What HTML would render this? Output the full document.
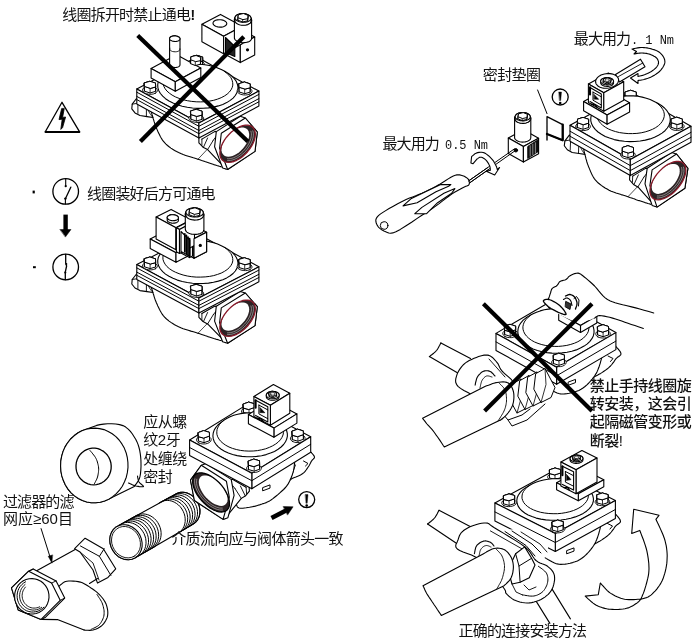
<!DOCTYPE html>
<html><head><meta charset="utf-8"><title>安装说明</title>
<style>html,body{margin:0;padding:0;background:#fff}svg{display:block}
text{font-family:"Liberation Sans","Noto Sans CJK SC",sans-serif;font-size:14px;fill:#111}
</style></head><body>
<svg width="700" height="643" viewBox="0 0 700 643" stroke-linejoin="round" stroke-linecap="round">
<defs><filter id="idf" x="0" y="0" width="700" height="643" filterUnits="userSpaceOnUse"><feOffset dx="0" dy="0"/></filter></defs>
<rect width="700" height="643" fill="#fff"/>
<path d="M136.5 274 L132.2 279.5 L131.8 284 L135 288 L140 290.6 L147 291.6 L153 292.5 L153 276Z" fill="#fff" stroke="#000" stroke-width="1.1" />
<path d="M137.9 278.6 L137.9 288.5" fill="none" stroke="#000" stroke-width="0.9" />
<path d="M146.4 282 L146.4 291.4" fill="none" stroke="#000" stroke-width="0.9" />
<path d="M132.2 279.5 L137.9 278.6 L146.4 282" fill="none" stroke="#000" stroke-width="0.9" />
<path d="M150 282 L150.2 282.8 L150.5 283.9 L150.8 285.1 L151.2 286.5 L151.6 288 L152 289.5 L152.5 291.1 L152.9 292.5 L153.3 293.9 L153.8 295.3 L154.2 296.8 L154.7 298.3 L155.2 299.7 L155.8 301.2 L156.4 302.8 L157.1 304.3 L157.8 305.9 L158.6 307.5 L159.4 309.2 L160.2 310.8 L161.2 312.5 L162.2 314.1 L163.3 315.6 L164.6 317.1 L166 318.5 L167.5 319.8 L169.1 321.1 L170.9 322.4 L172.7 323.5 L174.6 324.7 L176.6 325.8 L178.6 326.8 L180.8 327.8 L183.2 328.7 L185.7 329.5 L188.3 330.3 L190.9 331.1 L193.4 331.8 L195.8 332.5 L197.9 333.2 L199.8 333.8 L201.6 334.4 L203.3 335 L204.8 335.6 L206.3 336.1 L207.8 336.6 L209.2 337 L210.7 337.5 L212.2 338 L213.8 338.5 L215.3 338.9 L216.8 339.4 L218.3 339.8 L219.5 340.2 L220.6 340.5 L221.4 340.7 L240 330 L240 300 L200 290 L150 275Z" fill="#fff" stroke="none" stroke-width="0" />
<path d="M150 282 L150.2 282.8 L150.5 283.9 L150.8 285.1 L151.2 286.5 L151.6 288 L152 289.5 L152.5 291.1 L152.9 292.5 L153.3 293.9 L153.8 295.3 L154.2 296.8 L154.7 298.3 L155.2 299.7 L155.8 301.2 L156.4 302.8 L157.1 304.3 L157.8 305.9 L158.6 307.5 L159.4 309.2 L160.2 310.8 L161.2 312.5 L162.2 314.1 L163.3 315.6 L164.6 317.1 L166 318.5 L167.5 319.8 L169.1 321.1 L170.9 322.4 L172.7 323.5 L174.6 324.7 L176.6 325.8 L178.6 326.8 L180.8 327.8 L183.2 328.7 L185.7 329.5 L188.3 330.3 L190.9 331.1 L193.4 331.8 L195.8 332.5 L197.9 333.2 L199.8 333.8 L201.6 334.4 L203.3 335 L204.8 335.6 L206.3 336.1 L207.8 336.6 L209.2 337 L210.7 337.5 L212.2 338 L213.8 338.5 L215.3 338.9 L216.8 339.4 L218.3 339.8 L219.5 340.2 L220.6 340.5 L221.4 340.7" fill="none" stroke="#000" stroke-width="1.1" />
<path d="M146 278 L146.2 278.7 L146.5 279.7 L146.9 280.9 L147.3 282.2 L147.7 283.5 L148.1 284.8 L148.6 286 L149 287 L149.5 287.9 L150 288.8 L150.6 289.6 L151.1 290.3 L151.7 291 L152.2 291.6 L152.6 292.1 L152.9 292.5" fill="none" stroke="#000" stroke-width="0.9" />
<path d="M198.9 311 L198.9 317.3 L203 321.5 L207.6 323.9 L225.9 342.7 L230 320 L222 306 L215 305Z" fill="#fff" stroke="none" stroke-width="0" />
<path d="M198.9 312.9 L198.9 317.3 L203 321.5 L207.6 323.9 L225.9 342.7" fill="none" stroke="#000" stroke-width="1.1" />
<path d="M201.9 313.6 L201.9 319.5" fill="none" stroke="#000" stroke-width="0.9" />
<path d="M201.9 313.6 L215 306.1 L221.3 307.9" fill="none" stroke="#000" stroke-width="1.1" />
<path d="M207.6 312.5 L203.5 321.5" fill="none" stroke="#000" stroke-width="0.9" />
<path d="M213.3 314.7 L219.6 306.7" fill="none" stroke="#000" stroke-width="0.9" />
<path d="M213.3 314.7 L207.6 323.9" fill="none" stroke="#000" stroke-width="0.9" />
<path d="M198 333.2 L207 323.9" fill="none" stroke="#000" stroke-width="0.7" />
<path d="M214.6 321.1 L216.3 306.3 L240.3 291.4 L245.3 293 L257.3 306.7 L255 325.6 L227.6 343.3 L222.6 341.7Z" fill="#fff" stroke="#000" stroke-width="1.1" />
<path d="M221.3 307.9 L245.3 293 L257.3 306.7 L255 325.6 L227.6 343.3 L219.6 322.7Z" fill="#fff" stroke="#000" stroke-width="1.1" />
<path d="M255.1 311.7 L255.4 309.1 L255.1 306.7 L254.5 304.5 L253.4 302.8 L251.9 301.4 L250 300.5 L247.8 300.1 L245.4 300.1 L242.7 300.5 L239.9 301.5 L237 302.8 L234.2 304.6 L231.4 306.7 L228.9 309.1 L226.5 311.8 L224.4 314.6 L222.7 317.5 L221.3 320.4 L220.4 323.3 L219.9 326 L219.9 328.6 L220.3 330.8 L221.2 332.8 L222.5 334.3 L224.2 335.5 L226.3 336.2 L228.6 336.4 L231.2 336.2 L233.9 335.4 L236.7 334.3 L239.6 332.7 L242.4 330.8 L245.1 328.5 L247.6 326 L249.8 323.2 L251.7 320.3 L253.2 317.4 L254.4 314.5 L255.1 311.7Z" fill="#2b2224" stroke="none" stroke-width="0" />
<path d="M249 311.5 L249.2 309.4 L249 307.6 L248.5 305.9 L247.7 304.5 L246.5 303.5 L245 302.8 L243.3 302.4 L241.4 302.4 L239.3 302.8 L237.1 303.5 L234.9 304.6 L232.7 306 L230.5 307.6 L228.5 309.5 L226.7 311.6 L225.1 313.8 L223.7 316 L222.7 318.3 L221.9 320.6 L221.6 322.7 L221.5 324.7 L221.9 326.4 L222.6 327.9 L223.6 329.2 L224.9 330 L226.5 330.6 L228.3 330.8 L230.3 330.6 L232.5 330 L234.7 329.1 L236.9 327.9 L239.1 326.4 L241.2 324.6 L243.1 322.6 L244.9 320.5 L246.3 318.2 L247.6 316 L248.4 313.7 L249 311.5Z" fill="#fff" stroke="none" stroke-width="0" />
<path d="M227.5 332.8 L228.8 332.8 L230.3 332.7 L231.8 332.3 L233.4 331.8 L235 331.2 L236.6 330.4 L238.3 329.4 L239.9 328.3 L241.4 327.1 L242.9 325.7 L244.3 324.3 L245.6 322.8 L246.8 321.2 L247.9 319.6 L248.9 317.9 L249.7 316.3 L250.4 314.6 L250.9 313 L251.2 311.4 L251.4 309.9 L251.4 308.5 L251.2 307.1 L250.9 305.9" fill="none" stroke="#cfc8c8" stroke-width="0.6" />
<path d="M227.5 334.6 L229 334.6 L230.5 334.4 L232.2 334.1 L233.9 333.6 L235.6 332.8 L237.4 332 L239.1 330.9 L240.9 329.7 L242.5 328.4 L244.2 327 L245.7 325.4 L247.1 323.8 L248.4 322 L249.6 320.3 L250.7 318.5 L251.6 316.7 L252.3 314.9 L252.8 313.2 L253.2 311.5 L253.4 309.8 L253.4 308.3 L253.2 306.8 L252.8 305.5" fill="none" stroke="#cfc8c8" stroke-width="0.6" />
<path d="M255.1 311.7 L255.4 309.1 L255.1 306.7 L254.5 304.5 L253.4 302.8 L251.9 301.4 L250 300.5 L247.8 300.1 L245.4 300.1 L242.7 300.5 L239.9 301.5 L237 302.8 L234.2 304.6 L231.4 306.7 L228.9 309.1 L226.5 311.8 L224.4 314.6 L222.7 317.5 L221.3 320.4 L220.4 323.3 L219.9 326 L219.9 328.6 L220.3 330.8 L221.2 332.8 L222.5 334.3 L224.2 335.5 L226.3 336.2 L228.6 336.4 L231.2 336.2 L233.9 335.4 L236.7 334.3 L239.6 332.7 L242.4 330.8 L245.1 328.5 L247.6 326 L249.8 323.2 L251.7 320.3 L253.2 317.4 L254.4 314.5 L255.1 311.7Z" fill="none" stroke="#8a1a2a" stroke-width="1.3" />
<path d="M136.8 264.6 L198.9 297.9 L258.9 266.8 L196.8 233.5Z" fill="#fff" stroke="#000" stroke-width="1.1" />
<path d="M136.8 264.6 L198.9 297.9 L198.9 312.9 L136.8 279.6Z" fill="#fff" stroke="#000" stroke-width="1.1" />
<path d="M198.9 297.9 L258.9 266.8 L258.9 281.8 L198.9 312.9Z" fill="#fff" stroke="#000" stroke-width="1.1" />
<path d="M136.8 267.9 L198.9 301.2 L258.9 270.1" fill="none" stroke="#000" stroke-width="1" />
<path d="M136.8 272.1 L198.9 305.4 L258.9 274.3" fill="none" stroke="#000" stroke-width="1" />
<path d="M136.8 275.3 L198.9 308.6 L258.9 277.5" fill="none" stroke="#000" stroke-width="1" />
<path d="M202.4 243.5 L203.8 242.4 L204.4 241.2 L204.3 239.9 L203.4 238.7 L201.7 237.7 L199.6 237 L197.2 236.7 L194.8 236.8 L192.6 237.3 L190.9 238.2 L189.9 239.3 L189.6 240.6 L190.1 241.9 L191.4 243 L193.3 243.9 L195.6 244.4 L198.1 244.5 L200.4 244.2 L202.4 243.5Z" fill="#fff" stroke="#000" stroke-width="0.9" />
<path d="M191.4 233.3 L196.9 231.7 L202.6 233.5 L202.7 236.9 L202.7 241.6 L197.1 243.2 L191.5 241.4 L191.4 238Z" fill="#fff" stroke="#000" stroke-width="1" />
<path d="M202.7 236.9 L202.6 233.5 L196.9 231.7 L191.4 233.3 L191.5 236.7 L197.1 238.5Z" fill="#fff" stroke="#000" stroke-width="1" />
<path d="M202.7 236.9 L202.7 241.6" fill="none" stroke="#000" stroke-width="0.8" />
<path d="M202.6 233.5 L202.6 238.2" fill="none" stroke="#000" stroke-width="0.8" />
<path d="M196.9 231.7 L196.9 236.4" fill="none" stroke="#000" stroke-width="0.8" />
<path d="M191.4 233.3 L191.4 238" fill="none" stroke="#000" stroke-width="0.8" />
<path d="M191.5 236.7 L191.5 241.4" fill="none" stroke="#000" stroke-width="0.8" />
<path d="M197.1 238.5 L197.1 243.2" fill="none" stroke="#000" stroke-width="0.8" />
<path d="M202.7 236.9 L202.6 233.5 L196.9 231.7 L191.4 233.3 L191.5 236.7 L197.1 238.5Z" fill="#fff" stroke="#000" stroke-width="1" />
<path d="M157.7 260.6 L158.2 257.8 L159.5 255.1 L161.4 252.5 L164 250.1 L167.2 247.9 L170.9 246 L174.4 244.4 L178 243 L182.1 241.8 L186.4 241 L190.9 240.4 L195.5 240.2 L200.2 240.4 L204.8 240.8 L209.3 241.6 L213.6 242.7 L217.6 244 L221.3 245.7 L224.8 247.4 L228.5 249.6 L231.7 251.9 L234.3 254.5 L236.2 257.2 L237.4 259.9 L238 262.8 L237.8 265.6 L236.9 268.4 L235.3 271 L233.1 273.5 L230.2 275.8 L226.7 277.9 L222.8 279.7 L218.3 281.1 L213.5 282.3 L208.5 283.1 L203.2 283.5 L197.9 283.6 L192.5 283.2 L187.3 282.5 L182.2 281.5 L177.4 280.1 L173 278.3 L169 276.3 L165.5 274.1 L162.7 271.6 L160.4 269 L158.8 266.3 L157.9 263.4Z" fill="#fff" stroke="#000" stroke-width="1.1" />
<path d="M170.7 246.4 L168.1 248.2 L165.9 250.3 L164.4 252.5 L163.3 254.8 L162.9 257.2 L163 259.5 L163.8 261.9 L165.1 264.2 L166.9 266.5 L169.3 268.6 L172.1 270.5 L175.4 272.2 L179.1 273.7 L183.1 275 L187.3 276 L191.7 276.7 L196.2 277.1 L200.7 277.1 L205.2 276.9 L209.6 276.4 L213.7 275.6 L217.6 274.4 L221.2 273.1 L224.4 271.4 L227.1 269.6 L229.3 267.6 L231 265.4 L232.2 263.2 L232.8 260.8 L232.7 258.4 L232.1 256 L231 253.7 L229.2 251.4 L227 249.3 L224.2 247.3" fill="none" stroke="#000" stroke-width="1" />
<path d="M155.3 268.8 L156.7 267.8 L157.4 266.6 L157.2 265.3 L156.3 264.1 L154.7 263.1 L152.6 262.4 L150.1 262 L147.7 262.2 L145.5 262.7 L143.8 263.6 L142.8 264.7 L142.5 266 L143.1 267.3 L144.4 268.4 L146.3 269.3 L148.6 269.8 L151 269.9 L153.3 269.6 L155.3 268.8Z" fill="#fff" stroke="#000" stroke-width="0.9" />
<path d="M144.3 258.6 L149.8 257.1 L155.5 258.9 L155.6 262.3 L155.6 267 L150.1 268.6 L144.4 266.8 L144.3 263.4Z" fill="#fff" stroke="#000" stroke-width="1" />
<path d="M155.6 262.3 L155.5 258.9 L149.9 257 L144.3 258.7 L144.4 262.1 L150.1 263.9Z" fill="#fff" stroke="#000" stroke-width="1" />
<path d="M155.6 262.3 L155.6 267" fill="none" stroke="#000" stroke-width="0.8" />
<path d="M155.5 258.9 L155.5 263.6" fill="none" stroke="#000" stroke-width="0.8" />
<path d="M149.9 257 L149.9 261.7" fill="none" stroke="#000" stroke-width="0.8" />
<path d="M144.3 258.7 L144.3 263.4" fill="none" stroke="#000" stroke-width="0.8" />
<path d="M144.4 262.1 L144.4 266.8" fill="none" stroke="#000" stroke-width="0.8" />
<path d="M150.1 263.9 L150.1 268.6" fill="none" stroke="#000" stroke-width="0.8" />
<path d="M155.6 262.3 L155.5 258.9 L149.9 257 L144.3 258.7 L144.4 262.1 L150.1 263.9Z" fill="#fff" stroke="#000" stroke-width="1" />
<path d="M249.9 269.6 L251.3 268.5 L252 267.3 L251.8 266 L250.9 264.8 L249.3 263.8 L247.1 263.1 L244.7 262.8 L242.3 262.9 L240.1 263.4 L238.4 264.3 L237.4 265.5 L237.1 266.7 L237.7 268 L239 269.1 L240.9 270 L243.2 270.5 L245.6 270.6 L247.9 270.3 L249.9 269.6Z" fill="#fff" stroke="#000" stroke-width="0.9" />
<path d="M238.9 259.4 L244.4 257.8 L250.1 259.6 L250.2 263 L250.2 267.7 L244.7 269.3 L239 267.5 L238.9 264.1Z" fill="#fff" stroke="#000" stroke-width="1" />
<path d="M250.2 263 L250.1 259.6 L244.4 257.8 L238.9 259.4 L239 262.8 L244.7 264.6Z" fill="#fff" stroke="#000" stroke-width="1" />
<path d="M250.2 263 L250.2 267.7" fill="none" stroke="#000" stroke-width="0.8" />
<path d="M250.1 259.6 L250.1 264.3" fill="none" stroke="#000" stroke-width="0.8" />
<path d="M244.4 257.8 L244.4 262.5" fill="none" stroke="#000" stroke-width="0.8" />
<path d="M238.9 259.4 L238.9 264.1" fill="none" stroke="#000" stroke-width="0.8" />
<path d="M239 262.8 L239 267.5" fill="none" stroke="#000" stroke-width="0.8" />
<path d="M244.7 264.6 L244.7 269.3" fill="none" stroke="#000" stroke-width="0.8" />
<path d="M250.2 263 L250.1 259.6 L244.4 257.8 L238.9 259.4 L239 262.8 L244.7 264.6Z" fill="#fff" stroke="#000" stroke-width="1" />
<path d="M201.7 296.2 L203.1 295.2 L203.7 294 L203.6 292.7 L202.6 291.5 L201 290.4 L198.9 289.7 L196.5 289.4 L194.1 289.5 L191.9 290.1 L190.2 291 L189.1 292.1 L188.9 293.4 L189.4 294.7 L190.7 295.8 L192.6 296.7 L194.9 297.2 L197.4 297.3 L199.7 296.9 L201.7 296.2Z" fill="#fff" stroke="#000" stroke-width="0.9" />
<path d="M190.7 286 L196.2 284.4 L201.9 286.2 L202 289.7 L202 294.4 L196.4 296 L190.8 294.1 L190.7 290.7Z" fill="#fff" stroke="#000" stroke-width="1" />
<path d="M202 289.7 L201.9 286.2 L196.2 284.4 L190.6 286 L190.8 289.5 L196.4 291.3Z" fill="#fff" stroke="#000" stroke-width="1" />
<path d="M202 289.7 L202 294.4" fill="none" stroke="#000" stroke-width="0.8" />
<path d="M201.9 286.2 L201.9 290.9" fill="none" stroke="#000" stroke-width="0.8" />
<path d="M196.2 284.4 L196.2 289.1" fill="none" stroke="#000" stroke-width="0.8" />
<path d="M190.6 286 L190.6 290.7" fill="none" stroke="#000" stroke-width="0.8" />
<path d="M190.8 289.5 L190.8 294.2" fill="none" stroke="#000" stroke-width="0.8" />
<path d="M196.4 291.3 L196.4 296" fill="none" stroke="#000" stroke-width="0.8" />
<path d="M202 289.7 L201.9 286.2 L196.2 284.4 L190.6 286 L190.8 289.5 L196.4 291.3Z" fill="#fff" stroke="#000" stroke-width="1" />
<path d="M150.2 239 L176 252.8 L189.5 245.8 L163.7 232Z" fill="#fff" stroke="#000" stroke-width="1.1" />
<path d="M150.2 239 L176 252.8 L176 262.3 L150.2 248.5Z" fill="#fff" stroke="#000" stroke-width="1.1" />
<path d="M176 252.8 L189.5 245.8 L189.5 255.3 L176 262.3Z" fill="#fff" stroke="#000" stroke-width="1.1" />
<path d="M181 231.7 L194 238.7 L206.6 232.2 L193.6 225.2Z" fill="#fff" stroke="#000" stroke-width="1.1" />
<path d="M181 231.7 L194 238.7 L194 258.2 L181 251.2Z" fill="#fff" stroke="#000" stroke-width="1.1" />
<path d="M194 238.7 L206.6 232.2 L206.6 251.7 L194 258.2Z" fill="#fff" stroke="#000" stroke-width="1.1" />
<path d="M178.3 234.6 L189.5 240.6 L192.5 239 L181.3 233.1Z" fill="#fff" stroke="#000" stroke-width="1.1" />
<path d="M178.3 234.6 L189.5 240.6 L189.5 257.6 L178.3 251.6Z" fill="#fff" stroke="#000" stroke-width="1.1" />
<path d="M189.5 240.6 L192.5 239 L192.5 256 L189.5 257.6Z" fill="#fff" stroke="#000" stroke-width="1.1" />
<path d="M156.1 217.1 L176 227.8 L191 220 L171.1 209.4Z" fill="#fff" stroke="#000" stroke-width="1.1" />
<path d="M156.1 217.1 L176 227.8 L176 249.8 L156.1 239.1Z" fill="#fff" stroke="#000" stroke-width="1.1" />
<path d="M176 227.8 L191 220 L191 242 L176 249.8Z" fill="#fff" stroke="#000" stroke-width="1.1" />
<path d="M176.4 227.7 L179.5 229.4 L194.5 221.6 L191.4 220Z" fill="#fff" stroke="#000" stroke-width="1.1" />
<path d="M176.4 227.7 L179.5 229.4 L179.5 253.4 L176.4 251.7Z" fill="#fff" stroke="#000" stroke-width="1.1" />
<path d="M179.5 229.4 L194.5 221.6 L194.5 245.6 L179.5 253.4Z" fill="#fff" stroke="#000" stroke-width="1.1" />
<path d="M181 231.5 L189.8 240.2 L189.8 256.2 L181 251.5Z" fill="#fff" stroke="#000" stroke-width="1.1" />
<path d="M184.8 233.8 L184.8 251.8" fill="none" stroke="#000" stroke-width="1.7" />
<path d="M186.4 235.4 L186.4 253.4" fill="none" stroke="#000" stroke-width="1.7" />
<path d="M188 237.1 L188 255.1" fill="none" stroke="#000" stroke-width="1.7" />
<path d="M189.6 238.7 L189.6 256.7" fill="none" stroke="#000" stroke-width="1.7" />
<path d="M194 238.7 L206.6 232.2 L206.6 251.7 L194 258.2Z" fill="#fff" stroke="#000" stroke-width="1.1" />
<circle cx="200.3" cy="245.4" r="1.6" fill="#000"/>
<path d="M167.2 217.4 L167.3 216.9 L167.6 216.5 L167.9 216.1 L168.5 215.7 L169.1 215.4 L169.8 215.1 L170.6 214.9 L171.5 214.8 L172.4 214.7 L173.3 214.8 L174.2 214.9 L175 215 L175.8 215.3 L176.5 215.6 L177.2 215.9 L177.7 216.4 L178.1 216.8 L178.3 217.3 L178.4 217.7 L178.4 220.2 L178.4 220.7 L178.2 221.2 L177.9 221.6 L177.4 222 L176.8 222.4 L176.2 222.7 L175.4 222.9 L174.6 223.1 L173.7 223.1 L172.8 223.2 L171.9 223.1 L171 222.9 L170.2 222.7 L169.4 222.5 L168.7 222.1 L168.2 221.8 L167.7 221.3 L167.4 220.9 L167.2 220.4 L167.2 219.9Z" fill="#fff" stroke="#000" stroke-width="1.1" />
<path d="M176.8 219.9 L177.4 219.5 L177.9 219.1 L178.2 218.7 L178.4 218.2 L178.4 217.7 L178.3 217.3 L178.1 216.8 L177.7 216.4 L177.2 216 L176.5 215.6 L175.8 215.3 L175 215 L174.2 214.9 L173.3 214.8 L172.4 214.7 L171.5 214.8 L170.6 214.9 L169.8 215.1 L169.1 215.4 L168.5 215.7 L167.9 216.1 L167.6 216.5 L167.3 217 L167.2 217.4 L167.2 217.9 L167.4 218.4 L167.7 218.8 L168.2 219.2 L168.7 219.6 L169.4 220 L170.2 220.2 L171 220.5 L171.9 220.6 L172.8 220.7 L173.7 220.6 L174.6 220.6 L175.4 220.4 L176.2 220.2 L176.8 219.9Z" fill="#fff" stroke="#000" stroke-width="1.1" />
<path d="M185.3 214 L185.5 213.3 L185.9 212.5 L186.6 211.8 L187.4 211.2 L188.5 210.7 L189.7 210.2 L191 209.9 L192.4 209.7 L193.9 209.6 L195.4 209.7 L196.8 209.8 L198.3 210.1 L199.6 210.5 L200.8 211 L201.8 211.6 L202.7 212.3 L203.3 213 L203.7 213.8 L203.9 214.6 L203.9 229.6 L203.8 230.3 L203.5 231.1 L203 231.8 L202.2 232.5 L201.3 233.1 L200.2 233.6 L198.9 233.9 L197.5 234.2 L196.1 234.4 L194.6 234.4 L193.1 234.3 L191.6 234.1 L190.3 233.7 L189 233.2 L187.9 232.7 L186.9 232.1 L186.2 231.4 L185.7 230.6 L185.4 229.8 L185.3 229Z" fill="#fff" stroke="#000" stroke-width="1.1" />
<path d="M201.3 218.1 L202.2 217.5 L203 216.8 L203.5 216.1 L203.8 215.4 L203.9 214.6 L203.7 213.8 L203.3 213 L202.7 212.3 L201.8 211.6 L200.8 211 L199.6 210.5 L198.3 210.1 L196.8 209.8 L195.4 209.6 L193.9 209.6 L192.4 209.7 L191 209.9 L189.7 210.2 L188.5 210.7 L187.4 211.2 L186.6 211.8 L185.9 212.5 L185.5 213.3 L185.3 214 L185.4 214.8 L185.7 215.6 L186.2 216.4 L186.9 217.1 L187.9 217.7 L189 218.3 L190.3 218.7 L191.6 219.1 L193.1 219.3 L194.6 219.4 L196.1 219.4 L197.5 219.2 L198.9 219 L200.2 218.6 L201.3 218.1Z" fill="#fff" stroke="#000" stroke-width="1.1" />
<path d="M186 212.1 L186.1 211.3 L186.5 210.7 L187.1 210 L187.9 209.4 L188.9 208.9 L190 208.5 L191.2 208.2 L192.6 208 L193.9 207.9 L195.3 208 L196.7 208.1 L198 208.4 L199.2 208.8 L200.3 209.3 L201.3 209.8 L202.1 210.4 L202.7 211.1 L203.1 211.8 L203.2 212.6 L203.2 215.6 L203.2 216.3 L202.9 217 L202.4 217.7 L201.7 218.3 L200.8 218.8 L199.8 219.3 L198.6 219.6 L197.3 219.9 L196 220 L194.6 220.1 L193.2 219.9 L191.8 219.7 L190.6 219.4 L189.4 219 L188.3 218.5 L187.5 217.9 L186.8 217.2 L186.3 216.5 L186 215.8 L186 215.1Z" fill="#fff" stroke="#000" stroke-width="1.1" />
<path d="M200.8 215.8 L201.7 215.3 L202.4 214.7 L202.9 214 L203.2 213.3 L203.2 212.6 L203.1 211.8 L202.7 211.1 L202.1 210.4 L201.3 209.8 L200.3 209.3 L199.2 208.8 L198 208.4 L196.7 208.1 L195.3 208 L193.9 207.9 L192.6 208 L191.2 208.2 L190 208.5 L188.9 208.9 L187.9 209.4 L187.1 210 L186.5 210.7 L186.1 211.3 L186 212.1 L186 212.8 L186.3 213.5 L186.8 214.2 L187.5 214.9 L188.4 215.5 L189.4 216 L190.6 216.4 L191.8 216.7 L193.2 217 L194.6 217 L196 217 L197.3 216.9 L198.6 216.6 L199.8 216.3 L200.8 215.8Z" fill="#fff" stroke="#000" stroke-width="1.1" />
<path d="M189.2 212.2 L189.6 209.1 L195 207.8 L200 209.8 L200 212.2 L199.6 215.4 L194.2 216.7 L189.2 214.8Z" fill="#fff" stroke="#000" stroke-width="1" />
<path d="M199.6 212.9 L199.6 215.4" fill="none" stroke="#000" stroke-width="0.8" />
<path d="M200 209.8 L200 212.3" fill="none" stroke="#000" stroke-width="0.8" />
<path d="M195 207.8 L195 210.3" fill="none" stroke="#000" stroke-width="0.8" />
<path d="M189.6 209.1 L189.6 211.6" fill="none" stroke="#000" stroke-width="0.8" />
<path d="M189.2 212.2 L189.2 214.7" fill="none" stroke="#000" stroke-width="0.8" />
<path d="M194.2 214.2 L194.2 216.7" fill="none" stroke="#000" stroke-width="0.8" />
<path d="M199.6 212.9 L200 209.8 L195 207.8 L189.6 209.1 L189.2 212.2 L194.2 214.2Z" fill="#fff" stroke="#000" stroke-width="1" />
<path d="M136.5 98.5 L132.2 104.2 L131.8 108.8 L135 112.9 L140 115.5 L147 116.6 L153 117.5 L153 100.6Z" fill="#fff" stroke="#000" stroke-width="1.1" />
<path d="M137.9 103.2 L137.9 113.4" fill="none" stroke="#000" stroke-width="0.9" />
<path d="M146.4 106.7 L146.4 116.4" fill="none" stroke="#000" stroke-width="0.9" />
<path d="M132.2 104.2 L137.9 103.2 L146.4 106.7" fill="none" stroke="#000" stroke-width="0.9" />
<path d="M150 106.7 L150.2 107.5 L150.5 108.6 L150.8 109.9 L151.2 111.4 L151.6 112.9 L152 114.5 L152.5 116 L152.9 117.5 L153.3 118.9 L153.8 120.4 L154.2 121.9 L154.7 123.4 L155.2 124.9 L155.8 126.5 L156.4 128 L157.1 129.6 L157.8 131.2 L158.6 132.9 L159.4 134.6 L160.2 136.3 L161.2 138 L162.2 139.6 L163.3 141.2 L164.6 142.7 L166 144.1 L167.5 145.5 L169.1 146.8 L170.9 148.1 L172.7 149.3 L174.6 150.5 L176.6 151.6 L178.6 152.6 L180.8 153.6 L183.2 154.6 L185.7 155.4 L188.3 156.2 L190.9 157 L193.4 157.8 L195.8 158.5 L197.9 159.2 L199.8 159.8 L201.6 160.5 L203.3 161 L204.8 161.6 L206.3 162.1 L207.8 162.6 L209.2 163.1 L210.7 163.6 L212.2 164.1 L213.8 164.6 L215.3 165 L216.8 165.5 L218.3 165.9 L219.5 166.3 L220.6 166.6 L221.4 166.9 L240 155.9 L240 125.1 L200 114.9 L150 99.6Z" fill="#fff" stroke="none" stroke-width="0" />
<path d="M150 106.7 L150.2 107.5 L150.5 108.6 L150.8 109.9 L151.2 111.4 L151.6 112.9 L152 114.5 L152.5 116 L152.9 117.5 L153.3 118.9 L153.8 120.4 L154.2 121.9 L154.7 123.4 L155.2 124.9 L155.8 126.5 L156.4 128 L157.1 129.6 L157.8 131.2 L158.6 132.9 L159.4 134.6 L160.2 136.3 L161.2 138 L162.2 139.6 L163.3 141.2 L164.6 142.7 L166 144.1 L167.5 145.5 L169.1 146.8 L170.9 148.1 L172.7 149.3 L174.6 150.5 L176.6 151.6 L178.6 152.6 L180.8 153.6 L183.2 154.6 L185.7 155.4 L188.3 156.2 L190.9 157 L193.4 157.8 L195.8 158.5 L197.9 159.2 L199.8 159.8 L201.6 160.5 L203.3 161 L204.8 161.6 L206.3 162.1 L207.8 162.6 L209.2 163.1 L210.7 163.6 L212.2 164.1 L213.8 164.6 L215.3 165 L216.8 165.5 L218.3 165.9 L219.5 166.3 L220.6 166.6 L221.4 166.9" fill="none" stroke="#000" stroke-width="1.1" />
<path d="M146 102.6 L146.2 103.4 L146.5 104.4 L146.9 105.6 L147.3 106.9 L147.7 108.3 L148.1 109.6 L148.6 110.8 L149 111.9 L149.5 112.8 L150 113.6 L150.6 114.5 L151.1 115.2 L151.7 115.9 L152.2 116.6 L152.6 117.1 L152.9 117.5" fill="none" stroke="#000" stroke-width="0.9" />
<path d="M198.9 136.4 L198.9 142.9 L203 147.2 L207.6 149.6 L225.9 168.9 L230 145.6 L222 131.3 L215 130.3Z" fill="#fff" stroke="none" stroke-width="0" />
<path d="M198.9 138.4 L198.9 142.9 L203 147.2 L207.6 149.6 L225.9 168.9" fill="none" stroke="#000" stroke-width="1.1" />
<path d="M201.9 139.1 L201.9 145.1" fill="none" stroke="#000" stroke-width="0.9" />
<path d="M201.9 139.1 L215 131.4 L221.3 133.2" fill="none" stroke="#000" stroke-width="1.1" />
<path d="M207.6 138 L203.5 147.2" fill="none" stroke="#000" stroke-width="0.9" />
<path d="M213.3 140.2 L219.6 132" fill="none" stroke="#000" stroke-width="0.9" />
<path d="M213.3 140.2 L207.6 149.6" fill="none" stroke="#000" stroke-width="0.9" />
<path d="M198 159.2 L207 149.6" fill="none" stroke="#000" stroke-width="0.7" />
<path d="M214.6 146.8 L216.3 131.6 L240.3 116.3 L245.3 118 L257.3 132 L255 151.4 L227.6 169.5 L222.6 167.9Z" fill="#fff" stroke="#000" stroke-width="1.1" />
<path d="M221.3 133.2 L245.3 118 L257.3 132 L255 151.4 L227.6 169.5 L219.6 148.4Z" fill="#fff" stroke="#000" stroke-width="1.1" />
<path d="M255.1 137.1 L255.4 134.4 L255.1 131.9 L254.5 129.8 L253.4 128 L251.9 126.6 L250 125.7 L247.8 125.2 L245.4 125.2 L242.7 125.7 L239.9 126.6 L237 128 L234.2 129.9 L231.4 132 L228.9 134.5 L226.5 137.2 L224.4 140.1 L222.7 143.1 L221.3 146.1 L220.4 149 L219.9 151.8 L219.9 154.4 L220.3 156.8 L221.2 158.7 L222.5 160.3 L224.2 161.5 L226.3 162.2 L228.6 162.4 L231.2 162.2 L233.9 161.5 L236.7 160.3 L239.6 158.7 L242.4 156.7 L245.1 154.3 L247.6 151.7 L249.8 148.9 L251.7 146 L253.2 143 L254.4 140 L255.1 137.1Z" fill="#2b2224" stroke="none" stroke-width="0" />
<path d="M249 136.9 L249.2 134.8 L249 132.9 L248.5 131.2 L247.7 129.8 L246.5 128.7 L245 128 L243.3 127.6 L241.4 127.6 L239.3 128 L237.1 128.7 L234.9 129.8 L232.7 131.3 L230.5 132.9 L228.5 134.9 L226.7 137 L225.1 139.2 L223.7 141.6 L222.7 143.9 L221.9 146.2 L221.6 148.4 L221.5 150.4 L221.9 152.2 L222.6 153.8 L223.6 155 L224.9 155.9 L226.5 156.5 L228.3 156.7 L230.3 156.5 L232.5 155.9 L234.7 155 L236.9 153.7 L239.1 152.2 L241.2 150.3 L243.1 148.3 L244.9 146.1 L246.3 143.8 L247.6 141.5 L248.4 139.2 L249 136.9Z" fill="#fff" stroke="none" stroke-width="0" />
<path d="M227.5 158.7 L228.8 158.8 L230.3 158.6 L231.8 158.3 L233.4 157.8 L235 157.1 L236.6 156.3 L238.3 155.3 L239.9 154.1 L241.4 152.9 L242.9 151.5 L244.3 150 L245.6 148.5 L246.8 146.9 L247.9 145.2 L248.9 143.5 L249.7 141.8 L250.4 140.1 L250.9 138.4 L251.2 136.8 L251.4 135.3 L251.4 133.8 L251.2 132.4 L250.9 131.2" fill="none" stroke="#cfc8c8" stroke-width="0.6" />
<path d="M227.5 160.6 L229 160.6 L230.5 160.4 L232.2 160.1 L233.9 159.5 L235.6 158.8 L237.4 157.9 L239.1 156.8 L240.9 155.6 L242.5 154.2 L244.2 152.8 L245.7 151.2 L247.1 149.5 L248.4 147.7 L249.6 145.9 L250.7 144.1 L251.6 142.2 L252.3 140.4 L252.8 138.6 L253.2 136.9 L253.4 135.2 L253.4 133.6 L253.2 132.1 L252.8 130.8" fill="none" stroke="#cfc8c8" stroke-width="0.6" />
<path d="M255.1 137.1 L255.4 134.4 L255.1 131.9 L254.5 129.8 L253.4 128 L251.9 126.6 L250 125.7 L247.8 125.2 L245.4 125.2 L242.7 125.7 L239.9 126.6 L237 128 L234.2 129.9 L231.4 132 L228.9 134.5 L226.5 137.2 L224.4 140.1 L222.7 143.1 L221.3 146.1 L220.4 149 L219.9 151.8 L219.9 154.4 L220.3 156.8 L221.2 158.7 L222.5 160.3 L224.2 161.5 L226.3 162.2 L228.6 162.4 L231.2 162.2 L233.9 161.5 L236.7 160.3 L239.6 158.7 L242.4 156.7 L245.1 154.3 L247.6 151.7 L249.8 148.9 L251.7 146 L253.2 143 L254.4 140 L255.1 137.1Z" fill="none" stroke="#8a1a2a" stroke-width="1.3" />
<path d="M136.8 88.9 L198.9 123 L258.9 91.1 L196.8 57Z" fill="#fff" stroke="#000" stroke-width="1.1" />
<path d="M136.8 88.9 L198.9 123 L198.9 138 L136.8 103.9Z" fill="#fff" stroke="#000" stroke-width="1.1" />
<path d="M198.9 123 L258.9 91.1 L258.9 106.1 L198.9 138Z" fill="#fff" stroke="#000" stroke-width="1.1" />
<path d="M136.8 92.2 L198.9 126.3 L258.9 94.4" fill="none" stroke="#000" stroke-width="1" />
<path d="M136.8 96.4 L198.9 130.5 L258.9 98.6" fill="none" stroke="#000" stroke-width="1" />
<path d="M136.8 99.6 L198.9 133.7 L258.9 101.8" fill="none" stroke="#000" stroke-width="1" />
<path d="M202.4 67.2 L203.8 66.1 L204.4 64.9 L204.3 63.6 L203.4 62.3 L201.7 61.3 L199.6 60.6 L197.2 60.2 L194.8 60.4 L192.6 60.9 L190.9 61.8 L189.9 63 L189.6 64.3 L190.1 65.6 L191.4 66.8 L193.3 67.6 L195.6 68.2 L198.1 68.3 L200.4 67.9 L202.4 67.2Z" fill="#fff" stroke="#000" stroke-width="0.9" />
<path d="M191.4 56.9 L196.9 55.3 L202.6 57.1 L202.7 60.6 L202.7 65.3 L197.1 67 L191.5 65.1 L191.4 61.6Z" fill="#fff" stroke="#000" stroke-width="1" />
<path d="M202.7 60.6 L202.6 57.1 L196.9 55.3 L191.4 56.9 L191.5 60.4 L197.1 62.3Z" fill="#fff" stroke="#000" stroke-width="1" />
<path d="M202.7 60.6 L202.7 65.3" fill="none" stroke="#000" stroke-width="0.8" />
<path d="M202.6 57.1 L202.6 61.8" fill="none" stroke="#000" stroke-width="0.8" />
<path d="M196.9 55.3 L196.9 60" fill="none" stroke="#000" stroke-width="0.8" />
<path d="M191.4 56.9 L191.4 61.6" fill="none" stroke="#000" stroke-width="0.8" />
<path d="M191.5 60.4 L191.5 65.1" fill="none" stroke="#000" stroke-width="0.8" />
<path d="M197.1 62.3 L197.1 67" fill="none" stroke="#000" stroke-width="0.8" />
<path d="M202.7 60.6 L202.6 57.1 L196.9 55.3 L191.4 56.9 L191.5 60.4 L197.1 62.3Z" fill="#fff" stroke="#000" stroke-width="1" />
<path d="M157.7 84.9 L158.2 82 L159.5 79.2 L161.4 76.6 L164 74.1 L167.2 71.9 L170.9 69.9 L174.4 68.4 L178 66.9 L182.1 65.7 L186.4 64.8 L190.9 64.3 L195.5 64.1 L200.2 64.2 L204.8 64.7 L209.3 65.5 L213.6 66.6 L217.6 68 L221.3 69.6 L224.8 71.3 L228.5 73.5 L231.7 76 L234.3 78.6 L236.2 81.3 L237.4 84.2 L238 87.1 L237.8 90 L236.9 92.8 L235.3 95.5 L233.1 98.1 L230.2 100.4 L226.7 102.6 L222.8 104.4 L218.3 105.9 L213.5 107.1 L208.5 107.9 L203.2 108.3 L197.9 108.4 L192.5 108 L187.3 107.3 L182.2 106.2 L177.4 104.8 L173 103 L169 101 L165.5 98.7 L162.7 96.2 L160.4 93.5 L158.8 90.7 L157.9 87.8Z" fill="#fff" stroke="#000" stroke-width="1.1" />
<path d="M170.7 70.4 L168.1 72.3 L165.9 74.4 L164.4 76.6 L163.3 79 L162.9 81.4 L163 83.9 L163.8 86.3 L165.1 88.7 L166.9 91 L169.3 93.1 L172.1 95.1 L175.4 96.9 L179.1 98.4 L183.1 99.7 L187.3 100.7 L191.7 101.4 L196.2 101.8 L200.7 101.9 L205.2 101.7 L209.6 101.1 L213.7 100.3 L217.6 99.1 L221.2 97.7 L224.4 96 L227.1 94.2 L229.3 92.1 L231 89.9 L232.2 87.5 L232.8 85.1 L232.7 82.7 L232.1 80.2 L231 77.8 L229.2 75.5 L227 73.4 L224.2 71.3" fill="none" stroke="#000" stroke-width="1" />
<path d="M155.3 93.2 L156.7 92.2 L157.4 90.9 L157.2 89.6 L156.3 88.3 L154.7 87.3 L152.6 86.6 L150.1 86.3 L147.7 86.4 L145.5 86.9 L143.8 87.8 L142.8 89 L142.5 90.3 L143.1 91.6 L144.4 92.8 L146.3 93.7 L148.6 94.2 L151 94.3 L153.3 94 L155.3 93.2Z" fill="#fff" stroke="#000" stroke-width="0.9" />
<path d="M144.3 82.9 L149.8 81.3 L155.5 83.1 L155.6 86.6 L155.6 91.3 L150.1 93 L144.4 91.1 L144.3 87.6Z" fill="#fff" stroke="#000" stroke-width="1" />
<path d="M155.6 86.6 L155.5 83.1 L149.9 81.3 L144.3 82.9 L144.4 86.4 L150.1 88.3Z" fill="#fff" stroke="#000" stroke-width="1" />
<path d="M155.6 86.6 L155.6 91.3" fill="none" stroke="#000" stroke-width="0.8" />
<path d="M155.5 83.1 L155.5 87.8" fill="none" stroke="#000" stroke-width="0.8" />
<path d="M149.9 81.3 L149.9 86" fill="none" stroke="#000" stroke-width="0.8" />
<path d="M144.3 82.9 L144.3 87.6" fill="none" stroke="#000" stroke-width="0.8" />
<path d="M144.4 86.4 L144.4 91.1" fill="none" stroke="#000" stroke-width="0.8" />
<path d="M150.1 88.3 L150.1 93" fill="none" stroke="#000" stroke-width="0.8" />
<path d="M155.6 86.6 L155.5 83.1 L149.9 81.3 L144.3 82.9 L144.4 86.4 L150.1 88.3Z" fill="#fff" stroke="#000" stroke-width="1" />
<path d="M249.9 93.9 L251.3 92.9 L252 91.6 L251.8 90.3 L250.9 89.1 L249.3 88 L247.1 87.3 L244.7 87 L242.3 87.1 L240.1 87.7 L238.4 88.6 L237.4 89.7 L237.1 91 L237.7 92.3 L239 93.5 L240.9 94.4 L243.2 94.9 L245.6 95 L247.9 94.7 L249.9 93.9Z" fill="#fff" stroke="#000" stroke-width="0.9" />
<path d="M238.9 83.7 L244.4 82 L250.1 83.9 L250.2 87.4 L250.2 92.1 L244.7 93.7 L239 91.9 L238.9 88.4Z" fill="#fff" stroke="#000" stroke-width="1" />
<path d="M250.2 87.4 L250.1 83.9 L244.4 82 L238.9 83.7 L239 87.2 L244.7 89Z" fill="#fff" stroke="#000" stroke-width="1" />
<path d="M250.2 87.4 L250.2 92.1" fill="none" stroke="#000" stroke-width="0.8" />
<path d="M250.1 83.9 L250.1 88.6" fill="none" stroke="#000" stroke-width="0.8" />
<path d="M244.4 82 L244.4 86.7" fill="none" stroke="#000" stroke-width="0.8" />
<path d="M238.9 83.7 L238.9 88.4" fill="none" stroke="#000" stroke-width="0.8" />
<path d="M239 87.2 L239 91.9" fill="none" stroke="#000" stroke-width="0.8" />
<path d="M244.7 89 L244.7 93.7" fill="none" stroke="#000" stroke-width="0.8" />
<path d="M250.2 87.4 L250.1 83.9 L244.4 82 L238.9 83.7 L239 87.2 L244.7 89Z" fill="#fff" stroke="#000" stroke-width="1" />
<path d="M201.7 121.3 L203.1 120.2 L203.7 119 L203.6 117.6 L202.6 116.4 L201 115.4 L198.9 114.6 L196.5 114.3 L194.1 114.4 L191.9 115 L190.2 115.9 L189.1 117.1 L188.9 118.4 L189.4 119.7 L190.7 120.8 L192.6 121.7 L194.9 122.2 L197.4 122.3 L199.7 122 L201.7 121.3Z" fill="#fff" stroke="#000" stroke-width="0.9" />
<path d="M190.7 111 L196.2 109.3 L201.9 111.2 L202 114.7 L202 119.4 L196.4 121 L190.8 119.2 L190.7 115.7Z" fill="#fff" stroke="#000" stroke-width="1" />
<path d="M202 114.7 L201.9 111.2 L196.2 109.3 L190.6 111 L190.8 114.5 L196.4 116.3Z" fill="#fff" stroke="#000" stroke-width="1" />
<path d="M202 114.7 L202 119.4" fill="none" stroke="#000" stroke-width="0.8" />
<path d="M201.9 111.2 L201.9 115.9" fill="none" stroke="#000" stroke-width="0.8" />
<path d="M196.2 109.3 L196.2 114" fill="none" stroke="#000" stroke-width="0.8" />
<path d="M190.6 111 L190.6 115.7" fill="none" stroke="#000" stroke-width="0.8" />
<path d="M190.8 114.5 L190.8 119.2" fill="none" stroke="#000" stroke-width="0.8" />
<path d="M196.4 116.3 L196.4 121" fill="none" stroke="#000" stroke-width="0.8" />
<path d="M202 114.7 L201.9 111.2 L196.2 109.3 L190.6 111 L190.8 114.5 L196.4 116.3Z" fill="#fff" stroke="#000" stroke-width="1" />
<path d="M151.1 68.4 L175.3 81.7 L200.8 68.1 L176.6 54.8Z" fill="#fff" stroke="#000" stroke-width="1.1" />
<path d="M151.1 68.4 L175.3 81.7 L175.3 91.2 L151.1 77.9Z" fill="#fff" stroke="#000" stroke-width="1.1" />
<path d="M175.3 81.7 L200.8 68.1 L200.8 77.6 L175.3 91.2Z" fill="#fff" stroke="#000" stroke-width="1.1" />
<path d="M190.7 59.7 L191.1 56.7 L196.1 55.5 L200.8 57.3 L200.8 61.3 L200.3 64.3 L195.3 65.5 L190.7 63.7Z" fill="#fff" stroke="#000" stroke-width="1" />
<path d="M200.4 60.3 L200.4 64.3" fill="none" stroke="#000" stroke-width="0.8" />
<path d="M200.7 57.3 L200.7 61.3" fill="none" stroke="#000" stroke-width="0.8" />
<path d="M196.1 55.5 L196.1 59.5" fill="none" stroke="#000" stroke-width="0.8" />
<path d="M191 56.7 L191 60.7" fill="none" stroke="#000" stroke-width="0.8" />
<path d="M190.7 59.7 L190.7 63.7" fill="none" stroke="#000" stroke-width="0.8" />
<path d="M195.3 61.5 L195.3 65.5" fill="none" stroke="#000" stroke-width="0.8" />
<path d="M200.4 60.3 L200.7 57.3 L196.1 55.5 L191 56.7 L190.7 59.7 L195.3 61.5Z" fill="#fff" stroke="#000" stroke-width="1" />
<path d="M169.6 38.4 L169.7 38 L170 37.6 L170.3 37.2 L170.8 36.8 L171.4 36.5 L172 36.3 L172.8 36.1 L173.6 36 L174.4 35.9 L175.2 35.9 L176.1 36 L176.8 36.2 L177.6 36.4 L178.2 36.7 L178.8 37 L179.3 37.4 L179.7 37.9 L179.9 38.3 L180 38.7 L180 64.7 L179.9 65.2 L179.8 65.6 L179.5 66 L179.1 66.4 L178.5 66.8 L177.9 67 L177.2 67.2 L176.4 67.4 L175.6 67.5 L174.8 67.5 L173.9 67.4 L173.1 67.3 L172.4 67.1 L171.7 66.8 L171.1 66.5 L170.5 66.2 L170.1 65.8 L169.8 65.3 L169.7 64.9 L169.6 64.4Z" fill="#fff" stroke="#000" stroke-width="1.1" />
<path d="M178.5 40.7 L179.1 40.4 L179.5 40 L179.8 39.6 L179.9 39.2 L180 38.7 L179.9 38.3 L179.6 37.8 L179.3 37.4 L178.8 37 L178.2 36.7 L177.6 36.4 L176.8 36.2 L176.1 36 L175.2 35.9 L174.4 35.9 L173.6 35.9 L172.8 36.1 L172 36.3 L171.4 36.5 L170.8 36.8 L170.3 37.2 L170 37.6 L169.7 38 L169.6 38.4 L169.7 38.9 L169.8 39.3 L170.1 39.8 L170.5 40.2 L171.1 40.5 L171.7 40.8 L172.4 41.1 L173.1 41.3 L174 41.4 L174.8 41.5 L175.6 41.5 L176.4 41.4 L177.2 41.2 L177.9 41 L178.5 40.7Z" fill="#fff" stroke="#000" stroke-width="1.1" />
<path d="M169.8 48.2 L169.6 49 L169.9 49.7 L170.5 50.4 L171.4 51 L172.5 51.5 L173.9 51.7 L175.3 51.8 L176.6 51.7 L177.8 51.4 L178.8 50.9 L179.6 50.2 L179.9 49.5 L179.9 48.8" fill="none" stroke="#000" stroke-width="0.9" />
<path d="M227.3 37.4 L240.3 44.6 L254.7 36.9 L241.7 29.8Z" fill="#fff" stroke="#000" stroke-width="1.1" />
<path d="M227.3 37.4 L240.3 44.6 L240.3 62.6 L227.3 55.4Z" fill="#fff" stroke="#000" stroke-width="1.1" />
<path d="M240.3 44.6 L254.7 36.9 L254.7 54.9 L240.3 62.6Z" fill="#fff" stroke="#000" stroke-width="1.1" />
<circle cx="247.5" cy="49.8" r="1.6" fill="#000"/>
<path d="M201.9 24.3 L223.6 36.2 L242.2 26.3 L220.5 14.4Z" fill="#fff" stroke="#000" stroke-width="1.1" />
<path d="M201.9 24.3 L223.6 36.2 L223.6 53.7 L201.9 41.8Z" fill="#fff" stroke="#000" stroke-width="1.1" />
<path d="M223.6 36.2 L242.2 26.3 L242.2 43.8 L223.6 53.7Z" fill="#fff" stroke="#000" stroke-width="1.1" />
<path d="M224.9 26.1 L226 25.3 L226.6 24.4 L226.8 23.4 L226.4 22.4 L225.6 21.5 L224.3 20.7 L222.8 20.1 L221 19.7 L219.1 19.7 L217.3 19.9 L215.6 20.3 L214.3 21 L213.4 21.9 L213 22.9 L213.1 23.9 L213.7 24.9 L214.8 25.8 L216.2 26.5 L217.9 26.9 L219.8 27.1 L221.7 27.1 L223.4 26.7 L224.9 26.1Z" fill="#fff" stroke="#000" stroke-width="1.1" />
<path d="M225.5 37.5 L234.8 46.5 L234.8 56.5 L225.5 52.5Z" fill="#222" stroke="#000" stroke-width="1.1" />
<path d="M234.4 19.6 L234.5 18.8 L234.9 18.1 L235.5 17.4 L236.3 16.9 L237.3 16.3 L238.4 15.9 L239.6 15.6 L241 15.4 L242.3 15.3 L243.7 15.4 L245.1 15.5 L246.4 15.8 L247.6 16.2 L248.8 16.7 L249.7 17.2 L250.5 17.9 L251.1 18.6 L251.5 19.3 L251.6 20.1 L251.6 38.1 L251.6 38.8 L251.3 39.5 L250.8 40.2 L250.1 40.9 L249.2 41.4 L248.2 41.9 L247 42.2 L245.7 42.5 L244.4 42.6 L243 42.7 L241.6 42.6 L240.2 42.3 L239 42 L237.8 41.6 L236.8 41 L235.9 40.4 L235.2 39.8 L234.7 39.1 L234.4 38.3 L234.4 37.6Z" fill="#fff" stroke="#000" stroke-width="1.1" />
<path d="M249.2 23.4 L250.1 22.9 L250.8 22.2 L251.3 21.5 L251.6 20.8 L251.6 20.1 L251.5 19.3 L251.1 18.6 L250.5 17.9 L249.7 17.2 L248.7 16.7 L247.6 16.2 L246.4 15.8 L245.1 15.5 L243.7 15.4 L242.3 15.3 L241 15.4 L239.6 15.6 L238.4 15.9 L237.3 16.3 L236.3 16.9 L235.5 17.5 L234.9 18.1 L234.5 18.8 L234.4 19.6 L234.4 20.3 L234.7 21.1 L235.2 21.8 L235.9 22.4 L236.8 23.1 L237.8 23.6 L239 24 L240.2 24.3 L241.6 24.6 L243 24.7 L244.4 24.6 L245.7 24.5 L247 24.2 L248.2 23.9 L249.2 23.4Z" fill="#fff" stroke="#000" stroke-width="1.1" />
<path d="M235 17.6 L235.2 16.9 L235.5 16.2 L236.1 15.6 L236.8 15.1 L237.7 14.6 L238.8 14.2 L239.9 13.9 L241.1 13.8 L242.4 13.7 L243.7 13.7 L244.9 13.9 L246.2 14.1 L247.3 14.5 L248.3 14.9 L249.2 15.4 L249.9 16 L250.5 16.7 L250.8 17.4 L251 18.1 L251 21.1 L250.9 21.8 L250.7 22.4 L250.2 23.1 L249.6 23.6 L248.7 24.1 L247.8 24.6 L246.7 24.9 L245.5 25.2 L244.3 25.3 L243 25.3 L241.7 25.2 L240.4 25 L239.3 24.7 L238.2 24.3 L237.2 23.8 L236.4 23.3 L235.8 22.6 L235.3 22 L235.1 21.3 L235 20.6Z" fill="#fff" stroke="#000" stroke-width="1.1" />
<path d="M248.7 21.2 L249.6 20.6 L250.2 20.1 L250.7 19.4 L250.9 18.7 L251 18.1 L250.8 17.4 L250.5 16.7 L249.9 16 L249.2 15.5 L248.3 14.9 L247.3 14.5 L246.2 14.1 L244.9 13.9 L243.7 13.7 L242.4 13.7 L241.1 13.8 L239.9 13.9 L238.8 14.2 L237.7 14.6 L236.8 15.1 L236.1 15.6 L235.5 16.3 L235.2 16.9 L235 17.6 L235.1 18.3 L235.3 19 L235.8 19.6 L236.4 20.3 L237.2 20.8 L238.2 21.3 L239.3 21.7 L240.4 22 L241.7 22.2 L243 22.3 L244.3 22.3 L245.5 22.2 L246.7 21.9 L247.8 21.6 L248.7 21.2Z" fill="#fff" stroke="#000" stroke-width="1.1" />
<path d="M237.9 17.7 L238.3 14.7 L243.4 13.5 L248.1 15.3 L248.1 17.8 L247.7 20.8 L242.6 22 L237.9 20.2Z" fill="#fff" stroke="#000" stroke-width="1" />
<path d="M247.7 18.3 L247.7 20.8" fill="none" stroke="#000" stroke-width="0.8" />
<path d="M248 15.3 L248 17.8" fill="none" stroke="#000" stroke-width="0.8" />
<path d="M243.4 13.5 L243.4 16" fill="none" stroke="#000" stroke-width="0.8" />
<path d="M238.3 14.7 L238.3 17.2" fill="none" stroke="#000" stroke-width="0.8" />
<path d="M238 17.7 L238 20.2" fill="none" stroke="#000" stroke-width="0.8" />
<path d="M242.6 19.5 L242.6 22" fill="none" stroke="#000" stroke-width="0.8" />
<path d="M247.7 18.3 L248 15.3 L243.4 13.5 L238.3 14.7 L238 17.7 L242.6 19.5Z" fill="#fff" stroke="#000" stroke-width="1" />
<path d="M137.7 35.4 L247.9 141.5" fill="none" stroke="#000" stroke-width="4.2" stroke-linecap="butt"/>
<path d="M140.4 141.5 L243.8 36.7" fill="none" stroke="#000" stroke-width="4.2" stroke-linecap="butt"/>
<path d="M569.3 135.1 L564.9 140.9 L564.3 145.7 L567.3 149.8 L572.2 152.5 L579.1 153.5 L585 154.4 L585.6 137Z" fill="#fff" stroke="#000" stroke-width="1.1" />
<path d="M570.6 139.9 L570.2 150.3" fill="none" stroke="#000" stroke-width="0.9" />
<path d="M578.8 143.4 L578.5 153.3" fill="none" stroke="#000" stroke-width="0.9" />
<path d="M564.9 140.9 L570.6 139.9 L578.8 143.4" fill="none" stroke="#000" stroke-width="0.9" />
<path d="M582.4 143.4 L582.6 144.2 L582.8 145.3 L583.1 146.6 L583.4 148.1 L583.8 149.7 L584.1 151.3 L584.5 152.9 L584.9 154.4 L585.3 155.9 L585.7 157.4 L586 158.9 L586.5 160.4 L586.9 162 L587.4 163.6 L588 165.1 L588.6 166.7 L589.3 168.4 L590 170.1 L590.7 171.8 L591.5 173.6 L592.3 175.3 L593.3 177 L594.3 178.6 L595.5 180.1 L596.9 181.6 L598.3 183 L599.9 184.3 L601.6 185.6 L603.3 186.8 L605.1 188 L607.1 189.1 L609.1 190.2 L611.2 191.2 L613.5 192.1 L616 193 L618.6 193.8 L621.1 194.6 L623.5 195.3 L625.9 196 L627.9 196.7 L629.8 197.4 L631.6 198 L633.2 198.6 L634.7 199.1 L636.2 199.7 L637.6 200.2 L639.1 200.6 L640.5 201.1 L642 201.6 L643.5 202.1 L645 202.6 L646.5 203 L647.9 203.5 L649.1 203.8 L650.2 204.1 L651 204.4 L669.8 192.9 L671 161.4 L631.7 151.3 L582.7 136Z" fill="#fff" stroke="none" stroke-width="0" />
<path d="M582.4 143.4 L582.6 144.2 L582.8 145.3 L583.1 146.6 L583.4 148.1 L583.8 149.7 L584.1 151.3 L584.5 152.9 L584.9 154.4 L585.3 155.9 L585.7 157.4 L586 158.9 L586.5 160.4 L586.9 162 L587.4 163.6 L588 165.1 L588.6 166.7 L589.3 168.4 L590 170.1 L590.7 171.8 L591.5 173.6 L592.3 175.3 L593.3 177 L594.3 178.6 L595.5 180.1 L596.9 181.6 L598.3 183 L599.9 184.3 L601.6 185.6 L603.3 186.8 L605.1 188 L607.1 189.1 L609.1 190.2 L611.2 191.2 L613.5 192.1 L616 193 L618.6 193.8 L621.1 194.6 L623.5 195.3 L625.9 196 L627.9 196.7 L629.8 197.4 L631.6 198 L633.2 198.6 L634.7 199.1 L636.2 199.7 L637.6 200.2 L639.1 200.6 L640.5 201.1 L642 201.6 L643.5 202.1 L645 202.6 L646.5 203 L647.9 203.5 L649.1 203.8 L650.2 204.1 L651 204.4" fill="none" stroke="#000" stroke-width="1.1" />
<path d="M578.6 139.2 L578.8 140 L579.1 141 L579.4 142.2 L579.7 143.6 L580.1 145 L580.4 146.3 L580.8 147.6 L581.2 148.6 L581.7 149.6 L582.2 150.5 L582.7 151.3 L583.2 152.1 L583.7 152.8 L584.2 153.4 L584.6 154 L584.9 154.4" fill="none" stroke="#000" stroke-width="0.9" />
<path d="M629.8 173.4 L629.6 180 L633.5 184.4 L637.9 186.9 L655.3 206.4 L660.3 182.5 L652.9 167.9 L646 166.9Z" fill="#fff" stroke="none" stroke-width="0" />
<path d="M629.7 175.4 L629.6 180 L633.5 184.4 L637.9 186.9 L655.3 206.4" fill="none" stroke="#000" stroke-width="1.1" />
<path d="M632.7 176.1 L632.4 182.3" fill="none" stroke="#000" stroke-width="0.9" />
<path d="M632.7 176.1 L646 168.1 L652.1 169.9" fill="none" stroke="#000" stroke-width="1.1" />
<path d="M638.4 174.9 L634 184.4" fill="none" stroke="#000" stroke-width="0.9" />
<path d="M643.9 177.1 L650.5 168.6" fill="none" stroke="#000" stroke-width="0.9" />
<path d="M643.9 177.1 L637.9 186.9" fill="none" stroke="#000" stroke-width="0.9" />
<path d="M628 196.7 L637.3 186.9" fill="none" stroke="#000" stroke-width="0.7" />
<path d="M645 183.8 L647.2 168.3 L671.6 152.4 L676.5 154 L687.9 168.3 L684.9 188.2 L657 207.1 L652.1 205.4Z" fill="#fff" stroke="#000" stroke-width="1.1" />
<path d="M652.1 169.9 L676.5 154 L687.9 168.3 L684.9 188.2 L657 207.1 L649.9 185.5Z" fill="#fff" stroke="#000" stroke-width="1.1" />
<path d="M685.5 173.6 L685.9 170.8 L685.7 168.2 L685.2 166 L684.2 164.2 L682.7 162.8 L680.9 161.8 L678.7 161.4 L676.3 161.4 L673.6 161.9 L670.8 163 L667.9 164.4 L665 166.3 L662.2 168.6 L659.6 171.1 L657.1 173.9 L655 176.9 L653.1 180 L651.7 183.1 L650.6 186.1 L650.1 189 L649.9 191.7 L650.3 194 L651.1 196.1 L652.3 197.7 L653.9 198.9 L655.9 199.6 L658.3 199.8 L660.8 199.5 L663.6 198.7 L666.4 197.5 L669.3 195.8 L672.2 193.7 L674.9 191.3 L677.5 188.6 L679.8 185.7 L681.8 182.7 L683.4 179.6 L684.7 176.5 L685.5 173.6Z" fill="#2b2224" stroke="none" stroke-width="0" />
<path d="M679.5 173.4 L679.7 171.2 L679.6 169.3 L679.2 167.5 L678.4 166.1 L677.3 165 L675.9 164.3 L674.2 163.9 L672.3 163.9 L670.2 164.3 L668 165.1 L665.7 166.3 L663.5 167.7 L661.3 169.5 L659.2 171.5 L657.3 173.7 L655.6 176 L654.2 178.4 L653.1 180.8 L652.3 183.2 L651.8 185.4 L651.7 187.5 L652 189.4 L652.6 191 L653.6 192.2 L654.8 193.1 L656.4 193.7 L658.2 193.9 L660.2 193.6 L662.3 193 L664.6 192.1 L666.8 190.8 L669.1 189.1 L671.2 187.3 L673.2 185.2 L675 182.9 L676.6 180.5 L677.9 178.1 L678.8 175.7 L679.5 173.4Z" fill="#fff" stroke="none" stroke-width="0" />
<path d="M657.3 196 L658.7 196 L660.1 195.8 L661.6 195.5 L663.2 195 L664.8 194.2 L666.5 193.4 L668.1 192.3 L669.7 191.2 L671.3 189.9 L672.9 188.4 L674.3 186.9 L675.7 185.3 L677 183.6 L678.1 181.9 L679.1 180.2 L680 178.4 L680.7 176.7 L681.3 174.9 L681.7 173.3 L681.9 171.7 L682 170.2 L681.8 168.8 L681.6 167.5" fill="none" stroke="#cfc8c8" stroke-width="0.6" />
<path d="M657.2 197.9 L658.7 197.9 L660.3 197.7 L661.9 197.3 L663.6 196.7 L665.4 196 L667.2 195 L668.9 193.9 L670.7 192.7 L672.4 191.2 L674.1 189.7 L675.6 188 L677.1 186.3 L678.5 184.5 L679.7 182.6 L680.8 180.7 L681.8 178.8 L682.6 177 L683.2 175.1 L683.6 173.3 L683.9 171.6 L683.9 170 L683.8 168.5 L683.5 167.1" fill="none" stroke="#cfc8c8" stroke-width="0.6" />
<path d="M685.5 173.6 L685.9 170.8 L685.7 168.2 L685.2 166 L684.2 164.2 L682.7 162.8 L680.9 161.8 L678.7 161.4 L676.3 161.4 L673.6 161.9 L670.8 163 L667.9 164.4 L665 166.3 L662.2 168.6 L659.6 171.1 L657.1 173.9 L655 176.9 L653.1 180 L651.7 183.1 L650.6 186.1 L650.1 189 L649.9 191.7 L650.3 194 L651.1 196.1 L652.3 197.7 L653.9 198.9 L655.9 199.6 L658.3 199.8 L660.8 199.5 L663.6 198.7 L666.4 197.5 L669.3 195.8 L672.2 193.7 L674.9 191.3 L677.5 188.6 L679.8 185.7 L681.8 182.7 L683.4 179.6 L684.7 176.5 L685.5 173.6Z" fill="none" stroke="#8a1a2a" stroke-width="1.3" />
<path d="M570 125.2 L630.3 159.6 L691 126.3 L630.7 91.9Z" fill="#fff" stroke="#000" stroke-width="1.1" />
<path d="M570 125.2 L630.3 159.6 L630.3 175.6 L570 141.2Z" fill="#fff" stroke="#000" stroke-width="1.1" />
<path d="M630.3 159.6 L691 126.3 L691 142.3 L630.3 175.6Z" fill="#fff" stroke="#000" stroke-width="1.1" />
<path d="M570 131.2 L630.3 165.6 L691 132.3" fill="none" stroke="#000" stroke-width="1" />
<path d="M570 136.2 L630.3 170.6 L691 137.3" fill="none" stroke="#000" stroke-width="1" />
<path d="M635.9 102.3 L637.3 101.2 L638 99.9 L637.9 98.6 L637 97.3 L635.4 96.2 L633.4 95.5 L631 95.2 L628.6 95.4 L626.4 95.9 L624.7 96.9 L623.6 98.1 L623.3 99.5 L623.8 100.8 L625 102 L626.9 102.9 L629.1 103.4 L631.5 103.5 L633.9 103.1 L635.9 102.3Z" fill="#fff" stroke="#000" stroke-width="0.9" />
<path d="M625.1 95.6 L625.1 92 L630.7 90.3 L636.2 92.1 L636.2 96.8 L636.2 100.4 L630.6 102.1 L625.1 100.3Z" fill="#fff" stroke="#000" stroke-width="1" />
<path d="M636.2 95.7 L636.2 92.1 L630.7 90.3 L625.1 92 L625.1 95.6 L630.6 97.4Z" fill="#fff" stroke="#000" stroke-width="1" />
<path d="M636.2 95.7 L636.2 100.4" fill="none" stroke="#000" stroke-width="0.8" />
<path d="M636.2 92.1 L636.2 96.8" fill="none" stroke="#000" stroke-width="0.8" />
<path d="M630.7 90.3 L630.7 95" fill="none" stroke="#000" stroke-width="0.8" />
<path d="M625.1 92 L625.1 96.7" fill="none" stroke="#000" stroke-width="0.8" />
<path d="M625.1 95.6 L625.1 100.3" fill="none" stroke="#000" stroke-width="0.8" />
<path d="M630.6 97.4 L630.6 102.1" fill="none" stroke="#000" stroke-width="0.8" />
<path d="M636.2 95.7 L636.2 92.1 L630.7 90.3 L625.1 92 L625.1 95.6 L630.6 97.4Z" fill="#fff" stroke="#000" stroke-width="1" />
<path d="M590.8 117.9 L591.4 114.9 L592.7 112.1 L594.8 109.3 L597.4 106.8 L600.6 104.4 L604.4 102.4 L608.3 100.3 L611.9 98.8 L615.9 97.6 L620.1 96.7 L624.4 96.1 L628.9 95.8 L633.4 95.9 L637.9 96.3 L642.2 97.1 L646.3 98.2 L650.2 99.5 L653.7 101.2 L657.8 103.3 L661.4 105.5 L664.5 108 L666.9 110.7 L668.7 113.5 L669.9 116.4 L670.3 119.3 L670 122.3 L669 125.2 L667.3 128 L665 130.7 L662 133.1 L658.5 135.3 L654.5 137.3 L650.1 138.9 L645.3 140.1 L640.2 141 L635 141.5 L629.7 141.6 L624.4 141.3 L619.2 140.6 L614.2 139.6 L609.5 138.1 L605.2 136.4 L601.4 134.3 L598 132 L595.2 129.4 L593.1 126.7 L591.6 123.8 L590.8 120.8Z" fill="#fff" stroke="#000" stroke-width="1.1" />
<path d="M604.7 102.4 L602.1 104.3 L600 106.4 L598.3 108.7 L597.3 111.1 L596.8 113.5 L596.8 116 L597.4 118.4 L598.6 120.8 L600.3 123 L602.5 125.1 L605.2 127.1 L608.3 128.9 L611.8 130.4 L615.6 131.6 L619.6 132.6 L623.9 133.2 L628.2 133.6 L632.6 133.6 L636.9 133.4 L641.2 132.8 L645.2 131.9 L649 130.7 L652.5 129.3 L655.7 127.6 L658.4 125.7 L660.6 123.6 L662.3 121.3 L663.5 119 L664.2 116.6 L664.3 114.1 L663.8 111.7 L662.7 109.3 L661.1 107 L659 104.8 L656.5 102.8" fill="none" stroke="#000" stroke-width="1" />
<path d="M588.2 129.5 L589.6 128.4 L590.3 127.1 L590.2 125.7 L589.4 124.4 L587.8 123.4 L585.7 122.7 L583.3 122.4 L580.9 122.5 L578.7 123.1 L577 124 L575.9 125.3 L575.6 126.6 L576.1 127.9 L577.4 129.1 L579.2 130 L581.5 130.5 L583.9 130.6 L586.2 130.2 L588.2 129.5Z" fill="#fff" stroke="#000" stroke-width="0.9" />
<path d="M577.4 122.8 L577.5 119.2 L583 117.4 L588.6 119.3 L588.6 124 L588.5 127.5 L583 129.3 L577.4 127.5Z" fill="#fff" stroke="#000" stroke-width="1" />
<path d="M588.5 122.8 L588.6 119.3 L583 117.4 L577.5 119.2 L577.4 122.7 L583 124.6Z" fill="#fff" stroke="#000" stroke-width="1" />
<path d="M588.5 122.8 L588.5 127.5" fill="none" stroke="#000" stroke-width="0.8" />
<path d="M588.6 119.3 L588.6 124" fill="none" stroke="#000" stroke-width="0.8" />
<path d="M583 117.4 L583 122.1" fill="none" stroke="#000" stroke-width="0.8" />
<path d="M577.5 119.2 L577.5 123.9" fill="none" stroke="#000" stroke-width="0.8" />
<path d="M577.4 122.7 L577.4 127.4" fill="none" stroke="#000" stroke-width="0.8" />
<path d="M583 124.6 L583 129.3" fill="none" stroke="#000" stroke-width="0.8" />
<path d="M588.5 122.8 L588.6 119.3 L583 117.4 L577.5 119.2 L577.4 122.7 L583 124.6Z" fill="#fff" stroke="#000" stroke-width="1" />
<path d="M682 129.3 L683.4 128.2 L684.1 126.9 L684 125.6 L683.1 124.3 L681.6 123.2 L679.5 122.5 L677.1 122.2 L674.7 122.4 L672.5 122.9 L670.8 123.9 L669.7 125.1 L669.4 126.4 L669.9 127.8 L671.1 129 L673 129.9 L675.2 130.4 L677.7 130.4 L680 130.1 L682 129.3Z" fill="#fff" stroke="#000" stroke-width="0.9" />
<path d="M671.2 122.6 L671.2 119 L676.8 117.2 L682.4 119.1 L682.4 123.8 L682.3 127.4 L676.8 129.1 L671.2 127.3Z" fill="#fff" stroke="#000" stroke-width="1" />
<path d="M682.3 122.7 L682.3 119.1 L676.8 117.2 L671.2 119 L671.2 122.6 L676.8 124.4Z" fill="#fff" stroke="#000" stroke-width="1" />
<path d="M682.3 122.7 L682.3 127.4" fill="none" stroke="#000" stroke-width="0.8" />
<path d="M682.3 119.1 L682.3 123.8" fill="none" stroke="#000" stroke-width="0.8" />
<path d="M676.8 117.2 L676.8 121.9" fill="none" stroke="#000" stroke-width="0.8" />
<path d="M671.2 119 L671.2 123.7" fill="none" stroke="#000" stroke-width="0.8" />
<path d="M671.2 122.6 L671.2 127.3" fill="none" stroke="#000" stroke-width="0.8" />
<path d="M676.8 124.4 L676.8 129.1" fill="none" stroke="#000" stroke-width="0.8" />
<path d="M682.3 122.7 L682.3 119.1 L676.8 117.2 L671.2 119 L671.2 122.6 L676.8 124.4Z" fill="#fff" stroke="#000" stroke-width="1" />
<path d="M633.1 157.8 L634.5 156.7 L635.2 155.4 L635.1 154.1 L634.3 152.8 L632.7 151.7 L630.6 151 L628.2 150.7 L625.8 150.9 L623.6 151.4 L621.9 152.4 L620.8 153.6 L620.5 154.9 L621 156.3 L622.3 157.5 L624.1 158.4 L626.4 158.9 L628.8 158.9 L631.1 158.6 L633.1 157.8Z" fill="#fff" stroke="#000" stroke-width="0.9" />
<path d="M622.3 151.1 L622.4 147.5 L627.9 145.8 L633.5 147.6 L633.5 152.3 L633.5 155.9 L627.9 157.6 L622.3 155.8Z" fill="#fff" stroke="#000" stroke-width="1" />
<path d="M633.5 151.2 L633.5 147.6 L627.9 145.7 L622.4 147.5 L622.3 151.1 L627.9 152.9Z" fill="#fff" stroke="#000" stroke-width="1" />
<path d="M633.5 151.2 L633.5 155.9" fill="none" stroke="#000" stroke-width="0.8" />
<path d="M633.5 147.6 L633.5 152.3" fill="none" stroke="#000" stroke-width="0.8" />
<path d="M627.9 145.7 L627.9 150.4" fill="none" stroke="#000" stroke-width="0.8" />
<path d="M622.4 147.5 L622.4 152.2" fill="none" stroke="#000" stroke-width="0.8" />
<path d="M622.3 151.1 L622.3 155.8" fill="none" stroke="#000" stroke-width="0.8" />
<path d="M627.9 152.9 L627.9 157.6" fill="none" stroke="#000" stroke-width="0.8" />
<path d="M633.5 151.2 L633.5 147.6 L627.9 145.7 L622.4 147.5 L622.3 151.1 L627.9 152.9Z" fill="#fff" stroke="#000" stroke-width="1" />
<path d="M583.6 101.6 L607.1 115 L629.6 102.7 L606 89.3Z" fill="#fff" stroke="#000" stroke-width="1.1" />
<path d="M583.6 101.6 L607.1 115 L607.1 124.2 L583.6 110.8Z" fill="#fff" stroke="#000" stroke-width="1.1" />
<path d="M607.1 115 L629.6 102.7 L629.6 111.9 L607.1 124.2Z" fill="#fff" stroke="#000" stroke-width="1.1" />
<path d="M588.4 83.9 L603.8 92.7 L623.7 81.8 L608.3 73Z" fill="#fff" stroke="#000" stroke-width="1.1" />
<path d="M588.4 83.9 L603.8 92.7 L603.8 111.2 L588.4 102.4Z" fill="#fff" stroke="#000" stroke-width="1.1" />
<path d="M603.8 92.7 L623.7 81.8 L623.7 100.3 L603.8 111.2Z" fill="#fff" stroke="#000" stroke-width="1.1" />
<path d="M590 87.4 L601.3 93.9 L601.3 107.9 L590 101.5" fill="none" stroke="#000" stroke-width="1.1" />
<path d="M593 92.1 L601.3 96.8" fill="none" stroke="#000" stroke-width="1" />
<path d="M593 92.1 L593 100.2 L601.3 105" fill="none" stroke="#000" stroke-width="1" />
<path d="M594.3 94.7 L598.6 99.3 L594.3 99.1Z" fill="#000" stroke="#000" stroke-width="0.7" />
<path d="M590 87.4 L590 94.4" fill="none" stroke="#000" stroke-width="2.1" />
<path d="M591.5 104.2 L595.3 104.9 L596.9 106.9" fill="none" stroke="#000" stroke-width="1.4" />
<path d="M615.5 74.5 L640.5 59.2 L645 66.8 L619.5 82Z" fill="#fff" stroke="#000" stroke-width="1.1" />
<path d="M618.5 76.5 L642.8 63" fill="none" stroke="#000" stroke-width="0.9" />
<path d="M618.4 78.7 L618.6 79.9 L618.5 81 L618.1 82.2 L617.5 83.3 L616.5 84.4 L615.3 85.4 L613.9 86.3 L612.4 87 L610.6 87.6 L608.8 88 L607 88.2 L605.2 88.2 L603.4 88.1 L601.7 87.7 L600.1 87.2 L598.7 86.5 L597.6 85.7 L596.7 84.7 L596 83.7 L595.7 82.5 L595.6 81.4 L595.8 80.2 L596.4 79 L597.2 77.9 L598.2 76.9 L599.5 75.9 L601 75.1 L602.7 74.5 L604.4 74 L606.3 73.7 L608.1 73.6 L610 73.6 L611.7 73.9 L613.3 74.3 L614.8 74.9 L616.1 75.7 L617.1 76.6 L617.9 77.6 L618.4 78.7Z" fill="#fff" stroke="#000" stroke-width="1.1" />
<path d="M600.7 81 L600.8 80.5 L601.1 79.9 L601.6 79.4 L602.2 78.9 L603 78.5 L603.8 78.2 L604.7 78 L605.7 77.8 L606.7 77.7 L607.8 77.7 L608.8 77.8 L609.8 78 L610.7 78.3 L611.5 78.7 L612.2 79.1 L612.7 79.6 L613.1 80.2 L613.4 80.7 L613.5 81.3 L613.5 82.8 L613.5 83.4 L613.2 83.9 L612.8 84.5 L612.3 85 L611.6 85.4 L610.8 85.8 L610 86 L609 86.2 L608 86.4 L607 86.4 L605.9 86.3 L604.9 86.2 L604 85.9 L603.1 85.6 L602.4 85.2 L601.7 84.7 L601.2 84.2 L600.9 83.7 L600.7 83.1 L600.7 82.5Z" fill="#fff" stroke="#000" stroke-width="1.1" />
<path d="M611.6 83.9 L612.3 83.4 L612.8 83 L613.2 82.4 L613.5 81.9 L613.5 81.3 L613.4 80.7 L613.2 80.1 L612.7 79.6 L612.2 79.1 L611.5 78.7 L610.7 78.3 L609.8 78 L608.8 77.8 L607.8 77.7 L606.7 77.7 L605.7 77.8 L604.7 77.9 L603.8 78.2 L603 78.5 L602.2 78.9 L601.6 79.4 L601.2 79.9 L600.8 80.5 L600.7 81 L600.7 81.6 L600.9 82.2 L601.2 82.7 L601.7 83.2 L602.4 83.7 L603.1 84.1 L604 84.4 L604.9 84.7 L605.9 84.8 L606.9 84.9 L608 84.9 L609 84.7 L609.9 84.5 L610.8 84.2 L611.6 83.9Z" fill="#fff" stroke="#000" stroke-width="1.1" />
<path d="M603.2 81.1 L603.6 78.7 L607.5 77.7 L611 79.1 L611 80.6 L610.6 83 L606.7 84 L603.2 82.6Z" fill="#fff" stroke="#000" stroke-width="1" />
<path d="M610.6 81.5 L610.6 83" fill="none" stroke="#000" stroke-width="0.8" />
<path d="M611 79.1 L611 80.6" fill="none" stroke="#000" stroke-width="0.8" />
<path d="M607.5 77.7 L607.5 79.2" fill="none" stroke="#000" stroke-width="0.8" />
<path d="M603.6 78.7 L603.6 80.2" fill="none" stroke="#000" stroke-width="0.8" />
<path d="M603.2 81.1 L603.2 82.6" fill="none" stroke="#000" stroke-width="0.8" />
<path d="M606.7 82.5 L606.7 84" fill="none" stroke="#000" stroke-width="0.8" />
<path d="M610.6 81.5 L611 79.1 L607.5 77.7 L603.6 78.7 L603.2 81.1 L606.7 82.5Z" fill="#fff" stroke="#000" stroke-width="1" />
<path d="M608.8 81 L609.4 80.4 L609.3 79.7 L608.5 79.1 L607.3 78.8 L606 78.9 L605 79.5 L604.8 80.2 L605.2 80.9 L606.3 81.3 L607.6 81.4 L608.8 81Z" fill="#fff" stroke="#000" stroke-width="0.8" />
<path d="M632 49 L633 48.8 L634.3 48.5 L635.9 48.2 L637.7 47.9 L639.4 47.6 L641 47.5 L642.5 47.5 L644 47.6 L645.5 47.7 L647 47.9 L648.5 48.2 L650 48.5 L651.5 48.9 L653.1 49.4 L654.8 49.9 L656.3 50.6 L657.7 51.2 L659 52 L660.1 52.9 L661.1 53.8 L662 54.8 L662.8 55.9 L663.5 57 L664 58 L664.4 59 L664.7 60 L664.8 60.9 L664.9 61.9 L664.8 62.9 L664.5 64 L664.1 65.1 L663.5 66.3 L662.8 67.5 L661.9 68.7 L661 69.9 L660 71 L658.9 72 L657.6 73 L656.2 74 L654.8 74.9 L653.4 75.7 L652 76.5 L650.6 77.2 L649.3 77.8 L647.9 78.3 L646.5 78.7 L645.2 79.1 L644 79.5 L642.8 79.8 L641.6 80 L640.5 80.2 L639.5 80.3 L638.6 80.4 L638 80.5 L638 83.5 L630.5 78 L638 73.5 L638 76.5 L638.8 76.3 L639.8 76 L641.1 75.7 L642.4 75.4 L643.8 74.9 L645 74.5 L646.2 74 L647.4 73.5 L648.6 72.9 L649.8 72.3 L650.9 71.7 L652 71 L653 70.3 L653.9 69.6 L654.8 68.8 L655.7 68 L656.4 67.3 L657 66.5 L657.5 65.8 L657.9 65 L658.2 64.2 L658.4 63.5 L658.5 62.8 L658.5 62 L658.4 61.2 L658.1 60.5 L657.8 59.7 L657.3 58.9 L656.7 58.2 L656 57.5 L655.1 56.8 L654 56.2 L652.8 55.5 L651.6 54.9 L650.3 54.4 L649 54 L647.7 53.7 L646.4 53.4 L645 53.2 L643.6 53.1 L642.3 53 L641 53 L639.7 53.1 L638.3 53.2 L637 53.4 L635.8 53.7 L634.8 53.9 L634 54 L636.5 51.5Z" fill="#fff" stroke="#000" stroke-width="1.1" />
<path d="M547 116.7 L562.7 124.6 L562.7 140.3 L547 134Z" fill="#fff" stroke="#000" stroke-width="1.3" />
<path d="M562.7 124.6 L562.7 140.3 L547 134" fill="none" stroke="#000" stroke-width="2.3" />
<path d="M537.6 90 L547 113.6" fill="none" stroke="#000" stroke-width="1" />
<path d="M547 134 L547 140" fill="none" stroke="#000" stroke-width="1.4" />
<circle cx="560.2" cy="97" r="8" fill="#fff" stroke="#000" stroke-width="1.3"/>
<path d="M558.9 92 L561.5 92 L560.7 100.6 L559.7 100.6Z" fill="#000" stroke="#000" stroke-width="0.4" />
<circle cx="560.2" cy="103" r="1.3" fill="#000"/>
<path d="M508.3 138 L523.4 146.6 L538.6 138.3 L523.5 129.7Z" fill="#fff" stroke="#000" stroke-width="1.1" />
<path d="M508.3 138 L523.4 146.6 L523.4 162.1 L508.3 153.5Z" fill="#fff" stroke="#000" stroke-width="1.1" />
<path d="M523.4 146.6 L538.6 138.3 L538.6 153.8 L523.4 162.1Z" fill="#fff" stroke="#000" stroke-width="1.1" />
<path d="M528 146.3 L538.1 139.7 L538.1 151.7 L528 158.3Z" fill="#111" stroke="#000" stroke-width="0.9" />
<path d="M530.2 145.7 L530.2 156.1" fill="none" stroke="#ddd" stroke-width="0.6" />
<path d="M532.8 144.2 L532.8 154.6" fill="none" stroke="#ddd" stroke-width="0.6" />
<path d="M535.4 142.8 L535.4 153.2" fill="none" stroke="#ddd" stroke-width="0.6" />
<circle cx="515.9" cy="150.3" r="1.7" fill="#000" stroke="#000" stroke-width="1"/>
<path d="M514.6 118.2 L514.8 117.4 L515.2 116.7 L515.8 116.1 L516.5 115.5 L517.5 115 L518.5 114.6 L519.7 114.2 L520.9 114 L522.2 114 L523.5 114 L524.8 114.1 L526.1 114.4 L527.2 114.8 L528.2 115.2 L529.1 115.8 L529.8 116.4 L530.4 117 L530.7 117.8 L530.8 118.5 L530.8 137.5 L530.7 138.2 L530.5 138.9 L530 139.6 L529.3 140.2 L528.4 140.8 L527.4 141.2 L526.3 141.6 L525.1 141.9 L523.8 142 L522.5 142.1 L521.2 142 L520 141.8 L518.8 141.4 L517.7 141 L516.7 140.5 L515.9 139.9 L515.3 139.3 L514.8 138.6 L514.6 137.9 L514.6 137.2Z" fill="#fff" stroke="#000" stroke-width="1.1" />
<path d="M528.4 121.8 L529.3 121.2 L530 120.6 L530.5 119.9 L530.7 119.2 L530.8 118.5 L530.7 117.8 L530.4 117 L529.8 116.4 L529.1 115.8 L528.2 115.2 L527.2 114.7 L526.1 114.4 L524.8 114.1 L523.5 114 L522.2 114 L520.9 114 L519.7 114.3 L518.5 114.6 L517.5 115 L516.5 115.5 L515.8 116.1 L515.2 116.7 L514.8 117.4 L514.6 118.2 L514.6 118.9 L514.8 119.6 L515.3 120.3 L515.9 120.9 L516.7 121.5 L517.7 122 L518.8 122.4 L519.9 122.8 L521.2 123 L522.5 123 L523.8 123 L525.1 122.9 L526.3 122.6 L527.4 122.2 L528.4 121.8Z" fill="#fff" stroke="#000" stroke-width="1.1" />
<path d="M515.2 116.4 L515.4 115.7 L515.8 115.1 L516.3 114.5 L517 113.9 L517.9 113.5 L518.9 113.1 L519.9 112.8 L521.1 112.6 L522.3 112.5 L523.5 112.5 L524.7 112.7 L525.8 112.9 L526.9 113.2 L527.8 113.7 L528.6 114.2 L529.3 114.7 L529.8 115.4 L530.1 116 L530.2 116.7 L530.2 119.2 L530.1 119.9 L529.8 120.5 L529.4 121.1 L528.8 121.7 L528 122.2 L527.1 122.6 L526 123 L524.9 123.2 L523.7 123.4 L522.5 123.4 L521.3 123.3 L520.2 123.1 L519.1 122.8 L518.1 122.5 L517.2 122 L516.4 121.5 L515.9 120.9 L515.5 120.2 L515.2 119.5 L515.2 118.9Z" fill="#fff" stroke="#000" stroke-width="1.1" />
<path d="M528 119.7 L528.8 119.2 L529.4 118.6 L529.8 118 L530.1 117.4 L530.2 116.7 L530.1 116 L529.8 115.4 L529.3 114.7 L528.6 114.2 L527.8 113.7 L526.8 113.2 L525.8 112.9 L524.7 112.7 L523.5 112.5 L522.3 112.5 L521.1 112.6 L519.9 112.8 L518.8 113.1 L517.9 113.5 L517 113.9 L516.3 114.5 L515.8 115.1 L515.4 115.7 L515.2 116.4 L515.2 117.1 L515.5 117.7 L515.9 118.4 L516.4 119 L517.2 119.5 L518.1 120 L519.1 120.3 L520.2 120.6 L521.3 120.8 L522.5 120.9 L523.7 120.9 L524.9 120.7 L526 120.5 L527.1 120.1 L528 119.7Z" fill="#fff" stroke="#000" stroke-width="1.1" />
<path d="M518 116.7 L518.5 113.8 L523.2 112.6 L527.4 114.3 L527.4 116.5 L526.9 119.4 L522.2 120.6 L518 118.9Z" fill="#fff" stroke="#000" stroke-width="1" />
<path d="M526.9 117.2 L526.9 119.4" fill="none" stroke="#000" stroke-width="0.8" />
<path d="M527.4 114.3 L527.4 116.5" fill="none" stroke="#000" stroke-width="0.8" />
<path d="M523.2 112.6 L523.2 114.8" fill="none" stroke="#000" stroke-width="0.8" />
<path d="M518.5 113.8 L518.5 116" fill="none" stroke="#000" stroke-width="0.8" />
<path d="M518 116.7 L518 118.9" fill="none" stroke="#000" stroke-width="0.8" />
<path d="M522.2 118.4 L522.2 120.6" fill="none" stroke="#000" stroke-width="0.8" />
<path d="M526.9 117.2 L527.4 114.3 L523.2 112.6 L518.5 113.8 L518 116.7 L522.2 118.4Z" fill="#fff" stroke="#000" stroke-width="1" />
<path d="M468.5 181 L514.5 148.8" fill="none" stroke="#000" stroke-width="1" />
<path d="M469.5 183 L515.3 150.6" fill="none" stroke="#000" stroke-width="1" />
<path d="M376.3 218.4 L375.8 220 L375.9 221.7 L376.3 223.3 L377 224.9 L377.9 226.3 L379 227.6 L380.5 228.9 L382.1 230.1 L383.9 231.1 L385.7 231.8 L387.3 232.4 L388.8 233 L390.6 233.3 L392.8 232.9 L395.9 231.8 L400.3 229.4 L405.7 226 L411.6 222.2 L417.2 218.4 L421.9 215.3 L425.5 213 L428.3 211.1 L430.8 209.5 L433.3 207.8 L436 205.9 L439.1 203.6 L442.3 201.1 L445.6 198.6 L448.7 196.2 L451.7 194.1 L454.5 192.3 L457.3 190.7 L460 189.3 L462.3 188 L464.3 187 L465.8 186.3 L467 185.9 L467.9 185.6 L468.5 185.2 L469 184.6 L469.3 183.7 L469.4 182.5 L469.2 181.3 L468.9 180.1 L468.2 179.1 L467.2 178.1 L465.8 177.2 L464.3 176.3 L462.7 175.7 L461.1 175.2 L459.7 174.9 L458.3 174.8 L456.9 174.9 L455.3 175.3 L453.3 176 L450.9 177.2 L448.2 178.9 L445.3 180.8 L442.2 182.7 L439.1 184.6 L435.8 186.4 L432.4 188.2 L428.8 190 L425.3 191.7 L421.9 193.3 L418.7 194.6 L415.7 195.8 L412.7 196.9 L409.5 198.1 L406.1 199.6 L402.1 201.6 L397.7 203.8 L393.3 206.2 L389.1 208.5 L385.7 210.6 L382.9 212.4 L380.6 213.9 L378.7 215.4 L377.3 216.9Z" fill="#fff" stroke="#000" stroke-width="1.1" />
<path d="M403 205.9 L410.9 198.8 L440.7 184.6 L450.9 184.6 L448.6 186.2 L436 191.7 L417.1 202.7Z" fill="#fff" stroke="#000" stroke-width="1.1" />
<path d="M414.8 213.7 L421.9 207.4 L443.9 193.3 L454.9 188.6 L451.7 193.3 L437.6 202.7 L426.6 213.7Z" fill="#fff" stroke="#000" stroke-width="1.1" />
<circle cx="384.1" cy="225.5" r="3.8" fill="#fff" stroke="#000" stroke-width="1"/>
<path d="M471.6 156.7 L472.1 156.2 L472.8 155.6 L473.7 154.8 L474.6 154 L475.6 153.4 L476.7 152.9 L477.8 152.6 L479.1 152.4 L480.4 152.3 L481.7 152.3 L483.1 152.5 L484.4 152.9 L485.7 153.6 L487.1 154.6 L488.5 155.7 L489.8 156.9 L491 158.2 L492.1 159.3 L493 160.4 L493.8 161.5 L494.4 162.7 L495 163.8 L495.5 164.8 L496 165.7 L496.4 166.5 L496.7 167.3 L496.9 168 L497.1 168.6 L497.2 169.1 L497.3 169.5 L499.6 167.5 L494.7 175 L486.3 171.2 L490.4 170.3 L490.3 169.8 L490.3 169.2 L490.2 168.4 L490.1 167.5 L489.9 166.6 L489.6 165.7 L489.1 164.8 L488.6 163.7 L487.9 162.6 L487.2 161.6 L486.5 160.6 L485.7 159.8 L484.9 159.1 L484 158.5 L483.1 158 L482.3 157.6 L481.4 157.3 L480.6 157.2 L479.8 157.3 L479.1 157.6 L478.3 158.1 L477.7 158.6 L477.1 159 L476.7 159.3 L472.9 163.8 L470.9 163.1Z" fill="#fff" stroke="#000" stroke-width="1.1" />
<path d="M468.5 181 L487.5 167.7" fill="none" stroke="#000" stroke-width="1" />
<path d="M469.5 183 L488.3 169.7" fill="none" stroke="#000" stroke-width="1" />
<path d="M62 102.3 L79.6 131.8 L45.3 131.8Z" fill="#fff" stroke="#000" stroke-width="1.3" />
<path d="M45.6 132 L79.3 132" fill="none" stroke="#000" stroke-width="2.1" />
<path d="M61.6 108.8 L59 119.6 L62.2 119.2 L60.8 129.4 L62.6 127.6 L65.6 117 L62.6 117.4 L64.2 108.8Z" fill="#000" stroke="#000" stroke-width="0.8" />
<circle cx="65.7" cy="191.4" r="12.8" fill="#fff" stroke="#000" stroke-width="1.3"/>
<path d="M65.7 178.8 L65.7 186" fill="none" stroke="#000" stroke-width="1.1" />
<path d="M70.8 187.2 L65.4 198.8" fill="none" stroke="#000" stroke-width="1.3" />
<path d="M65.4 198.8 L65.4 204" fill="none" stroke="#000" stroke-width="1.1" />
<circle cx="65.7" cy="186.2" r="1.1" fill="#000"/><circle cx="65.4" cy="198.6" r="1.2" fill="#000"/>
<rect x="32.6" y="190.6" width="2.2" height="2.8" fill="#000"/>
<path d="M65.6 214.6 L65.6 230" fill="none" stroke="#000" stroke-width="4.4" stroke-linecap="butt"/>
<path d="M60.2 229.5 L71 229.5 L65.6 236.8Z" fill="#000" stroke="#000" stroke-width="0.5" />
<circle cx="65.7" cy="267" r="12.8" fill="#fff" stroke="#000" stroke-width="1.3"/>
<path d="M65.7 254.3 L65.7 263 L66.6 266 L65.3 272 L65.3 279.7" fill="none" stroke="#000" stroke-width="1.3" />
<circle cx="66.3" cy="264" r="1" fill="#000"/><circle cx="65.3" cy="272.6" r="1.1" fill="#000"/>
<rect x="33" y="266.2" width="2.8" height="2" fill="#000"/>
<path d="M60.6 466.1 L60.8 461.1 L61.7 456.2 L63.1 451.4 L65.1 446.9 L67.7 442.8 L70.6 439 L74.1 435.8 L77.8 433 L81.9 430.8 L96.6 425.4 L100 424.6 L103.6 424.1 L107.6 423.8 L111.7 423.8 L115.8 424 L119.6 424.6 L122.9 425.6 L125.7 427.1 L128.2 429.1 L130.4 431.4 L132.4 434 L134.1 436.7 L135.7 439.3 L137 441.9 L138.1 444.6 L139 447.5 L139.7 450.4 L140.2 453.3 L140.6 456.4 L140.9 459.7 L141 463.2 L141 466.8 L140.8 470.4 L140.5 473.6 L140 476.4 L139.3 478.8 L138.3 480.8 L137.1 482.6 L136 484.2 L134.3 486.4 L108.8 499.1 L104.6 501 L100.2 502.2 L95.7 502.8 L91.2 502.7 L86.8 502 L82.4 500.6 L78.3 498.5 L74.5 495.9 L71.1 492.8 L68 489.1 L65.4 485 L63.4 480.6 L61.8 475.9 L60.9 471Z" fill="#fff" stroke="#000" stroke-width="1.1" />
<path d="M127.3 457.5 L127.9 462.4 L128 467.4 L127.4 472.4 L126.3 477.2 L124.5 481.8 L122.3 486.2 L119.5 490.1 L116.3 493.7 L112.7 496.7 L108.8 499.2 L104.6 501 L100.2 502.2 L95.7 502.8 L91.2 502.7 L86.8 502 L82.4 500.6 L78.3 498.5 L74.5 495.9 L71.1 492.8 L68 489.1 L65.4 485 L63.4 480.6 L61.8 475.9 L60.9 471 L60.6 466.1 L60.8 461.1 L61.7 456.2 L63.1 451.4 L65.1 446.9 L67.6 442.8 L70.6 439 L74.1 435.8 L77.8 433 L81.9 430.8 L86.2 429.3 L90.6 428.4 L95.1 428.1 L99.6 428.6 L104 429.6 L108.2 431.4 L112.2 433.7 L115.9 436.6 L119.1 440 L121.9 443.9 L124.3 448.1 L126.1 452.7 L127.3 457.5Z" fill="#fff" stroke="#000" stroke-width="1.1" />
<path d="M128.5 483 L129.1 483.2 L129.8 483.6 L130.8 484 L131.8 484.5 L132.9 484.9 L133.9 485.4 L135 485.7 L136 486 L137 486.2 L138.2 486.4 L139.3 486.6 L140.5 486.7 L141.6 486.8 L142.5 486.8 L143.1 486.7 L143.5 486.5 L143.5 486.2 L143.1 485.8 L142.6 485.2 L141.8 484.7 L141 484 L140.2 483.3 L139.5 482.7 L139 482 L138.7 481.3 L138.4 480.5 L138.2 479.6 L138 478.7 L137.8 477.9 L137.7 477.1 L137.6 476.5 L137.5 476" fill="none" stroke="#000" stroke-width="1.1" />
<path d="M110.9 463 L111.2 465.9 L111.1 468.9 L110.5 471.8 L109.5 474.5 L108.1 477.1 L106.3 479.3 L104.2 481.3 L101.8 482.8 L99.2 483.9 L96.4 484.6 L93.6 484.8 L90.7 484.6 L88 483.8 L85.4 482.7 L83 481.1 L80.8 479.1 L79.1 476.8 L77.6 474.2 L76.6 471.4 L76.1 468.5 L76 465.6 L76.3 462.7 L77.1 459.8 L78.3 457.2 L79.9 454.8 L81.9 452.7 L84.2 450.9 L86.7 449.6 L89.4 448.7 L92.2 448.2 L95.1 448.2 L97.9 448.7 L100.5 449.7 L103.1 451.1 L105.3 452.9 L107.3 455 L108.9 457.5 L110.1 460.2 L110.9 463Z" fill="#fff" stroke="#000" stroke-width="1.3" />
<path d="M90 450.5 L90.5 451.1 L91.2 451.9 L92 452.8 L92.8 453.9 L93.7 455 L94.6 456.2 L95.4 457.4 L96 458.5 L96.5 459.6 L97 460.8 L97.4 462 L97.7 463.2 L98 464.4 L98.3 465.6 L98.5 466.8 L98.6 468 L98.7 469.2 L98.6 470.3 L98.5 471.5 L98.4 472.7 L98.2 473.8 L98 474.9 L97.8 476 L97.5 477 L97.2 478 L96.8 479 L96.4 479.9 L95.9 480.8 L95.5 481.6 L95.1 482.4 L94.7 483 L94.5 483.5" fill="none" stroke="#000" stroke-width="1" />
<path d="M109.8 539.7 L110.2 536 L111.4 532.6 L113.2 529.7 L115.7 527.3 L118.6 525.6 L177.3 493.2 L180.4 492.3 L183.7 492.3 L187.1 493 L190.3 494.4 L193.3 496.6 L195.8 499.3 L197.8 502.5 L199.2 506 L199.9 509.7 L199.9 513.3 L199.1 516.7 L197.7 519.8 L195.6 522.4 L193 524.3 L134.9 558 L131.8 559.3 L128.4 559.8 L124.9 559.4 L121.5 558.3 L118.2 556.4 L115.4 553.8 L113 550.7 L111.2 547.2 L110.1 543.5Z" fill="#fff" stroke="#000" stroke-width="1.1" />
<path d="M134.9 558 L137.6 556 L139.8 553.3 L141.3 550.1 L142.1 546.6 L142.1 542.8 L141.4 539 L140 535.4 L137.9 532 L135.2 529.2 L132.2 527 L128.8 525.4 L125.3 524.7 L121.8 524.8 L118.6 525.7 L115.6 527.3 L113.2 529.7 L111.4 532.6 L110.2 536 L109.8 539.7 L110.1 543.5 L111.2 547.2 L113 550.7 L115.4 553.8 L118.2 556.4 L121.5 558.3 L124.9 559.4 L128.4 559.8 L131.8 559.3 L134.9 558Z" fill="#fff" stroke="#000" stroke-width="1.1" />
<path d="M134 556.3 L136.4 554.5 L138.3 552.1 L139.7 549.3 L140.4 546.1 L140.4 542.7 L139.8 539.4 L138.5 536.1 L136.6 533.1 L134.3 530.6 L131.5 528.6 L128.5 527.2 L125.4 526.5 L122.3 526.6 L119.4 527.4 L116.7 528.9 L114.6 531 L112.9 533.6 L111.9 536.7 L111.5 540 L111.8 543.4 L112.8 546.7 L114.4 549.8 L116.5 552.6 L119.1 554.9 L122 556.6 L125.1 557.6 L128.2 557.9 L131.2 557.5 L134 556.3Z" fill="#fff" stroke="#000" stroke-width="0.9" />
<path d="M136.8 556.8 L138.9 555.8 L140.8 554.4 L142.4 552.8 L143.8 550.8 L144.9 548.7 L145.6 546.3 L146 543.8 L146 541.2 L145.7 538.6 L145 536 L144 533.5 L142.6 531.2 L141 529 L139.2 527.1 L137.1 525.5 L134.9 524.2 L132.5 523.2 L130.1 522.6 L127.7 522.4 L125.4 522.6 L123.1 523.2 L121 524.2 L119.1 525.4" fill="none" stroke="#000" stroke-width="1" />
<path d="M139.3 555.3 L141.4 554.3 L143.3 553 L145 551.3 L146.3 549.4 L147.4 547.2 L148.1 544.9 L148.5 542.4 L148.5 539.8 L148.2 537.2 L147.5 534.6 L146.5 532.1 L145.2 529.8 L143.6 527.6 L141.7 525.7 L139.6 524.1 L137.4 522.8 L135.1 521.8 L132.7 521.2 L130.3 521 L127.9 521.2 L125.6 521.8 L123.5 522.7 L121.6 524" fill="none" stroke="#000" stroke-width="1" />
<path d="M141.8 553.9 L143.9 552.9 L145.8 551.6 L147.5 549.9 L148.9 548 L149.9 545.8 L150.6 543.4 L151 540.9 L151.1 538.4 L150.7 535.7 L150 533.2 L149 530.7 L147.7 528.3 L146.1 526.2 L144.2 524.3 L142.2 522.6 L139.9 521.3 L137.6 520.4 L135.2 519.8 L132.8 519.6 L130.4 519.8 L128.2 520.3 L126.1 521.3 L124.1 522.6" fill="none" stroke="#000" stroke-width="1" />
<path d="M144.4 552.5 L146.5 551.5 L148.4 550.1 L150 548.5 L151.4 546.6 L152.4 544.4 L153.2 542 L153.5 539.5 L153.6 536.9 L153.2 534.3 L152.6 531.7 L151.5 529.2 L150.2 526.9 L148.6 524.7 L146.7 522.8 L144.7 521.2 L142.5 519.9 L140.1 518.9 L137.7 518.4 L135.3 518.2 L132.9 518.3 L130.7 518.9 L128.6 519.9 L126.7 521.2" fill="none" stroke="#000" stroke-width="1" />
<path d="M146.9 551 L149 550 L150.9 548.7 L152.5 547.1 L153.9 545.1 L155 543 L155.7 540.6 L156.1 538.1 L156.1 535.5 L155.8 532.9 L155.1 530.3 L154.1 527.8 L152.7 525.5 L151.1 523.3 L149.3 521.4 L147.2 519.8 L145 518.5 L142.6 517.5 L140.2 516.9 L137.8 516.7 L135.5 516.9 L133.2 517.5 L131.1 518.4 L129.2 519.7" fill="none" stroke="#000" stroke-width="1" />
<path d="M149.4 549.6 L151.5 548.6 L153.4 547.3 L155 545.6 L156.4 543.7 L157.5 541.5 L158.2 539.2 L158.6 536.7 L158.6 534.1 L158.3 531.5 L157.6 528.9 L156.6 526.4 L155.3 524 L153.6 521.9 L151.8 520 L149.7 518.3 L147.5 517 L145.2 516.1 L142.8 515.5 L140.4 515.3 L138 515.5 L135.7 516.1 L133.6 517 L131.7 518.3" fill="none" stroke="#000" stroke-width="1" />
<path d="M151.9 548.2 L154 547.2 L155.9 545.9 L157.6 544.2 L158.9 542.3 L160 540.1 L160.7 537.7 L161.1 535.2 L161.1 532.6 L160.8 530 L160.1 527.4 L159.1 525 L157.8 522.6 L156.2 520.4 L154.3 518.5 L152.2 516.9 L150 515.6 L147.7 514.7 L145.3 514.1 L142.9 513.9 L140.5 514.1 L138.3 514.6 L136.1 515.6 L134.2 516.9" fill="none" stroke="#000" stroke-width="1" />
<path d="M191.1 525.2 L193.1 524.2 L194.9 522.9 L196.5 521.4 L197.8 519.5 L198.9 517.4 L199.6 515.1 L199.9 512.7 L200 510.2 L199.6 507.7 L199 505.2 L198 502.8 L196.7 500.6 L195.2 498.5 L193.4 496.7 L191.4 495.1 L189.3 493.9 L187 492.9 L184.7 492.4 L182.4 492.2 L180.1 492.4 L178 492.9 L175.9 493.8 L174.1 495.1" fill="none" stroke="#000" stroke-width="1" />
<path d="M188.6 526.7 L190.6 525.7 L192.5 524.4 L194 522.8 L195.4 521 L196.4 518.9 L197.1 516.6 L197.5 514.2 L197.5 511.7 L197.2 509.2 L196.5 506.7 L195.5 504.3 L194.3 502 L192.7 499.9 L190.9 498.1 L188.9 496.5 L186.8 495.2 L184.5 494.3 L182.2 493.7 L179.9 493.6 L177.6 493.7 L175.4 494.3 L173.4 495.2 L171.5 496.5" fill="none" stroke="#000" stroke-width="1" />
<path d="M186.1 528.2 L188.1 527.2 L190 525.9 L191.6 524.3 L192.9 522.4 L193.9 520.3 L194.6 518 L195 515.6 L195 513.1 L194.7 510.6 L194.1 508.1 L193.1 505.7 L191.8 503.4 L190.2 501.3 L188.4 499.4 L186.4 497.9 L184.3 496.6 L182 495.7 L179.7 495.1 L177.3 494.9 L175 495.1 L172.9 495.7 L170.8 496.6 L168.9 497.8" fill="none" stroke="#000" stroke-width="1" />
<path d="M183.6 529.7 L185.7 528.7 L187.5 527.4 L189.1 525.8 L190.4 523.9 L191.5 521.8 L192.2 519.5 L192.5 517.1 L192.6 514.5 L192.3 512 L191.6 509.5 L190.6 507.1 L189.3 504.8 L187.7 502.7 L185.9 500.8 L183.9 499.2 L181.7 498 L179.5 497 L177.1 496.5 L174.8 496.3 L172.5 496.5 L170.3 497 L168.2 497.9 L166.4 499.2" fill="none" stroke="#000" stroke-width="1" />
<path d="M181.1 531.2 L183.2 530.2 L185 528.9 L186.6 527.3 L188 525.4 L189 523.3 L189.7 521 L190.1 518.5 L190.1 516 L189.8 513.4 L189.1 510.9 L188.1 508.5 L186.8 506.2 L185.3 504.1 L183.4 502.2 L181.4 500.6 L179.2 499.3 L177 498.4 L174.6 497.8 L172.3 497.6 L170 497.8 L167.8 498.4 L165.7 499.3 L163.8 500.6" fill="none" stroke="#000" stroke-width="1" />
<path d="M178.6 532.7 L180.7 531.7 L182.5 530.4 L184.2 528.8 L185.5 526.9 L186.5 524.7 L187.3 522.4 L187.6 519.9 L187.7 517.4 L187.3 514.9 L186.7 512.3 L185.7 509.9 L184.4 507.6 L182.8 505.5 L181 503.6 L178.9 502 L176.7 500.7 L174.4 499.8 L172.1 499.2 L169.7 499 L167.4 499.2 L165.2 499.8 L163.1 500.7 L161.3 501.9" fill="none" stroke="#000" stroke-width="1" />
<path d="M176.1 534.1 L178.2 533.2 L180.1 531.9 L181.7 530.2 L183 528.3 L184.1 526.2 L184.8 523.9 L185.2 521.4 L185.2 518.8 L184.9 516.3 L184.2 513.7 L183.2 511.3 L181.9 509 L180.3 506.8 L178.5 505 L176.4 503.4 L174.2 502.1 L171.9 501.1 L169.6 500.6 L167.2 500.4 L164.9 500.6 L162.7 501.1 L160.6 502 L158.7 503.3" fill="none" stroke="#000" stroke-width="1" />
<path d="M33.5 572.6 L76.5 548.7 L100 578 L58 600Z" fill="#fff" stroke="none" stroke-width="0" />
<path d="M33.5 572.6 L76.5 548.7" fill="none" stroke="#000" stroke-width="1.1" />
<path d="M74.6 548.7 L85.1 538.2 L103.3 548.7 L115.7 568.8 L108 577.4 L97.5 583.1 L93 570 L80 552Z" fill="#fff" stroke="#000" stroke-width="1.1" />
<path d="M80.5 546 L99.4 556.3 L110.9 575.4" fill="none" stroke="#000" stroke-width="1" />
<path d="M99.4 556.3 L104.2 548.7" fill="none" stroke="#000" stroke-width="1" />
<path d="M80 552 L93 563 L99 580" fill="none" stroke="#000" stroke-width="0.9" />
<path d="M89.5 583.5 L97.5 578.5" fill="none" stroke="#000" stroke-width="1.1" />
<path d="M57 588 L57.4 587.6 L58 587.1 L58.6 586.5 L59.4 585.8 L60.2 585.1 L61 584.5 L61.8 583.9 L62.5 583.2 L63.4 582.6 L64.3 582 L65.5 581.5 L66.9 581.2 L68.7 581 L70.9 581 L73.3 581.1 L75.8 581.3 L78.1 581.6 L80.3 582.1 L82.3 582.8 L84.2 583.7 L86 584.7 L87.7 585.8 L89.4 586.9 L91 588 L92.6 589 L94 590 L95.5 591.1 L96.8 592.2 L98.1 593.3 L99.4 594.6 L100.7 596 L102 597.5 L103.2 599 L104.3 600.7 L105.3 602.4 L106.1 604.1 L106.7 605.9 L107.2 607.9 L107.6 609.8 L107.8 611.8 L107.8 613.8 L107.6 615.6 L107.2 617.4 L106.5 619.1 L105.6 620.8 L104.6 622.4 L103.5 623.9 L102.3 625.2 L101 626.3 L99.5 627.3 L97.9 628.2 L96.2 628.9 L94.6 629.5 L93 630 L91.4 630.3 L89.7 630.4 L88 630.3 L86.4 630.2 L85.1 630.1 L84.1 630 L57.4 619.6 L41.1 619.4 L45 600Z" fill="#fff" stroke="none" stroke-width="0" />
<path d="M57 588 L57.4 587.6 L58 587.1 L58.6 586.5 L59.4 585.8 L60.2 585.1 L61 584.5 L61.8 583.9 L62.5 583.2 L63.4 582.6 L64.3 582 L65.5 581.5 L66.9 581.2 L68.7 581 L70.9 581 L73.3 581.1 L75.8 581.3 L78.1 581.6 L80.3 582.1 L82.3 582.8 L84.2 583.7 L86 584.7 L87.7 585.8 L89.4 586.9 L91 588 L92.6 589 L94 590 L95.5 591.1 L96.8 592.2 L98.1 593.3 L99.4 594.6 L100.7 596 L102 597.5 L103.2 599 L104.3 600.7 L105.3 602.4 L106.1 604.1 L106.7 605.9 L107.2 607.9 L107.6 609.8 L107.8 611.8 L107.8 613.8 L107.6 615.6 L107.2 617.4 L106.5 619.1 L105.6 620.8 L104.6 622.4 L103.5 623.9 L102.3 625.2 L101 626.3 L99.5 627.3 L97.9 628.2 L96.2 628.9 L94.6 629.5 L93 630 L91.4 630.3 L89.7 630.4 L88 630.3 L86.4 630.2 L85.1 630.1 L84.1 630" fill="none" stroke="#000" stroke-width="1.1" />
<path d="M41.1 619.4 L57.4 619.6 L84.1 630" fill="none" stroke="#000" stroke-width="1.1" />
<path d="M97 594.5 L97.5 595.2 L98.1 596.2 L98.8 597.3 L99.7 598.6 L100.5 599.9 L101.3 601.3 L102 602.7 L102.5 604 L102.9 605.3 L103.3 606.7 L103.6 608.1 L103.9 609.5 L104.1 610.9 L104.1 612.3 L104.1 613.7 L104 615 L103.8 616.3 L103.4 617.6 L102.9 618.9 L102.4 620.1 L101.7 621.3 L101 622.5 L100.3 623.5 L99.5 624.5 L98.6 625.4 L97.5 626.2 L96.2 626.9 L95 627.6 L93.7 628.2 L92.6 628.7 L91.7 629.1 L91 629.5" fill="none" stroke="#000" stroke-width="1" />
<path d="M11.5 587.9 L28.7 571.2 L33.2 569 L56.1 580.9 L64.7 598.1 L45.6 617.2 L41.1 619.4 L18.2 609.9Z" fill="#fff" stroke="#000" stroke-width="1.1" />
<path d="M11.5 587.9 L28.7 571.2 L51.6 583.1 L60.2 600.3 L41.1 619.4 L18.2 609.9Z" fill="#fff" stroke="#000" stroke-width="1.1" />
<path d="M51.6 583.1 L56.1 580.9" fill="none" stroke="#000" stroke-width="0.9" />
<path d="M60.2 600.3 L64.7 598.1" fill="none" stroke="#000" stroke-width="0.9" />
<path d="M28.7 571.2 L33.2 569" fill="none" stroke="#000" stroke-width="0.9" />
<path d="M48.3 591.3 L48.9 594.4 L49 597.6 L48.5 600.7 L47.5 603.7 L46 606.5 L44 608.9 L41.7 610.9 L39 612.5 L36.1 613.5 L33 614 L29.9 613.9 L26.9 613.2 L24 612 L21.4 610.3 L19.1 608.2 L17.2 605.6 L15.8 602.8 L14.9 599.8 L14.6 596.6 L14.8 593.4 L15.5 590.4 L16.8 587.5 L18.5 584.9 L20.7 582.6 L23.3 580.8 L26.1 579.5 L29.1 578.8 L32.1 578.6 L35.2 579 L38.2 579.9 L40.9 581.3 L43.4 583.3 L45.5 585.6 L47.1 588.3 L48.3 591.3Z" fill="#fff" stroke="#000" stroke-width="1.1" />
<path d="M43.9 607.1 L42.2 608.7 L40.2 610 L38.1 611.1 L35.8 611.7 L33.5 612 L31.2 612 L28.8 611.5 L26.6 610.8 L24.5 609.6 L22.6 608.2 L20.9 606.5 L19.5 604.6 L18.4 602.4 L17.6 600.1 L17.2 597.8 L17.1 595.3 L17.4 592.9 L18 590.6 L18.9 588.4 L20.2 586.4 L21.8 584.6 L23.6 583 L25.6 581.8" fill="none" stroke="#000" stroke-width="1" />
<path d="M41.7 607.3 L40.1 608.4 L38.4 609.2 L36.6 609.7 L34.7 610 L32.9 610.1 L31 609.8 L29.2 609.4 L27.4 608.6 L25.8 607.6 L24.3 606.5 L23 605.1 L21.8 603.5 L20.9 601.8 L20.2 600 L19.8 598.1 L19.6 596.2 L19.7 594.3 L20 592.4 L20.6 590.5 L21.4 588.8 L22.5 587.2 L23.7 585.7 L25.1 584.5" fill="none" stroke="#000" stroke-width="0.9" />
<path d="M39.7 606.8 L38.3 607.4 L36.9 607.8 L35.5 608 L34 608.1 L32.5 608 L31.1 607.7 L29.7 607.2 L28.4 606.5 L27.1 605.7 L26 604.7 L25 603.7 L24.1 602.4 L23.4 601.1 L22.8 599.7 L22.4 598.3 L22.2 596.8 L22.1 595.3 L22.3 593.8 L22.6 592.3 L23 590.9 L23.7 589.6 L24.5 588.3 L25.4 587.1" fill="none" stroke="#000" stroke-width="0.9" />
<path d="M41.1 528.6 L51 560" fill="none" stroke="#000" stroke-width="1" />
<path d="M51.8 562.8 L48.2 556.3 L52.4 555Z" fill="#000" stroke="#000" stroke-width="0.5" />
<path d="M271.5 518 L286 510.5" fill="none" stroke="#000" stroke-width="4.6" stroke-linecap="butt"/>
<path d="M287.7 514.8 L293.1 506.8 L283.4 506.6Z" fill="#000" stroke="#000" stroke-width="0.5" />
<circle cx="306.7" cy="499.6" r="8" fill="#fff" stroke="#000" stroke-width="1.3"/>
<path d="M305.4 494.6 L308 494.6 L307.2 503.2 L306.2 503.2Z" fill="#000" stroke="#000" stroke-width="0.4" />
<circle cx="306.7" cy="505.6" r="1.3" fill="#000"/>
<path d="M311.3 452.4 L314.5 457.1 L311.7 460.8 L308 467.3 L302.4 473.8 L292.1 478.5 L289.3 480.8 L250.1 446.4Z" fill="#fff" stroke="none" stroke-width="0" />
<path d="M311.3 452.4 L311.8 453.1 L312.6 454 L313.5 455.1 L314.2 456.1 L314.5 457.1 L314.3 457.9 L313.9 458.5 L313.2 459.2 L312.4 459.9 L311.7 460.8 L311 461.9 L310.4 463.2 L309.7 464.6 L308.9 466 L308 467.3 L307.1 468.6 L306.1 470 L305.1 471.3 L303.9 472.6 L302.4 473.8 L300.5 474.9 L298.3 475.9 L295.9 476.9 L293.8 477.7 L292.1 478.5 L291 479.2 L290.3 479.7 L289.9 480.2 L289.6 480.5 L289.3 480.8" fill="none" stroke="#000" stroke-width="1.1" />
<path d="M295.4 465 L290.3 479.4" fill="none" stroke="#000" stroke-width="1" />
<path d="M303.5 461 L308 463.5 L305.5 466" fill="none" stroke="#000" stroke-width="1" />
<path d="M236 503 L236.2 503.4 L236.3 504 L236.5 504.8 L236.8 505.6 L237.1 506.3 L237.5 507.1 L238.2 507.6 L239 508 L240.1 508.2 L241.4 508.2 L242.9 508.2 L244.5 508 L246.2 507.8 L247.9 507.5 L249.5 507.3 L251 507 L252.4 506.7 L253.9 506.4 L255.3 506.1 L256.7 505.7 L258.1 505.3 L259.4 504.9 L260.7 504.4 L262 504 L263.2 503.6 L264.3 503.3 L265.3 502.9 L266.3 502.6 L267.3 502.1 L268.4 501.6 L269.6 500.9 L271 500 L272.6 498.9 L274.3 497.5 L276.2 496 L278.2 494.4 L280.1 492.7 L281.9 491 L283.6 489.5 L285 488 L286.2 486.7 L287.1 485.4 L288 484.1 L288.7 482.9 L289.3 481.7 L289.9 480.5 L290.4 479.2 L291 478 L291.5 476.8 L292 475.6 L292.4 474.4 L292.8 473.2 L293.2 472 L293.5 470.7 L293.7 469.4 L294 468 L294.2 466.4 L294.4 464.7 L294.6 462.8 L294.7 460.9 L294.8 459.1 L294.9 457.4 L294.9 456 L295 455 L250.1 438.4Z" fill="#fff" stroke="none" stroke-width="0" />
<path d="M236 503 L236.2 503.4 L236.3 504 L236.5 504.8 L236.8 505.6 L237.1 506.3 L237.5 507.1 L238.2 507.6 L239 508 L240.1 508.2 L241.4 508.2 L242.9 508.2 L244.5 508 L246.2 507.8 L247.9 507.5 L249.5 507.3 L251 507 L252.4 506.7 L253.9 506.4 L255.3 506.1 L256.7 505.7 L258.1 505.3 L259.4 504.9 L260.7 504.4 L262 504 L263.2 503.6 L264.3 503.3 L265.3 502.9 L266.3 502.6 L267.3 502.1 L268.4 501.6 L269.6 500.9 L271 500 L272.6 498.9 L274.3 497.5 L276.2 496 L278.2 494.4 L280.1 492.7 L281.9 491 L283.6 489.5 L285 488 L286.2 486.7 L287.1 485.4 L288 484.1 L288.7 482.9 L289.3 481.7 L289.9 480.5 L290.4 479.2 L291 478 L291.5 476.8 L292 475.6 L292.4 474.4 L292.8 473.2 L293.2 472 L293.5 470.7 L293.7 469.4 L294 468 L294.2 466.4 L294.4 464.7 L294.6 462.8 L294.7 460.9 L294.8 459.1 L294.9 457.4 L294.9 456 L295 455" fill="none" stroke="#000" stroke-width="1.1" />
<path d="M263 487.5 L270 484.9 L270 488.1 L263 490.7Z" fill="#fff" stroke="#000" stroke-width="1" />
<path d="M248.9 484.4 L249.4 491.2 L245.7 495.7 L241.3 498.4 L224.7 518.8 L218.8 494.3 L225.5 479.1 L232.4 478Z" fill="#fff" stroke="none" stroke-width="0" />
<path d="M249.1 486.4 L249.4 491.2 L245.7 495.7 L241.3 498.4 L224.7 518.8" fill="none" stroke="#000" stroke-width="1.1" />
<path d="M246.1 487.2 L246.6 493.6" fill="none" stroke="#000" stroke-width="0.9" />
<path d="M246.1 487.2 L232.5 479.2 L226.4 481.2" fill="none" stroke="#000" stroke-width="1.1" />
<path d="M240.4 486 L245.2 495.7" fill="none" stroke="#000" stroke-width="0.9" />
<path d="M234.9 488.4 L228 479.8" fill="none" stroke="#000" stroke-width="0.9" />
<path d="M234.9 488.4 L241.3 498.4" fill="none" stroke="#000" stroke-width="0.9" />
<path d="M234.1 495.4 L231.2 479.4 L206.1 463.5 L201.3 465.2 L190.5 480.1 L194.4 500.5 L223.1 519.4 L227.9 517.7Z" fill="#fff" stroke="#000" stroke-width="1.1" />
<path d="M226.4 481.2 L201.3 465.2 L190.5 480.1 L194.4 500.5 L223.1 519.4 L229.3 497.1Z" fill="#fff" stroke="#000" stroke-width="1.1" />
<path d="M193.1 485.5 L192.7 482.6 L192.7 480 L193.1 477.8 L194.1 475.9 L195.5 474.4 L197.3 473.4 L199.4 472.9 L201.8 472.8 L204.5 473.3 L207.4 474.3 L210.3 475.8 L213.3 477.7 L216.2 480 L219 482.5 L221.6 485.4 L223.9 488.4 L225.8 491.6 L227.4 494.7 L228.6 497.8 L229.3 500.8 L229.5 503.5 L229.3 505.9 L228.6 508 L227.4 509.7 L225.8 511 L223.8 511.7 L221.5 512 L219 511.8 L216.2 511 L213.3 509.8 L210.3 508.1 L207.3 506 L204.5 503.6 L201.8 500.8 L199.4 497.9 L197.2 494.8 L195.4 491.7 L194.1 488.5 L193.1 485.5Z" fill="#2b2224" stroke="none" stroke-width="0" />
<path d="M199.2 485.2 L198.8 483 L198.8 481 L199.2 479.2 L199.9 477.7 L201 476.6 L202.4 475.8 L204.1 475.4 L206 475.4 L208.1 475.8 L210.3 476.5 L212.6 477.7 L214.9 479.1 L217.2 480.9 L219.3 482.9 L221.3 485.2 L223.1 487.5 L224.7 490 L225.9 492.4 L226.8 494.8 L227.4 497.1 L227.6 499.3 L227.4 501.2 L226.8 502.8 L225.9 504.1 L224.7 505.1 L223.1 505.7 L221.3 505.9 L219.3 505.7 L217.2 505.1 L214.9 504.2 L212.6 502.9 L210.3 501.2 L208 499.3 L205.9 497.2 L204 494.9 L202.4 492.5 L201 490 L199.9 487.6 L199.2 485.2Z" fill="#fff" stroke="none" stroke-width="0" />
<path d="M222.3 508.1 L221 508.1 L219.5 508 L218 507.6 L216.4 507.1 L214.7 506.4 L213 505.5 L211.3 504.5 L209.7 503.3 L208 502 L206.4 500.6 L204.9 499 L203.5 497.4 L202.1 495.7 L200.9 493.9 L199.8 492.2 L198.8 490.4 L198 488.6 L197.4 486.8 L196.9 485.1 L196.6 483.5 L196.5 482 L196.6 480.5 L196.8 479.2" fill="none" stroke="#cfc8c8" stroke-width="0.6" />
<path d="M222.5 510 L221 510.1 L219.4 509.9 L217.7 509.5 L216 509 L214.2 508.2 L212.4 507.3 L210.6 506.2 L208.8 504.9 L207 503.4 L205.3 501.9 L203.6 500.2 L202.1 498.5 L200.6 496.6 L199.3 494.7 L198.1 492.8 L197.1 490.9 L196.2 488.9 L195.5 487.1 L195 485.2 L194.7 483.4 L194.6 481.8 L194.6 480.2 L194.9 478.8" fill="none" stroke="#cfc8c8" stroke-width="0.6" />
<path d="M193.1 485.5 L192.7 482.6 L192.7 480 L193.1 477.8 L194.1 475.9 L195.5 474.4 L197.3 473.4 L199.4 472.9 L201.8 472.8 L204.5 473.3 L207.4 474.3 L210.3 475.8 L213.3 477.7 L216.2 480 L219 482.5 L221.6 485.4 L223.9 488.4 L225.8 491.6 L227.4 494.7 L228.6 497.8 L229.3 500.8 L229.5 503.5 L229.3 505.9 L228.6 508 L227.4 509.7 L225.8 511 L223.8 511.7 L221.5 512 L219 511.8 L216.2 511 L213.3 509.8 L210.3 508.1 L207.3 506 L204.5 503.6 L201.8 500.8 L199.4 497.9 L197.2 494.8 L195.4 491.7 L194.1 488.5 L193.1 485.5Z" fill="none" stroke="#000" stroke-width="1.3" />
<path d="M310.7 436.8 L251.8 473.2 L189.6 440 L248.5 403.6Z" fill="#fff" stroke="#000" stroke-width="1.1" />
<path d="M310.7 436.8 L251.8 473.2 L251.8 488.7 L310.7 452.3Z" fill="#fff" stroke="#000" stroke-width="1.1" />
<path d="M251.8 473.2 L189.6 440 L189.6 455.5 L251.8 488.7Z" fill="#fff" stroke="#000" stroke-width="1.1" />
<path d="M310.7 444.3 L251.8 480.7 L189.6 447.5" fill="none" stroke="#000" stroke-width="1" />
<path d="M243.8 414.4 L242.3 413.3 L241.6 412 L241.6 410.6 L242.4 409.3 L243.9 408.1 L246 407.4 L248.4 407 L250.8 407.1 L253 407.7 L254.8 408.6 L255.9 409.9 L256.3 411.2 L255.8 412.6 L254.6 413.9 L252.8 414.8 L250.6 415.4 L248.1 415.5 L245.8 415.2 L243.8 414.4Z" fill="#fff" stroke="#000" stroke-width="0.9" />
<path d="M243.2 404.1 L248.7 402.1 L254.3 403.8 L254.5 407.4 L254.5 412.1 L249 414.1 L243.4 412.4 L243.2 408.8Z" fill="#fff" stroke="#000" stroke-width="1" />
<path d="M243.4 407.7 L243.2 404.1 L248.7 402.1 L254.3 403.8 L254.5 407.5 L249 409.4Z" fill="#fff" stroke="#000" stroke-width="1" />
<path d="M243.4 407.7 L243.4 412.4" fill="none" stroke="#000" stroke-width="0.8" />
<path d="M243.2 404.1 L243.2 408.8" fill="none" stroke="#000" stroke-width="0.8" />
<path d="M248.7 402.1 L248.7 406.8" fill="none" stroke="#000" stroke-width="0.8" />
<path d="M254.3 403.8 L254.3 408.5" fill="none" stroke="#000" stroke-width="0.8" />
<path d="M254.5 407.5 L254.5 412.2" fill="none" stroke="#000" stroke-width="0.8" />
<path d="M249 409.4 L249 414.1" fill="none" stroke="#000" stroke-width="0.8" />
<path d="M243.4 407.7 L243.2 404.1 L248.7 402.1 L254.3 403.8 L254.5 407.5 L249 409.4Z" fill="#fff" stroke="#000" stroke-width="1" />
<path d="M212.9 436 L213.2 433.2 L214.1 430.3 L215.7 427.6 L217.9 425 L220.7 422.6 L223.7 420.4 L226.7 418.5 L230.1 416.8 L233.8 415.3 L237.8 414.2 L242.1 413.4 L246.5 412.9 L250.9 412.7 L255.4 412.9 L259.7 413.4 L263.9 414.2 L267.8 415.4 L271.4 416.9 L274.7 418.6 L277.5 420.6 L280.6 422.8 L283.2 425.2 L285.2 427.8 L286.6 430.5 L287.3 433.3 L287.4 436.2 L286.7 439.1 L285.5 441.8 L283.6 444.5 L281.1 447 L278.1 449.3 L274.5 451.4 L270.5 453.1 L266.2 454.6 L261.6 455.7 L256.7 456.4 L251.8 456.8 L246.8 456.8 L241.9 456.4 L237.1 455.6 L232.6 454.5 L228.4 453 L224.5 451.2 L221.2 449.2 L218.3 446.9 L216 444.3 L214.3 441.7 L213.3 438.9Z" fill="#fff" stroke="#000" stroke-width="1.1" />
<path d="M275.1 418.9 L277.8 420.8 L280 422.9 L281.7 425.2 L282.8 427.6 L283.5 430.1 L283.5 432.6 L283 435 L281.9 437.5 L280.4 439.8 L278.3 442 L275.7 444 L272.7 445.8 L269.3 447.4 L265.6 448.8 L261.6 449.8 L257.5 450.6 L253.2 451 L248.9 451.1 L244.6 450.9 L240.4 450.4 L236.3 449.5 L232.5 448.4 L229 447 L225.8 445.3 L223.1 443.4 L220.8 441.4 L219 439.1 L217.7 436.8 L216.9 434.3 L216.8 431.8 L217.1 429.3 L218.1 426.9 L219.5 424.5 L221.5 422.3 L224 420.2" fill="none" stroke="#000" stroke-width="1" />
<path d="M292.7 441.5 L291.2 440.4 L290.4 439.1 L290.5 437.7 L291.3 436.4 L292.8 435.2 L294.9 434.5 L297.2 434.1 L299.7 434.2 L301.9 434.8 L303.6 435.7 L304.8 437 L305.1 438.3 L304.7 439.7 L303.5 441 L301.7 441.9 L299.5 442.5 L297 442.6 L294.7 442.3 L292.7 441.5Z" fill="#fff" stroke="#000" stroke-width="0.9" />
<path d="M292.1 431.2 L297.6 429.2 L303.2 430.9 L303.4 434.6 L303.4 439.3 L297.9 441.2 L292.3 439.6 L292.1 435.9Z" fill="#fff" stroke="#000" stroke-width="1" />
<path d="M292.3 434.9 L292.1 431.2 L297.6 429.2 L303.2 430.9 L303.4 434.6 L297.9 436.6Z" fill="#fff" stroke="#000" stroke-width="1" />
<path d="M292.3 434.9 L292.3 439.6" fill="none" stroke="#000" stroke-width="0.8" />
<path d="M292.1 431.2 L292.1 435.9" fill="none" stroke="#000" stroke-width="0.8" />
<path d="M297.6 429.2 L297.6 433.9" fill="none" stroke="#000" stroke-width="0.8" />
<path d="M303.2 430.9 L303.2 435.6" fill="none" stroke="#000" stroke-width="0.8" />
<path d="M303.4 434.6 L303.4 439.3" fill="none" stroke="#000" stroke-width="0.8" />
<path d="M297.9 436.6 L297.9 441.3" fill="none" stroke="#000" stroke-width="0.8" />
<path d="M292.3 434.9 L292.1 431.2 L297.6 429.2 L303.2 430.9 L303.4 434.6 L297.9 436.6Z" fill="#fff" stroke="#000" stroke-width="1" />
<path d="M198.8 442.9 L197.3 441.8 L196.5 440.5 L196.6 439.1 L197.4 437.8 L198.9 436.7 L201 435.9 L203.3 435.6 L205.8 435.7 L208 436.2 L209.7 437.2 L210.9 438.4 L211.2 439.8 L210.8 441.2 L209.6 442.4 L207.8 443.3 L205.6 443.9 L203.1 444 L200.8 443.7 L198.8 442.9Z" fill="#fff" stroke="#000" stroke-width="0.9" />
<path d="M198.2 432.6 L203.7 430.6 L209.3 432.3 L209.5 436 L209.5 440.7 L204 442.7 L198.4 441 L198.2 437.3Z" fill="#fff" stroke="#000" stroke-width="1" />
<path d="M198.4 436.3 L198.2 432.6 L203.7 430.6 L209.3 432.3 L209.5 436 L204 438Z" fill="#fff" stroke="#000" stroke-width="1" />
<path d="M198.4 436.3 L198.4 441" fill="none" stroke="#000" stroke-width="0.8" />
<path d="M198.2 432.6 L198.2 437.3" fill="none" stroke="#000" stroke-width="0.8" />
<path d="M203.7 430.6 L203.7 435.3" fill="none" stroke="#000" stroke-width="0.8" />
<path d="M209.3 432.3 L209.3 437" fill="none" stroke="#000" stroke-width="0.8" />
<path d="M209.5 436 L209.5 440.7" fill="none" stroke="#000" stroke-width="0.8" />
<path d="M204 438 L204 442.7" fill="none" stroke="#000" stroke-width="0.8" />
<path d="M198.4 436.3 L198.2 432.6 L203.7 430.6 L209.3 432.3 L209.5 436 L204 438Z" fill="#fff" stroke="#000" stroke-width="1" />
<path d="M248.9 471.4 L247.4 470.3 L246.7 469 L246.7 467.6 L247.5 466.3 L249.1 465.2 L251.1 464.4 L253.5 464 L255.9 464.1 L258.1 464.7 L259.9 465.6 L261 466.9 L261.4 468.2 L260.9 469.6 L259.8 470.9 L257.9 471.8 L255.7 472.4 L253.3 472.5 L250.9 472.2 L248.9 471.4Z" fill="#fff" stroke="#000" stroke-width="0.9" />
<path d="M248.3 461.1 L253.8 459.1 L259.5 460.8 L259.6 464.5 L259.6 469.2 L254.2 471.2 L248.5 469.5 L248.3 465.8Z" fill="#fff" stroke="#000" stroke-width="1" />
<path d="M248.5 464.8 L248.3 461.1 L253.8 459.1 L259.5 460.8 L259.6 464.5 L254.2 466.5Z" fill="#fff" stroke="#000" stroke-width="1" />
<path d="M248.5 464.8 L248.5 469.5" fill="none" stroke="#000" stroke-width="0.8" />
<path d="M248.3 461.1 L248.3 465.8" fill="none" stroke="#000" stroke-width="0.8" />
<path d="M253.8 459.1 L253.8 463.8" fill="none" stroke="#000" stroke-width="0.8" />
<path d="M259.5 460.8 L259.5 465.5" fill="none" stroke="#000" stroke-width="0.8" />
<path d="M259.6 464.5 L259.6 469.2" fill="none" stroke="#000" stroke-width="0.8" />
<path d="M254.2 466.5 L254.2 471.2" fill="none" stroke="#000" stroke-width="0.8" />
<path d="M248.5 464.8 L248.3 461.1 L253.8 459.1 L259.5 460.8 L259.6 464.5 L254.2 466.5Z" fill="#fff" stroke="#000" stroke-width="1" />
<path d="M296.9 413.9 L273.9 428.1 L248.4 414.5 L271.4 400.3Z" fill="#fff" stroke="#000" stroke-width="1.1" />
<path d="M296.9 413.9 L273.9 428.1 L273.9 437.3 L296.9 423.1Z" fill="#fff" stroke="#000" stroke-width="1.1" />
<path d="M273.9 428.1 L248.4 414.5 L248.4 423.7 L273.9 437.3Z" fill="#fff" stroke="#000" stroke-width="1.1" />
<path d="M289.8 393.3 L270.4 405.3 L253.9 396.5 L273.4 384.5Z" fill="#fff" stroke="#000" stroke-width="1.1" />
<path d="M289.8 393.3 L270.4 405.3 L270.4 425.3 L289.8 413.3Z" fill="#fff" stroke="#000" stroke-width="1.1" />
<path d="M270.4 405.3 L253.9 396.5 L253.9 416.5 L270.4 425.3Z" fill="#fff" stroke="#000" stroke-width="1.1" />
<path d="M255.6 400.2 L267.8 406.7 L267.8 421.9 L255.6 415.4" fill="none" stroke="#000" stroke-width="1.1" />
<path d="M258.9 405.1 L267.8 409.9" fill="none" stroke="#000" stroke-width="1" />
<path d="M258.9 405.1 L258.9 413.9 L267.8 418.7" fill="none" stroke="#000" stroke-width="1" />
<path d="M260.2 407.8 L264.8 412.7 L260.2 412.6Z" fill="#000" stroke="#000" stroke-width="0.7" />
<path d="M255.6 400.2 L255.6 407.8" fill="none" stroke="#000" stroke-width="2.1" />
<path d="M257.2 418.3 L261.3 418.9 L263 420.9" fill="none" stroke="#000" stroke-width="1.4" />
<path d="M266.3 395.2 L266.4 394.6 L266.6 394 L267 393.5 L267.5 393 L268.2 392.5 L269 392.1 L269.9 391.8 L270.9 391.6 L271.9 391.4 L272.9 391.4 L273.9 391.5 L274.9 391.6 L275.9 391.9 L276.7 392.2 L277.5 392.6 L278.1 393.1 L278.6 393.6 L278.9 394.1 L279.1 394.7 L279.1 395.3 L279.1 396.8 L278.9 397.4 L278.6 398 L278.1 398.5 L277.5 399 L276.8 399.4 L275.9 399.8 L275 400 L274 400.2 L273 400.3 L272 400.3 L271 400.2 L270 400 L269.1 399.7 L268.3 399.3 L267.6 398.9 L267 398.4 L266.6 397.9 L266.4 397.3 L266.3 396.7Z" fill="#fff" stroke="#000" stroke-width="1.1" />
<path d="M268.3 397.8 L267.6 397.4 L267 396.9 L266.6 396.4 L266.4 395.8 L266.3 395.2 L266.4 394.6 L266.6 394 L267 393.5 L267.5 393 L268.2 392.5 L269 392.1 L269.9 391.8 L270.9 391.6 L271.9 391.4 L272.9 391.4 L273.9 391.5 L274.9 391.6 L275.9 391.9 L276.7 392.2 L277.5 392.6 L278.1 393 L278.6 393.6 L278.9 394.1 L279.1 394.7 L279.1 395.3 L278.9 395.9 L278.6 396.5 L278.2 397 L277.5 397.5 L276.8 397.9 L276 398.3 L275 398.5 L274 398.7 L273 398.8 L272 398.8 L271 398.7 L270 398.5 L269.1 398.2 L268.3 397.8Z" fill="#fff" stroke="#000" stroke-width="1.1" />
<path d="M268.8 393 L272.2 391.5 L276.1 392.4 L276.6 394.8 L276.6 396.3 L273.2 397.8 L269.3 396.9 L268.8 394.5Z" fill="#fff" stroke="#000" stroke-width="1" />
<path d="M269.3 395.4 L269.3 396.9" fill="none" stroke="#000" stroke-width="0.8" />
<path d="M268.8 393 L268.8 394.5" fill="none" stroke="#000" stroke-width="0.8" />
<path d="M272.2 391.5 L272.2 393" fill="none" stroke="#000" stroke-width="0.8" />
<path d="M276.1 392.4 L276.1 393.9" fill="none" stroke="#000" stroke-width="0.8" />
<path d="M276.6 394.8 L276.6 396.3" fill="none" stroke="#000" stroke-width="0.8" />
<path d="M273.2 396.3 L273.2 397.8" fill="none" stroke="#000" stroke-width="0.8" />
<path d="M269.3 395.4 L268.8 393 L272.2 391.5 L276.1 392.4 L276.6 394.8 L273.2 396.3Z" fill="#fff" stroke="#000" stroke-width="1" />
<path d="M271.1 394.9 L270.4 394.2 L270.5 393.5 L271.2 392.9 L272.5 392.6 L273.8 392.7 L274.7 393.2 L275.1 393.9 L274.6 394.7 L273.6 395.1 L272.3 395.2 L271.1 394.9Z" fill="#fff" stroke="#000" stroke-width="0.8" />
<path d="M439 510.3 L473 528 L459 545 L427.6 524Z" fill="#fff" stroke="none" stroke-width="0" />
<path d="M473 528 L439 510.3" fill="none" stroke="#000" stroke-width="1.1" />
<path d="M439 510.3 L438.7 510.9 L438.2 511.7 L437.7 512.7 L437.2 513.8 L436.6 514.9 L435.9 516 L435.2 517.1 L434.5 518 L433.7 518.9 L432.8 519.8 L431.8 520.6 L430.8 521.5 L429.8 522.3 L428.9 523 L428.1 523.5 L427.6 524" fill="none" stroke="#000" stroke-width="1.1" />
<path d="M427.6 524 L459 545" fill="none" stroke="#000" stroke-width="1.1" />
<path d="M535 599.4 L549.9 623.4 L570.4 618.9 L552.1 589.1Z" fill="#fff" stroke="none" stroke-width="0" />
<path d="M535 599.4 L549.9 623.4" fill="none" stroke="#000" stroke-width="1.1" />
<path d="M552.1 589.1 L570.4 618.9" fill="none" stroke="#000" stroke-width="1.1" />
<path d="M615.8 514.3 L620.5 521.3 L615.8 525.9 L610 533.5 L601.8 539.9 L594.3 544 L592.5 545.2 L555.1 509.7Z" fill="#fff" stroke="none" stroke-width="0" />
<path d="M615.8 514.3 L616.6 515.3 L617.8 516.7 L619.1 518.3 L620.1 519.9 L620.5 521.3 L620.2 522.3 L619.3 523.2 L618.2 524 L617 524.8 L615.8 525.9 L614.7 527.2 L613.7 528.8 L612.5 530.4 L611.3 532 L610 533.5 L608.5 534.9 L606.9 536.3 L605.1 537.6 L603.4 538.8 L601.8 539.9 L600.2 540.9 L598.5 541.8 L596.9 542.7 L595.4 543.4 L594.3 544 L593.5 544.4 L593.1 544.7 L592.8 544.9 L592.7 545.1 L592.5 545.2" fill="none" stroke="#000" stroke-width="1.1" />
<path d="M598.9 530 L593.7 544.6" fill="none" stroke="#000" stroke-width="1" />
<path d="M607.5 523.5 L612.5 526 L610 529" fill="none" stroke="#000" stroke-width="1" />
<path d="M532 545 L532.7 545.7 L533.6 546.6 L534.6 547.7 L535.8 548.9 L537.1 550.1 L538.3 551.3 L539.5 552.5 L540.6 553.5 L541.6 554.4 L542.5 555.3 L543.4 556.1 L544.3 556.9 L545.2 557.7 L546.1 558.4 L547.2 559.1 L548.4 559.8 L549.7 560.5 L551.1 561.3 L552.5 562.1 L554 562.8 L555.6 563.4 L557.2 563.9 L559 564.3 L560.9 564.4 L563 564.3 L565.2 564.1 L567.6 563.8 L570.1 563.3 L572.6 562.6 L575 561.8 L577.4 560.9 L579.5 559.8 L581.5 558.5 L583.5 557 L585.4 555.3 L587.3 553.5 L589 551.6 L590.7 549.6 L592.2 547.7 L593.5 545.8 L594.7 543.9 L595.7 541.9 L596.6 539.8 L597.4 537.8 L598.1 535.7 L598.7 533.8 L599.2 531.9 L599.7 530.2 L600.1 528.6 L600.4 527 L600.6 525.5 L600.7 524.1 L600.8 522.8 L600.9 521.7 L600.9 520.8 L601 520 L555.1 501.7Z" fill="#fff" stroke="none" stroke-width="0" />
<path d="M532 545 L532.7 545.7 L533.6 546.6 L534.6 547.7 L535.8 548.9 L537.1 550.1 L538.3 551.3 L539.5 552.5 L540.6 553.5 L541.6 554.4 L542.5 555.3 L543.4 556.1 L544.3 556.9 L545.2 557.7 L546.1 558.4 L547.2 559.1 L548.4 559.8 L549.7 560.5 L551.1 561.3 L552.5 562.1 L554 562.8 L555.6 563.4 L557.2 563.9 L559 564.3 L560.9 564.4 L563 564.3 L565.2 564.1 L567.6 563.8 L570.1 563.3 L572.6 562.6 L575 561.8 L577.4 560.9 L579.5 559.8 L581.5 558.5 L583.5 557 L585.4 555.3 L587.3 553.5 L589 551.6 L590.7 549.6 L592.2 547.7 L593.5 545.8 L594.7 543.9 L595.7 541.9 L596.6 539.8 L597.4 537.8 L598.1 535.7 L598.7 533.8 L599.2 531.9 L599.7 530.2 L600.1 528.6 L600.4 527 L600.6 525.5 L600.7 524.1 L600.8 522.8 L600.9 521.7 L600.9 520.8 L601 520" fill="none" stroke="#000" stroke-width="1.1" />
<path d="M567 550.5 L574 547.9 L574 551.1 L567 553.7Z" fill="#fff" stroke="#000" stroke-width="1" />
<path d="M615.4 500.5 L555.3 533.5 L494.9 502.9 L555 469.9Z" fill="#fff" stroke="#000" stroke-width="1.1" />
<path d="M615.4 500.5 L555.3 533.5 L555.3 551.5 L615.4 518.5Z" fill="#fff" stroke="#000" stroke-width="1.1" />
<path d="M555.3 533.5 L494.9 502.9 L494.9 520.9 L555.3 551.5Z" fill="#fff" stroke="#000" stroke-width="1.1" />
<path d="M615.4 509.5 L555.3 542.5 L494.9 511.9" fill="none" stroke="#000" stroke-width="1" />
<path d="M549.8 479.7 L548.4 478.7 L547.7 477.5 L547.8 476.2 L548.7 475 L550.3 474 L552.3 473.3 L554.7 473 L557.1 473.1 L559.3 473.7 L561 474.5 L562.1 475.6 L562.4 476.9 L561.9 478.2 L560.7 479.3 L558.8 480.2 L556.6 480.7 L554.1 480.8 L551.8 480.4 L549.8 479.7Z" fill="#fff" stroke="#000" stroke-width="0.9" />
<path d="M549.5 469.8 L555 468 L560.6 469.6 L560.6 473 L560.6 477.7 L555 479.5 L549.5 477.9 L549.5 474.5Z" fill="#fff" stroke="#000" stroke-width="1" />
<path d="M549.5 473.2 L549.5 469.8 L555 468 L560.6 469.6 L560.6 473 L555 474.8Z" fill="#fff" stroke="#000" stroke-width="1" />
<path d="M549.5 473.2 L549.5 477.9" fill="none" stroke="#000" stroke-width="0.8" />
<path d="M549.5 469.8 L549.5 474.5" fill="none" stroke="#000" stroke-width="0.8" />
<path d="M555 468 L555 472.7" fill="none" stroke="#000" stroke-width="0.8" />
<path d="M560.6 469.6 L560.6 474.3" fill="none" stroke="#000" stroke-width="0.8" />
<path d="M560.6 473 L560.6 477.7" fill="none" stroke="#000" stroke-width="0.8" />
<path d="M555 474.8 L555 479.5" fill="none" stroke="#000" stroke-width="0.8" />
<path d="M549.5 473.2 L549.5 469.8 L555 468 L560.6 469.6 L560.6 473 L555 474.8Z" fill="#fff" stroke="#000" stroke-width="1" />
<path d="M516.8 500.5 L517.2 497.8 L518.3 495.2 L520.1 492.6 L522.4 490.1 L525.4 487.9 L528.9 485.8 L532.4 483.8 L535.8 482.3 L539.6 481 L543.6 480 L547.9 479.2 L552.3 478.8 L556.7 478.6 L561.1 478.8 L565.5 479.3 L569.6 480.1 L573.4 481.2 L577 482.6 L580.1 484.2 L584 486.2 L587.1 488.3 L589.6 490.6 L591.5 493.1 L592.8 495.6 L593.4 498.3 L593.4 501 L592.6 503.7 L591.2 506.3 L589.1 508.9 L586.5 511.2 L583.2 513.4 L579.5 515.3 L575.3 516.9 L570.8 518.3 L566 519.3 L561 520 L555.9 520.3 L550.8 520.3 L545.7 519.9 L540.9 519.1 L536.2 518.1 L532 516.6 L528.1 515 L524.7 513 L521.9 510.8 L519.6 508.4 L518 505.9 L517.1 503.2Z" fill="#fff" stroke="#000" stroke-width="1.1" />
<path d="M580.6 484.4 L583.1 486.2 L585.2 488.1 L586.8 490.2 L587.8 492.4 L588.3 494.7 L588.3 496.9 L587.7 499.2 L586.5 501.4 L584.8 503.5 L582.7 505.5 L580 507.4 L577 509 L573.5 510.5 L569.8 511.7 L565.8 512.6 L561.7 513.3 L557.4 513.7 L553.1 513.7 L548.8 513.5 L544.6 513 L540.7 512.3 L536.9 511.2 L533.5 509.9 L530.4 508.4 L527.7 506.6 L525.5 504.7 L523.8 502.7 L522.7 500.5 L522 498.3 L522 496 L522.4 493.7 L523.5 491.5 L525 489.3 L527.1 487.3 L529.6 485.4" fill="none" stroke="#000" stroke-width="1" />
<path d="M597.3 504.7 L595.9 503.7 L595.2 502.5 L595.3 501.2 L596.1 500 L597.7 499 L599.8 498.3 L602.1 498 L604.5 498.1 L606.7 498.6 L608.4 499.5 L609.5 500.6 L609.8 501.9 L609.3 503.1 L608.1 504.3 L606.2 505.1 L604 505.6 L601.6 505.7 L599.2 505.4 L597.3 504.7Z" fill="#fff" stroke="#000" stroke-width="0.9" />
<path d="M596.9 494.8 L602.4 493 L608 494.6 L608 497.9 L608 502.6 L602.5 504.4 L596.9 502.9 L596.9 499.5Z" fill="#fff" stroke="#000" stroke-width="1" />
<path d="M596.9 498.2 L596.9 494.8 L602.4 493 L608 494.6 L608 497.9 L602.5 499.7Z" fill="#fff" stroke="#000" stroke-width="1" />
<path d="M596.9 498.2 L596.9 502.9" fill="none" stroke="#000" stroke-width="0.8" />
<path d="M596.9 494.8 L596.9 499.5" fill="none" stroke="#000" stroke-width="0.8" />
<path d="M602.4 493 L602.4 497.7" fill="none" stroke="#000" stroke-width="0.8" />
<path d="M608 494.6 L608 499.3" fill="none" stroke="#000" stroke-width="0.8" />
<path d="M608 497.9 L608 502.6" fill="none" stroke="#000" stroke-width="0.8" />
<path d="M602.5 499.7 L602.5 504.4" fill="none" stroke="#000" stroke-width="0.8" />
<path d="M596.9 498.2 L596.9 494.8 L602.4 493 L608 494.6 L608 497.9 L602.5 499.7Z" fill="#fff" stroke="#000" stroke-width="1" />
<path d="M503.9 505.6 L502.5 504.6 L501.8 503.4 L501.9 502.1 L502.7 500.9 L504.3 499.9 L506.4 499.2 L508.7 498.9 L511.1 499 L513.3 499.5 L515 500.4 L516.1 501.5 L516.4 502.8 L515.9 504.1 L514.7 505.2 L512.8 506 L510.6 506.5 L508.2 506.6 L505.8 506.3 L503.9 505.6Z" fill="#fff" stroke="#000" stroke-width="0.9" />
<path d="M503.5 495.7 L509 493.9 L514.6 495.5 L514.6 498.9 L514.6 503.6 L509.1 505.4 L503.5 503.8 L503.5 500.4Z" fill="#fff" stroke="#000" stroke-width="1" />
<path d="M503.5 499.1 L503.5 495.7 L509 493.9 L514.6 495.5 L514.6 498.9 L509.1 500.6Z" fill="#fff" stroke="#000" stroke-width="1" />
<path d="M503.5 499.1 L503.5 503.8" fill="none" stroke="#000" stroke-width="0.8" />
<path d="M503.5 495.7 L503.5 500.4" fill="none" stroke="#000" stroke-width="0.8" />
<path d="M509 493.9 L509 498.6" fill="none" stroke="#000" stroke-width="0.8" />
<path d="M514.6 495.5 L514.6 500.2" fill="none" stroke="#000" stroke-width="0.8" />
<path d="M514.6 498.9 L514.6 503.6" fill="none" stroke="#000" stroke-width="0.8" />
<path d="M509.1 500.6 L509.1 505.3" fill="none" stroke="#000" stroke-width="0.8" />
<path d="M503.5 499.1 L503.5 495.7 L509 493.9 L514.6 495.5 L514.6 498.9 L509.1 500.6Z" fill="#fff" stroke="#000" stroke-width="1" />
<path d="M552.5 531.8 L551.1 530.8 L550.4 529.6 L550.5 528.3 L551.4 527.1 L552.9 526.1 L555 525.4 L557.4 525.1 L559.8 525.2 L561.9 525.8 L563.7 526.6 L564.7 527.8 L565 529 L564.5 530.3 L563.3 531.4 L561.5 532.3 L559.2 532.8 L556.8 532.9 L554.5 532.5 L552.5 531.8Z" fill="#fff" stroke="#000" stroke-width="0.9" />
<path d="M552.1 521.9 L557.7 520.1 L563.2 521.7 L563.2 525.1 L563.2 529.8 L557.7 531.6 L552.2 530 L552.1 526.6Z" fill="#fff" stroke="#000" stroke-width="1" />
<path d="M552.2 525.3 L552.1 521.9 L557.7 520.1 L563.2 521.7 L563.2 525.1 L557.7 526.9Z" fill="#fff" stroke="#000" stroke-width="1" />
<path d="M552.2 525.3 L552.2 530" fill="none" stroke="#000" stroke-width="0.8" />
<path d="M552.1 521.9 L552.1 526.6" fill="none" stroke="#000" stroke-width="0.8" />
<path d="M557.7 520.1 L557.7 524.8" fill="none" stroke="#000" stroke-width="0.8" />
<path d="M563.2 521.7 L563.2 526.4" fill="none" stroke="#000" stroke-width="0.8" />
<path d="M563.2 525.1 L563.2 529.8" fill="none" stroke="#000" stroke-width="0.8" />
<path d="M557.7 526.9 L557.7 531.6" fill="none" stroke="#000" stroke-width="0.8" />
<path d="M552.2 525.3 L552.1 521.9 L557.7 520.1 L563.2 521.7 L563.2 525.1 L557.7 526.9Z" fill="#fff" stroke="#000" stroke-width="1" />
<path d="M603.8 479.7 L578.3 493.7 L556.6 482.7 L582.1 468.7Z" fill="#fff" stroke="#000" stroke-width="1.1" />
<path d="M603.8 479.7 L578.3 493.7 L578.3 500.7 L603.8 486.7Z" fill="#fff" stroke="#000" stroke-width="1.1" />
<path d="M578.3 493.7 L556.6 482.7 L556.6 489.7 L578.3 500.7Z" fill="#fff" stroke="#000" stroke-width="1.1" />
<path d="M597 458.1 L576 469.7 L560.9 462 L581.9 450.5Z" fill="#fff" stroke="#000" stroke-width="1.1" />
<path d="M597 458.1 L576 469.7 L576 493.7 L597 482.1Z" fill="#fff" stroke="#000" stroke-width="1.1" />
<path d="M576 469.7 L560.9 462 L560.9 486 L576 493.7Z" fill="#fff" stroke="#000" stroke-width="1.1" />
<path d="M562.4 466.2 L573.6 471.8 L573.6 490.1 L562.4 484.4" fill="none" stroke="#000" stroke-width="1.1" />
<path d="M565.4 471.5 L573.6 475.7" fill="none" stroke="#000" stroke-width="1" />
<path d="M565.4 471.5 L565.4 482.1 L573.6 486.2" fill="none" stroke="#000" stroke-width="1" />
<path d="M566.6 474.6 L570.9 479.6 L566.6 480.3Z" fill="#000" stroke="#000" stroke-width="0.7" />
<path d="M562.4 466.2 L562.4 475.3" fill="none" stroke="#000" stroke-width="2.1" />
<path d="M563.9 487.6 L567.7 487.6 L569.2 489.8" fill="none" stroke="#000" stroke-width="1.4" />
<path d="M570.1 458.6 L570.2 458 L570.5 457.5 L570.9 457 L571.5 456.5 L572.2 456.1 L573 455.8 L573.9 455.5 L574.8 455.3 L575.8 455.2 L576.9 455.1 L577.9 455.2 L578.9 455.3 L579.8 455.6 L580.6 455.9 L581.4 456.2 L582 456.6 L582.4 457.1 L582.7 457.6 L582.9 458.2 L582.9 459.7 L582.9 460.2 L582.7 460.8 L582.3 461.3 L581.8 461.8 L581.2 462.2 L580.5 462.6 L579.6 462.9 L578.7 463.1 L577.7 463.3 L576.6 463.4 L575.6 463.4 L574.6 463.3 L573.7 463.1 L572.8 462.8 L572 462.5 L571.3 462.1 L570.8 461.6 L570.4 461.1 L570.2 460.6 L570.1 460.1Z" fill="#fff" stroke="#000" stroke-width="1.1" />
<path d="M572 461 L571.3 460.6 L570.8 460.1 L570.4 459.6 L570.2 459.1 L570.1 458.6 L570.2 458 L570.5 457.5 L570.9 457 L571.5 456.5 L572.2 456.1 L573 455.8 L573.9 455.5 L574.8 455.3 L575.8 455.2 L576.9 455.1 L577.9 455.2 L578.9 455.3 L579.8 455.5 L580.6 455.8 L581.4 456.2 L582 456.6 L582.4 457.1 L582.7 457.6 L582.9 458.2 L582.9 458.7 L582.7 459.3 L582.3 459.8 L581.8 460.3 L581.2 460.7 L580.5 461.1 L579.6 461.4 L578.7 461.6 L577.7 461.8 L576.6 461.9 L575.6 461.9 L574.6 461.8 L573.7 461.6 L572.8 461.3 L572 461Z" fill="#fff" stroke="#000" stroke-width="1.1" />
<path d="M572.6 456.4 L576.1 455.1 L580 455.9 L580.4 458.2 L580.4 459.7 L576.9 461 L573 460.2 L572.6 457.9Z" fill="#fff" stroke="#000" stroke-width="1" />
<path d="M573 458.7 L573 460.2" fill="none" stroke="#000" stroke-width="0.8" />
<path d="M572.6 456.4 L572.6 457.9" fill="none" stroke="#000" stroke-width="0.8" />
<path d="M576.1 455.1 L576.1 456.6" fill="none" stroke="#000" stroke-width="0.8" />
<path d="M580 455.9 L580 457.4" fill="none" stroke="#000" stroke-width="0.8" />
<path d="M580.4 458.2 L580.4 459.7" fill="none" stroke="#000" stroke-width="0.8" />
<path d="M576.9 459.5 L576.9 461" fill="none" stroke="#000" stroke-width="0.8" />
<path d="M573 458.7 L572.6 456.4 L576.1 455.1 L580 455.9 L580.4 458.2 L576.9 459.5Z" fill="#fff" stroke="#000" stroke-width="1" />
<path d="M574.8 458.2 L574.2 457.6 L574.3 456.9 L575.1 456.3 L576.3 456.1 L577.6 456.2 L578.6 456.7 L578.8 457.3 L578.4 458 L577.3 458.4 L576 458.5 L574.8 458.2Z" fill="#fff" stroke="#000" stroke-width="0.8" />
<path d="M457.3 549 L456 547.4 L455.7 545.8 L456 544.3 L456.7 542.9 L457.4 541.4 L458 540 L458.4 538.6 L458.9 537.2 L459.4 535.8 L460.1 534.5 L460.9 533.2 L462 532 L463.3 530.8 L464.7 529.7 L466.4 528.7 L468.1 527.7 L470 526.8 L472 526 L474.2 525.2 L476.6 524.5 L479.1 523.8 L481.6 523.3 L484 523 L486 523 L487.4 523.1 L488.3 523.4 L488.9 523.8 L489.9 524.6 L491.4 525.8 L494 527.5 L498.1 530 L503.4 533.1 L509.3 536.7 L515.3 540.4 L520.7 543.9 L525 547 L528 549.7 L530.1 552.2 L531.7 554.6 L533 556.8 L534.4 558.8 L536 560.5 L538 561.9 L540 562.9 L542.1 563.7 L544.1 564.4 L545.9 565.2 L547.6 566.3 L549.1 567.6 L550.6 568.9 L551.9 570.4 L553 571.9 L553.8 573.6 L554.4 575.4 L554.6 577.5 L554.6 579.8 L554.2 582.2 L553.7 584.7 L553 587 L552.1 589.1 L551 590.9 L549.7 592.7 L548.3 594.3 L546.6 595.7 L544.9 597.1 L543 598.3 L541 599.4 L538.8 600.4 L536.4 601.3 L534 602 L531.6 602.6 L529.3 602.9 L527 603 L524.6 602.8 L522.2 602.5 L519.8 602 L517.6 601.3 L515.6 600.6 L513.7 599.7 L512 598.6 L510.4 597.4 L508.9 596.2 L507.5 594.9 L506.4 593.7 L505.7 592.8 L505.6 592.2 L505.6 591.6 L505.4 590.7 L504.6 589.3 L503 587 L500.3 583.5 L496.8 578.9 L492.7 573.8 L488.4 568.6 L484 563.8 L480 560 L475.9 557.2 L471.5 555.1 L467.2 553.4 L463.1 551.9 L459.7 550.5Z" fill="#fff" stroke="#000" stroke-width="1.1" />
<path d="M490.4 530.9 L522.4 549.1" fill="none" stroke="#000" stroke-width="0.9" />
<path d="M474.4 553.7 L474.5 553.1 L474.7 552.2 L474.9 551.1 L475.1 550 L475.4 548.8 L475.7 547.6 L476.2 546.6 L476.7 545.7 L477.3 544.9 L478.1 544.2 L479 543.5 L479.9 542.8 L480.8 542.3 L481.8 541.8 L482.7 541.4 L483.6 541.1 L484.5 541 L485.4 540.9 L486.3 541 L487.2 541.2 L488.1 541.4 L488.9 541.7 L489.7 542 L490.4 542.3 L491 542.7 L491.6 543.1 L492.1 543.7 L492.6 544.2 L493.1 544.8 L493.4 545.3 L493.7 545.7 L494 546" fill="none" stroke="#000" stroke-width="1.1" />
<path d="M479 556 L479.1 555.4 L479.3 554.7 L479.5 553.7 L479.7 552.7 L479.9 551.7 L480.2 550.7 L480.6 549.8 L481 549 L481.5 548.4 L482 547.8 L482.7 547.2 L483.3 546.7 L484 546.3 L484.7 545.9 L485.4 545.7 L486 545.5 L486.7 545.5 L487.4 545.6 L488.1 545.8 L488.8 546 L489.5 546.3 L490.1 546.6 L490.6 546.9 L491 547" fill="none" stroke="#000" stroke-width="0.9" />
<path d="M538.4 566.3 L539.1 566.8 L540 567.5 L541.1 568.2 L542.3 569.1 L543.5 570.1 L544.7 571.1 L545.7 572.1 L546.4 573.1 L546.9 574.1 L547.3 575.2 L547.6 576.4 L547.8 577.6 L547.9 578.8 L547.9 580 L547.8 581.1 L547.6 582.3 L547.3 583.5 L547 584.7 L546.5 585.9 L545.9 587.1 L545.3 588.3 L544.6 589.4 L543.8 590.5 L543 591.4 L542.1 592.2 L541.1 593 L540 593.7 L538.9 594.3 L537.7 594.9 L536.4 595.4 L535.2 595.7 L533.9 596 L532.5 596.1 L530.9 596.1 L529.3 596 L527.6 595.7 L526 595.5 L524.5 595.2 L523.3 595 L522.4 594.9" fill="none" stroke="#000" stroke-width="1" />
<path d="M503 531 L525 545 L540 560 L548 556 L548 540 L520 528Z" fill="#fff" stroke="none" stroke-width="0" />
<path d="M505 531.5 L526 545.5 L535 556" fill="none" stroke="#000" stroke-width="1" />
<path d="M512 531 L532 544 L541 553" fill="none" stroke="#000" stroke-width="1" />
<path d="M521 532 L540 544 L547 552" fill="none" stroke="#000" stroke-width="0.9" />
<path d="M515.6 553.7 L524.7 546.9 L531.6 558.3 L535 565.1 L529.3 577.7 L520.1 582.3 L512 584 L508 570Z" fill="#fff" stroke="#000" stroke-width="1.1" />
<path d="M515.6 553.7 L519 566 L520.1 582.3" fill="none" stroke="#000" stroke-width="1" />
<path d="M519 566 L531.6 558.3" fill="none" stroke="#000" stroke-width="1" />
<path d="M524 585 L529 590 L536 587" fill="none" stroke="#000" stroke-width="0.9" />
<path d="M512 584 L516 592 L522.4 594.9" fill="none" stroke="#000" stroke-width="0.9" />
<path d="M423 585.7 L483.6 553.7 L484.7 553.1 L486.3 552.1 L488.2 551 L490.2 550 L492.2 549.1 L494 548.5 L495.7 548.2 L497.5 548.1 L499.2 548.2 L500.9 548.5 L502.5 548.9 L504 549.5 L505.4 550.3 L506.7 551.4 L508 552.7 L509.1 554.1 L510.1 555.5 L511 557 L511.7 558.5 L512.3 560.1 L512.8 561.8 L513.1 563.5 L513.3 565.2 L513.4 567 L513.3 568.8 L513.1 570.7 L512.8 572.6 L512.3 574.5 L511.7 576.3 L511 578 L510 579.6 L508.8 581.1 L507.4 582.5 L506.1 583.8 L504.9 584.9 L504.1 585.7 L441.3 615.4 L440.4 614 L439.1 612.1 L437.5 609.8 L435.9 607.3 L434.3 605 L433 603 L431.8 601.3 L430.8 599.7 L429.7 598.2 L428.8 596.8 L427.9 595.4 L427 594 L426.2 592.5 L425.4 590.9 L424.6 589.3 L424 587.8 L423.4 586.6 L423 585.7Z" fill="#fff" stroke="#000" stroke-width="1.1" />
<path d="M496 549 L496.5 549.5 L497.2 550.2 L498 550.9 L498.8 551.8 L499.7 552.8 L500.6 553.8 L501.4 554.9 L502 556 L502.5 557.2 L503 558.4 L503.4 559.8 L503.8 561.2 L504.1 562.6 L504.3 564.1 L504.5 565.5 L504.5 567 L504.4 568.5 L504.3 570 L504 571.5 L503.7 573.1 L503.3 574.6 L502.9 576.2 L502.5 577.6 L502 579 L501.5 580.4 L500.8 581.8 L500.1 583.2 L499.3 584.5 L498.6 585.7 L498 586.9 L497.4 587.8 L497 588.5" fill="none" stroke="#000" stroke-width="0.9" />
<path d="M633.7 509.2 L659 515.3 L655.9 519.3 L656.7 520.9 L657.7 523.1 L659 525.7 L660.3 528.6 L661.7 531.7 L663 534.8 L664.1 537.7 L665 540.5 L665.6 543.1 L666.2 545.6 L666.6 548.2 L666.9 550.7 L667.1 553.2 L667.2 555.8 L667.1 558.3 L667 560.8 L666.8 563.4 L666.4 566 L665.9 568.7 L665.3 571.3 L664.6 573.9 L663.8 576.4 L663 578.8 L662 581 L660.9 583.1 L659.6 585.2 L658.2 587.2 L656.8 589.1 L655.3 590.8 L653.7 592.4 L652.3 593.9 L650.9 595.1 L649.5 596.1 L648.1 596.9 L646.6 597.6 L645.2 598 L643.8 598.4 L642.6 598.7 L641.6 599 L640.8 599.2 L640.8 599.2 L641.1 598.5 L641.5 597.6 L642 596.5 L642.5 595.3 L643.1 593.9 L643.7 592.4 L644.3 590.8 L644.8 589.1 L645.4 587.2 L646 585.2 L646.6 583 L647.2 580.6 L647.8 578.2 L648.3 575.8 L648.7 573.3 L648.9 570.9 L649 568.5 L648.9 566 L648.8 563.5 L648.5 560.9 L648.2 558.4 L647.8 555.8 L647.3 553.2 L646.8 550.7 L646.1 548 L645.2 545.2 L644.2 542.2 L643.2 539.3 L642.1 536.5 L641.2 534.1 L640.4 532 L639.8 530.4 L631.7 533.5Z" fill="#fff" stroke="#000" stroke-width="1.1" />
<path d="M600.3 583 L601.1 583.8 L602 584.9 L603.2 586.2 L604.5 587.7 L605.9 589.2 L607.3 590.6 L608.9 592 L610.4 593.1 L612 594.1 L613.6 595 L615.3 595.9 L617.1 596.8 L618.9 597.5 L620.8 598.2 L622.7 598.8 L624.6 599.2 L626.6 599.5 L628.9 599.6 L631.2 599.6 L633.6 599.6 L635.8 599.5 L637.8 599.3 L639.5 599.2 L640.8 599.2 L640.8 599.2 L640.5 599.5 L640.2 599.9 L639.8 600.4 L639.4 600.9 L638.9 601.4 L638.2 602 L637.5 602.6 L636.7 603.2 L635.8 603.8 L634.7 604.5 L633.6 605.2 L632.4 605.9 L631.1 606.6 L629.7 607.3 L628.2 607.9 L626.6 608.3 L624.9 608.7 L622.9 609 L620.9 609.2 L618.8 609.4 L616.6 609.5 L614.4 609.5 L612.4 609.4 L610.4 609.3 L608.5 609.1 L606.7 608.8 L604.8 608.4 L603 607.9 L601.3 607.3 L599.6 606.7 L597.9 606 L596.3 605.2 L594.7 604.2 L593.1 603.1 L591.4 601.8 L589.9 600.4 L588.4 599.1 L587.1 597.9 L586 596.8 L585.2 596.1 L598.3 594.7Z" fill="#fff" stroke="#000" stroke-width="1.1" />
<path d="M616.3 346.8 L621 353.8 L616.3 358.4 L610.5 366 L602.3 372.4 L594.8 376.5 L593 377.7 L556 341Z" fill="#fff" stroke="none" stroke-width="0" />
<path d="M616.3 346.8 L617.1 347.8 L618.3 349.2 L619.6 350.8 L620.6 352.4 L621 353.8 L620.7 354.8 L619.8 355.7 L618.7 356.5 L617.5 357.3 L616.3 358.4 L615.2 359.7 L614.2 361.3 L613 362.9 L611.8 364.5 L610.5 366 L609 367.4 L607.4 368.8 L605.6 370.1 L603.9 371.3 L602.3 372.4 L600.7 373.4 L599 374.3 L597.4 375.2 L595.9 375.9 L594.8 376.5 L594 376.9 L593.6 377.2 L593.3 377.4 L593.2 377.6 L593 377.7" fill="none" stroke="#000" stroke-width="1.1" />
<path d="M599.4 362.5 L594.2 377.1" fill="none" stroke="#000" stroke-width="1" />
<path d="M608 356 L613 358.5 L610.5 361.5" fill="none" stroke="#000" stroke-width="1" />
<path d="M533.5 374.5 L534.2 375.2 L535 376.1 L536.1 377.2 L537.2 378.4 L538.5 379.6 L539.7 380.8 L540.9 382 L542 383 L543 383.9 L543.9 384.8 L544.8 385.6 L545.8 386.4 L546.7 387.2 L547.7 387.9 L548.8 388.6 L550 389.3 L551.3 390 L552.6 390.8 L554.1 391.6 L555.5 392.3 L557.1 393 L558.8 393.5 L560.5 393.9 L562.4 394 L564.5 393.9 L566.7 393.7 L569.1 393.3 L571.6 392.8 L574.1 392.2 L576.5 391.3 L578.9 390.4 L581 389.3 L583 388 L585 386.5 L586.9 384.8 L588.8 383 L590.5 381.1 L592.2 379.1 L593.7 377.2 L595 375.3 L596.2 373.4 L597.2 371.4 L598.1 369.3 L598.9 367.3 L599.6 365.2 L600.2 363.3 L600.7 361.4 L601.2 359.7 L601.6 358.1 L601.9 356.5 L602.1 355 L602.2 353.6 L602.3 352.3 L602.4 351.2 L602.4 350.2 L602.5 349.5 L556 333Z" fill="#fff" stroke="none" stroke-width="0" />
<path d="M533.5 374.5 L534.2 375.2 L535 376.1 L536.1 377.2 L537.2 378.4 L538.5 379.6 L539.7 380.8 L540.9 382 L542 383 L543 383.9 L543.9 384.8 L544.8 385.6 L545.8 386.4 L546.7 387.2 L547.7 387.9 L548.8 388.6 L550 389.3 L551.3 390 L552.6 390.8 L554.1 391.6 L555.5 392.3 L557.1 393 L558.8 393.5 L560.5 393.9 L562.4 394 L564.5 393.9 L566.7 393.7 L569.1 393.3 L571.6 392.8 L574.1 392.2 L576.5 391.3 L578.9 390.4 L581 389.3 L583 388 L585 386.5 L586.9 384.8 L588.8 383 L590.5 381.1 L592.2 379.1 L593.7 377.2 L595 375.3 L596.2 373.4 L597.2 371.4 L598.1 369.3 L598.9 367.3 L599.6 365.2 L600.2 363.3 L600.7 361.4 L601.2 359.7 L601.6 358.1 L601.9 356.5 L602.1 355 L602.2 353.6 L602.3 352.3 L602.4 351.2 L602.4 350.2 L602.5 349.5" fill="none" stroke="#000" stroke-width="1.1" />
<path d="M568.5 382 L575.5 379.4 L575.5 382.6 L568.5 385.2Z" fill="#fff" stroke="#000" stroke-width="1" />
<path d="M615.9 332.6 L556.6 367.3 L496 333.4 L555.3 298.7Z" fill="#fff" stroke="#000" stroke-width="1.1" />
<path d="M615.9 332.6 L556.6 367.3 L556.6 384.3 L615.9 349.6Z" fill="#fff" stroke="#000" stroke-width="1.1" />
<path d="M556.6 367.3 L496 333.4 L496 350.4 L556.6 384.3Z" fill="#fff" stroke="#000" stroke-width="1.1" />
<path d="M615.9 341.1 L556.6 375.8 L496 341.9" fill="none" stroke="#000" stroke-width="1" />
<path d="M550.3 309.2 L548.9 308.1 L548.2 306.8 L548.3 305.4 L549.1 304.1 L550.7 303.1 L552.7 302.4 L555.1 302.1 L557.5 302.2 L559.6 302.8 L561.3 303.8 L562.4 305 L562.8 306.4 L562.3 307.7 L561.1 308.9 L559.3 309.8 L557 310.3 L554.6 310.4 L552.3 310 L550.3 309.2Z" fill="#fff" stroke="#000" stroke-width="0.9" />
<path d="M549.9 299 L555.4 297.1 L560.9 298.9 L561 302.5 L561 307.2 L555.5 309.1 L550 307.3 L549.9 303.7Z" fill="#fff" stroke="#000" stroke-width="1" />
<path d="M550 302.6 L549.9 299 L555.4 297.1 L560.9 298.9 L561 302.5 L555.5 304.4Z" fill="#fff" stroke="#000" stroke-width="1" />
<path d="M550 302.6 L550 307.3" fill="none" stroke="#000" stroke-width="0.8" />
<path d="M549.9 299 L549.9 303.7" fill="none" stroke="#000" stroke-width="0.8" />
<path d="M555.4 297.1 L555.4 301.8" fill="none" stroke="#000" stroke-width="0.8" />
<path d="M560.9 298.9 L560.9 303.6" fill="none" stroke="#000" stroke-width="0.8" />
<path d="M561 302.5 L561 307.2" fill="none" stroke="#000" stroke-width="0.8" />
<path d="M555.5 304.4 L555.5 309.1" fill="none" stroke="#000" stroke-width="0.8" />
<path d="M550 302.6 L549.9 299 L555.4 297.1 L560.9 298.9 L561 302.5 L555.5 304.4Z" fill="#fff" stroke="#000" stroke-width="1" />
<path d="M517.8 331.3 L518.2 328.4 L519.2 325.5 L520.9 322.8 L523.2 320.2 L526.1 317.8 L529.6 315.6 L533.1 313.8 L536.5 312.2 L540.2 310.9 L544.2 309.8 L548.5 309.1 L552.8 308.7 L557.2 308.6 L561.6 308.9 L565.9 309.5 L570 310.4 L573.9 311.6 L577.5 313.1 L580.8 314.8 L584.4 316.8 L587.5 319.1 L590.1 321.6 L592.1 324.3 L593.4 327.2 L594 330.1 L594 333 L593.3 335.9 L591.9 338.7 L589.9 341.3 L587.3 343.9 L584.1 346.1 L580.4 348.1 L576.3 349.9 L571.8 351.2 L567 352.3 L562.1 352.9 L557 353.2 L551.9 353.1 L546.9 352.6 L542 351.7 L537.4 350.5 L533.1 348.9 L529.3 347 L525.9 344.8 L523 342.4 L520.7 339.8 L519.1 337.1 L518.1 334.2Z" fill="#fff" stroke="#000" stroke-width="1.1" />
<path d="M581 315.2 L583.6 317.1 L585.7 319.3 L587.3 321.5 L588.4 323.9 L589 326.3 L588.9 328.8 L588.4 331.2 L587.3 333.6 L585.6 335.8 L583.5 338 L580.9 339.9 L577.9 341.7 L574.5 343.2 L570.8 344.4 L566.8 345.4 L562.7 346 L558.4 346.4 L554.2 346.4 L549.9 346.1 L545.8 345.5 L541.8 344.6 L538 343.4 L534.6 342 L531.5 340.3 L528.8 338.3 L526.6 336.2 L524.9 334 L523.7 331.6 L523 329.2 L522.9 326.8 L523.4 324.3 L524.3 322 L525.9 319.7 L527.9 317.5 L530.4 315.5" fill="none" stroke="#000" stroke-width="1" />
<path d="M597.9 336.9 L596.5 335.8 L595.8 334.5 L595.9 333.1 L596.7 331.8 L598.2 330.7 L600.3 330 L602.7 329.7 L605 329.9 L607.2 330.5 L608.9 331.4 L610 332.6 L610.3 334 L609.9 335.4 L608.7 336.6 L606.8 337.5 L604.6 338 L602.2 338 L599.9 337.7 L597.9 336.9Z" fill="#fff" stroke="#000" stroke-width="0.9" />
<path d="M597.5 326.6 L603 324.8 L608.5 326.5 L608.6 330.2 L608.6 334.9 L603.1 336.7 L597.6 334.9 L597.5 331.3Z" fill="#fff" stroke="#000" stroke-width="1" />
<path d="M597.6 330.2 L597.5 326.6 L603 324.7 L608.5 326.5 L608.6 330.2 L603.1 332Z" fill="#fff" stroke="#000" stroke-width="1" />
<path d="M597.6 330.2 L597.6 334.9" fill="none" stroke="#000" stroke-width="0.8" />
<path d="M597.5 326.6 L597.5 331.3" fill="none" stroke="#000" stroke-width="0.8" />
<path d="M603 324.7 L603 329.4" fill="none" stroke="#000" stroke-width="0.8" />
<path d="M608.5 326.5 L608.5 331.2" fill="none" stroke="#000" stroke-width="0.8" />
<path d="M608.6 330.2 L608.6 334.9" fill="none" stroke="#000" stroke-width="0.8" />
<path d="M603.1 332 L603.1 336.7" fill="none" stroke="#000" stroke-width="0.8" />
<path d="M597.6 330.2 L597.5 326.6 L603 324.7 L608.5 326.5 L608.6 330.2 L603.1 332Z" fill="#fff" stroke="#000" stroke-width="1" />
<path d="M505 336.5 L503.6 335.4 L502.8 334 L502.9 332.7 L503.8 331.4 L505.3 330.3 L507.4 329.6 L509.7 329.3 L512.1 329.5 L514.3 330 L516 331 L517.1 332.2 L517.4 333.6 L516.9 335 L515.7 336.1 L513.9 337 L511.7 337.6 L509.3 337.6 L507 337.3 L505 336.5Z" fill="#fff" stroke="#000" stroke-width="0.9" />
<path d="M504.6 326.2 L510 324.3 L515.6 326.1 L515.6 329.8 L515.6 334.5 L510.2 336.3 L504.6 334.5 L504.6 330.9Z" fill="#fff" stroke="#000" stroke-width="1" />
<path d="M504.6 329.8 L504.6 326.2 L510 324.3 L515.6 326.1 L515.6 329.8 L510.2 331.6Z" fill="#fff" stroke="#000" stroke-width="1" />
<path d="M504.6 329.8 L504.6 334.5" fill="none" stroke="#000" stroke-width="0.8" />
<path d="M504.6 326.2 L504.6 330.9" fill="none" stroke="#000" stroke-width="0.8" />
<path d="M510 324.3 L510 329" fill="none" stroke="#000" stroke-width="0.8" />
<path d="M515.6 326.1 L515.6 330.8" fill="none" stroke="#000" stroke-width="0.8" />
<path d="M515.6 329.8 L515.6 334.5" fill="none" stroke="#000" stroke-width="0.8" />
<path d="M510.2 331.6 L510.2 336.3" fill="none" stroke="#000" stroke-width="0.8" />
<path d="M504.6 329.8 L504.6 326.2 L510 324.3 L515.6 326.1 L515.6 329.8 L510.2 331.6Z" fill="#fff" stroke="#000" stroke-width="1" />
<path d="M553.8 365.5 L552.4 364.4 L551.7 363 L551.7 361.7 L552.6 360.4 L554.1 359.3 L556.2 358.6 L558.5 358.3 L560.9 358.5 L563.1 359 L564.8 360 L565.9 361.2 L566.2 362.6 L565.7 364 L564.5 365.1 L562.7 366.1 L560.5 366.6 L558.1 366.6 L555.8 366.3 L553.8 365.5Z" fill="#fff" stroke="#000" stroke-width="0.9" />
<path d="M553.4 355.2 L558.8 353.3 L564.4 355.1 L564.5 358.8 L564.5 363.5 L559 365.3 L553.4 363.5 L553.4 359.9Z" fill="#fff" stroke="#000" stroke-width="1" />
<path d="M553.4 358.8 L553.4 355.2 L558.8 353.3 L564.4 355.1 L564.4 358.8 L559 360.6Z" fill="#fff" stroke="#000" stroke-width="1" />
<path d="M553.4 358.8 L553.4 363.5" fill="none" stroke="#000" stroke-width="0.8" />
<path d="M553.4 355.2 L553.4 359.9" fill="none" stroke="#000" stroke-width="0.8" />
<path d="M558.8 353.3 L558.8 358" fill="none" stroke="#000" stroke-width="0.8" />
<path d="M564.4 355.1 L564.4 359.8" fill="none" stroke="#000" stroke-width="0.8" />
<path d="M564.4 358.8 L564.4 363.5" fill="none" stroke="#000" stroke-width="0.8" />
<path d="M559 360.6 L559 365.3" fill="none" stroke="#000" stroke-width="0.8" />
<path d="M553.4 358.8 L553.4 355.2 L558.8 353.3 L564.4 355.1 L564.4 358.8 L559 360.6Z" fill="#fff" stroke="#000" stroke-width="1" />
<path d="M596.8 316 L580.5 325.5 L558.7 313.3 L575 303.8Z" fill="#fff" stroke="#000" stroke-width="1.1" />
<path d="M596.8 316 L580.5 325.5 L580.5 332.5 L596.8 323Z" fill="#fff" stroke="#000" stroke-width="1.1" />
<path d="M580.5 325.5 L558.7 313.3 L558.7 320.3 L580.5 332.5Z" fill="#fff" stroke="#000" stroke-width="1.1" />
<path d="M440.9 342.9 L470.5 358.5 L459.1 373.7 L429.4 356.6Z" fill="#fff" stroke="none" stroke-width="0" />
<path d="M470.5 358.5 L440.9 342.9" fill="none" stroke="#000" stroke-width="1.1" />
<path d="M440.9 342.9 L440.6 343.5 L440.2 344.3 L439.7 345.3 L439.1 346.3 L438.5 347.4 L437.9 348.5 L437.2 349.6 L436.5 350.5 L435.7 351.4 L434.7 352.3 L433.7 353.2 L432.7 354 L431.7 354.8 L430.7 355.5 L430 356.1 L429.4 356.6" fill="none" stroke="#000" stroke-width="1.1" />
<path d="M429.4 356.6 L459.1 373.7" fill="none" stroke="#000" stroke-width="1.1" />
<path d="M458 386.3 L456.5 384.3 L455.7 382.3 L455.6 380.5 L455.8 378.6 L456.3 376.8 L456.9 374.9 L457.6 372.9 L458.7 370.9 L460 368.9 L461.5 366.9 L463.1 365 L464.9 363.4 L466.9 361.9 L469.2 360.6 L471.6 359.4 L474.1 358.3 L476.4 357.4 L478.6 356.6 L480.5 356 L482.4 355.5 L484.1 355.1 L485.8 355 L487.4 355.1 L488.9 355.4 L490.4 356.1 L491.8 357 L493.2 358.2 L494.5 359.6 L495.8 361 L496.9 362.3 L497.9 363.6 L498.6 365 L499.3 366.4 L500 367.9 L500.8 369.4 L502 371 L503.6 372.6 L505.5 374.3 L507.6 376.1 L509.6 377.9 L511.5 379.7 L512.9 381.7 L514 383.7 L514.9 385.9 L515.6 388.1 L516.1 390.3 L516.2 392.7 L516 395 L515.3 397.5 L514.2 400.1 L512.8 402.7 L511.2 405.3 L509.6 407.8 L508 410 L506.5 412.3 L505.1 414.8 L503.6 417.2 L502 419.1 L500.2 420.1 L498 420 L495.5 418.3 L492.7 415.3 L489.8 411.5 L486.6 407.3 L483.3 403.3 L480 400 L476.3 397.3 L472.2 394.9 L467.9 392.6 L463.9 390.5 L460.5 388.4Z" fill="#fff" stroke="#000" stroke-width="1.1" />
<path d="M475.1 385.1 L475.3 384.5 L475.4 383.6 L475.6 382.6 L475.9 381.5 L476.2 380.3 L476.5 379.1 L476.9 378 L477.4 377.1 L477.9 376.2 L478.6 375.4 L479.2 374.5 L480 373.8 L480.7 373 L481.5 372.4 L482.3 371.8 L483.1 371.4 L483.9 371.1 L484.8 370.9 L485.7 370.8 L486.6 370.8 L487.5 370.8 L488.4 370.9 L489.2 371.1 L490 371.4 L490.8 371.8 L491.5 372.3 L492.2 373 L492.9 373.7 L493.6 374.4 L494.1 375.1 L494.6 375.6 L495 376" fill="none" stroke="#000" stroke-width="1.1" />
<path d="M480 388 L480.1 387.4 L480.3 386.6 L480.5 385.6 L480.7 384.5 L481 383.4 L481.3 382.3 L481.6 381.3 L482 380.5 L482.4 379.8 L482.9 379 L483.5 378.4 L484 377.7 L484.6 377.2 L485.2 376.7 L485.9 376.3 L486.5 376 L487.2 375.9 L487.9 375.9 L488.7 376 L489.5 376.2 L490.3 376.5 L491 376.7 L491.6 376.9 L492 377" fill="none" stroke="#000" stroke-width="0.9" />
<path d="M489 359 L505 377" fill="none" stroke="#000" stroke-width="0.9" />
<path d="M512 384 L521 379 L531 398 L527 408 L517 413 L510 400Z" fill="#fff" stroke="#000" stroke-width="1" />
<path d="M521 379 L522 395 L517 413" fill="none" stroke="#000" stroke-width="0.8" />
<path d="M520 380.5 L529 375.5 L539 394.5 L535 404.5 L525 409.5 L518 396.5Z" fill="#fff" stroke="#000" stroke-width="1" />
<path d="M529 375.5 L530 391.5 L525 409.5" fill="none" stroke="#000" stroke-width="0.8" />
<path d="M528 377 L537 372 L547 391 L543 401 L533 406 L526 393Z" fill="#fff" stroke="#000" stroke-width="1" />
<path d="M537 372 L538 388 L533 406" fill="none" stroke="#000" stroke-width="0.8" />
<path d="M536 373.5 L545 368.5 L555 387.5 L551 397.5 L541 402.5 L534 389.5Z" fill="#fff" stroke="#000" stroke-width="1" />
<path d="M545 368.5 L546 384.5 L541 402.5" fill="none" stroke="#000" stroke-width="0.8" />
<path d="M503 414 L508 420 L522 415 L530 409" fill="none" stroke="#000" stroke-width="1" />
<path d="M508 420 L512 426 L527 420 L545 404" fill="none" stroke="#000" stroke-width="1" />
<path d="M422.6 418.3 L485.4 386.3 L486.7 385.8 L488.4 385.2 L490.5 384.4 L492.7 383.6 L494.9 382.9 L497 382.5 L499 382.2 L501 382 L503.1 381.9 L505 382 L506.8 382.4 L508.3 383 L509.6 384 L510.7 385.3 L511.6 386.8 L512.4 388.5 L513 390.2 L513.5 392 L513.8 393.9 L513.9 395.9 L513.9 398 L513.7 400.1 L513.4 402.1 L513 404 L512.4 405.7 L511.7 407.3 L510.9 408.8 L510 410.3 L509 411.7 L508 413 L506.9 414.3 L505.7 415.6 L504.4 416.8 L503.2 417.8 L502.1 418.7 L501.4 419.4 L444.3 446.9 L443.1 445.2 L441.5 442.8 L439.6 439.9 L437.6 437 L435.6 434.3 L434 432 L432.6 430.2 L431.3 428.7 L430.1 427.4 L429 426.2 L428 425.1 L427 424 L426.1 422.9 L425.2 421.7 L424.4 420.6 L423.6 419.7 L423 418.9 L422.6 418.3Z" fill="#fff" stroke="#000" stroke-width="1.1" />
<path d="M499 383 L499.5 383.5 L500.2 384.2 L501 384.9 L501.9 385.8 L502.8 386.8 L503.7 387.8 L504.4 388.9 L505 390 L505.4 391.2 L505.8 392.5 L506.1 393.9 L506.3 395.3 L506.4 396.8 L506.5 398.2 L506.5 399.6 L506.5 401 L506.4 402.3 L506.2 403.6 L506 404.8 L505.7 406.1 L505.4 407.3 L505 408.5 L504.5 409.8 L504 411 L503.4 412.3 L502.6 413.7 L501.7 415.2 L500.8 416.6 L500 418 L499.2 419.2 L498.5 420.2 L498 421" fill="none" stroke="#000" stroke-width="0.9" />
<path d="M544.4 301.4 L548.3 298.9 L550.5 293 L552.1 288.6 L557 285.5 L560 281.5 L566 279.5 L570.1 275.7 L577.9 273.1 L584.3 277 L594.6 286 L604.9 297.6 L615.1 302.7 L635.7 307.9 L653.7 313 L643.4 328.4 L628 323.3 L612.6 318.1 L599.7 315.6 L590 320 L575 322 L560 315 L548 306Z" fill="#fff" stroke="none" stroke-width="0" />
<path d="M544.4 301.4 L545 301.1 L545.8 300.7 L546.7 300.3 L547.6 299.7 L548.3 298.9 L548.9 297.9 L549.3 296.7 L549.7 295.4 L550.1 294.1 L550.5 293 L550.8 292 L551 291.1 L551.3 290.2 L551.6 289.4 L552.1 288.6 L552.9 287.9 L553.9 287.3 L555 286.7 L556.1 286.2 L557 285.5 L557.7 284.7 L558.2 283.9 L558.7 283 L559.2 282.2 L560 281.5 L561 281 L562.3 280.6 L563.6 280.3 L564.9 280 L566 279.5 L566.9 278.8 L567.6 278.1 L568.3 277.2 L569.1 276.4 L570.1 275.7 L571.4 275 L573 274.3 L574.7 273.6 L576.4 273.2 L577.9 273.1 L579.2 273.4 L580.4 273.9 L581.5 274.8 L582.8 275.8 L584.3 277 L586.1 278.4 L588.1 280.1 L590.3 282 L592.5 284 L594.6 286 L596.7 288.3 L598.7 290.8 L600.8 293.3 L602.8 295.7 L604.9 297.6 L606.8 299 L608.5 300.1 L610.3 301 L612.4 301.8 L615.1 302.7 L618.6 303.7 L622.7 304.8 L627.1 305.8 L631.6 306.9 L635.7 307.9 L639.8 309 L644 310.2 L647.9 311.3 L651.3 312.3 L653.7 313" fill="none" stroke="#000" stroke-width="1.1" />
<path d="M594.6 318.1 L595.2 317.7 L595.9 317 L596.9 316.4 L598.1 315.8 L599.7 315.6 L601.7 315.7 L604.2 316.1 L606.9 316.7 L609.7 317.3 L612.6 318.1 L615.5 319 L618.6 320 L621.7 321.1 L624.9 322.2 L628 323.3 L631.3 324.4 L634.9 325.6 L638.3 326.7 L641.3 327.7 L643.4 328.4" fill="none" stroke="#000" stroke-width="1.1" />
<path d="M543.5 300.5 L544.1 300.1 L545 299.7 L546.3 299.4 L547.6 299.3 L549 299.5 L550.5 300 L552.1 300.7 L553.8 301.6 L555.5 302.5 L557 303.5 L558.4 304.5 L559.7 305.6 L560.9 306.7 L562 307.9 L563 309 L563.9 310.2 L564.8 311.5 L565.6 312.8 L566 313.8 L566 314.5 L565.4 314.7 L564.4 314.5 L563 314.2 L561.5 313.6 L560 313 L558.3 312.3 L556.4 311.4 L554.5 310.4 L552.6 309.4 L551 308.5 L549.6 307.6 L548.4 306.7 L547.3 305.7 L546.3 304.8 L545.5 304 L544.8 303.2 L544.1 302.4 L543.6 301.7 L543.4 301Z" fill="#fff" stroke="#000" stroke-width="1.3" />
<path d="M565.5 296 L565.8 295.9 L566.3 295.6 L566.9 295.4 L567.5 295.1 L568.1 294.8 L568.8 294.6 L569.4 294.5 L570 294.5 L570.6 294.6 L571.2 294.8 L571.8 295 L572.4 295.3 L573 295.6 L573.5 296 L574 296.5 L574.5 297 L574.9 297.6 L575.4 298.3 L575.8 299 L576.1 299.8 L576.4 300.6 L576.7 301.4 L576.9 302.2 L577 303 L577 303.8 L576.9 304.6 L576.7 305.5 L576.4 306.4 L576.1 307.2 L575.9 307.9 L575.6 308.5 L575.5 309" fill="none" stroke="#000" stroke-width="1.3" />
<path d="M563.5 299.5 L563.8 299.4 L564.1 299.1 L564.6 298.9 L565 298.6 L565.5 298.3 L566 298.1 L566.5 298 L567 298 L567.5 298.1 L567.9 298.3 L568.4 298.5 L568.9 298.8 L569.3 299.2 L569.8 299.6 L570.2 300 L570.5 300.5 L570.8 301 L571.1 301.7 L571.3 302.4 L571.5 303.2 L571.6 303.9 L571.8 304.5 L571.9 305.1 L572 305.5" fill="none" stroke="#000" stroke-width="1.1" />
<path d="M566 301.5 L571 304 L570 309.5 L565.5 307Z" fill="#333" stroke="#000" stroke-width="0.9" />
<path d="M574 298.5 L576.5 296.5 L579 300 L578.5 306" fill="none" stroke="#000" stroke-width="1" />
<path d="M483.4 303.7 L592 411" fill="none" stroke="#000" stroke-width="4.2" stroke-linecap="butt"/>
<path d="M484.6 411 L592 303.7" fill="none" stroke="#000" stroke-width="4.2" stroke-linecap="butt"/>
<g filter="url(#idf)">
<text x="62.3" y="20" style="font-size:15px;font-weight:400;letter-spacing:-0.8px;" >线圈拆开时禁止通电</text>
<text x="190.5" y="20" style="font-size:14px;font-weight:700;" >!</text>
<text x="87" y="199" style="font-size:15px;font-weight:400;letter-spacing:-0.8px;" >线圈装好后方可通电</text>
<text x="143.3" y="426.6" style="font-size:15px;font-weight:400;letter-spacing:-0.5px;" >应从螺</text>
<text x="143.3" y="445.2" style="font-size:15px;font-weight:400;letter-spacing:-0.5px;" >纹2牙</text>
<text x="143.3" y="463.8" style="font-size:15px;font-weight:400;letter-spacing:-0.5px;" >处缠绕</text>
<text x="143.3" y="482.4" style="font-size:15px;font-weight:400;letter-spacing:-0.5px;" >密封</text>
<text x="3" y="506.6" style="font-size:15px;font-weight:400;letter-spacing:-0.9px;" >过滤器的滤</text>
<text x="3" y="523.6" style="font-size:15px;font-weight:400;" >网应≥60目</text>
<text x="171.3" y="544" style="font-size:15px;font-weight:400;letter-spacing:-0.7px;" >介质流向应与阀体箭头一致</text>
<text x="573.8" y="44.3" style="font-size:15px;font-weight:400;letter-spacing:-0.9px;" >最大用力</text>
<text x="631" y="44.3" style="font-size:13px;font-weight:400;font-family:&quot;Liberation Mono&quot;,monospace;" textLength="43" lengthAdjust="spacingAndGlyphs">. 1 Nm</text>
<text x="482.8" y="79.5" style="font-size:15px;font-weight:400;letter-spacing:-0.6px;" >密封垫圈</text>
<text x="382.5" y="149.4" style="font-size:15px;font-weight:400;letter-spacing:-0.9px;" >最大用力</text>
<text x="445" y="149.4" style="font-size:13px;font-weight:400;font-family:&quot;Liberation Mono&quot;,monospace;" textLength="43" lengthAdjust="spacingAndGlyphs">0.5 Nm</text>
<text x="589.8" y="390.8" style="font-size:15px;font-weight:500;letter-spacing:-0.5px;" >禁止手持线圈旋</text>
<text x="589.8" y="409.1" style="font-size:15px;font-weight:500;letter-spacing:-0.5px;" >转安装，这会引</text>
<text x="589.8" y="427.4" style="font-size:15px;font-weight:500;letter-spacing:-0.5px;" >起隔磁管变形或</text>
<text x="589.8" y="445.7" style="font-size:15px;font-weight:500;letter-spacing:-0.5px;" >断裂!</text>
<text x="458.5" y="636" style="font-size:15px;font-weight:400;letter-spacing:-0.8px;" >正确的连接安装方法</text>
</g>
</svg></body></html>
